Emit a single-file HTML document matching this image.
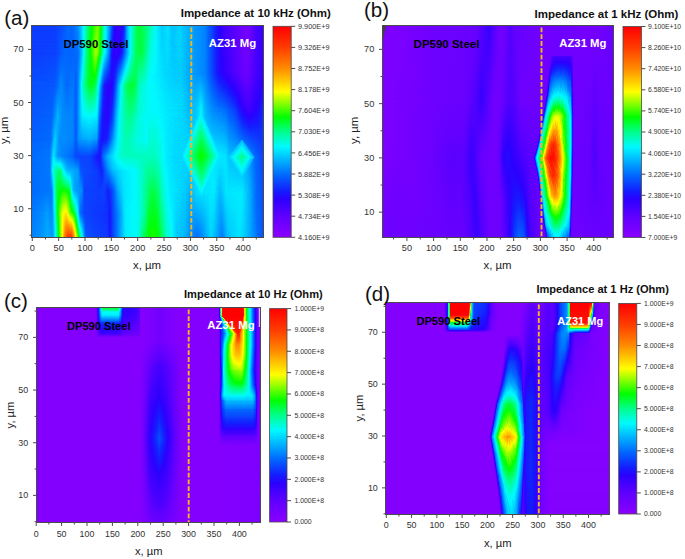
<!DOCTYPE html><html><head><meta charset="utf-8"><style>html,body{margin:0;padding:0;background:#fff;width:685px;height:559px;overflow:hidden}svg{display:block}</style></head><body><svg width="685" height="559" viewBox="0 0 685 559" font-family='"Liberation Sans", sans-serif'><defs><linearGradient id="fade" x1="0" y1="0" x2="0" y2="1"><stop offset="0" stop-color="#fff" stop-opacity="0"/><stop offset="1" stop-color="#fff"/></linearGradient><mask id="mf" maskContentUnits="objectBoundingBox"><rect width="1" height="1" fill="url(#fade)"/></mask><filter id="cm" x="0" y="0" width="1" height="1" color-interpolation-filters="sRGB"><feComponentTransfer><feFuncR type="table" tableValues=".549 .531 .514 .496 .478 .461 .443 .425 .408 .39 .373 .348 .324 .299 .275 .25 .225 .201 .176 .152 .127 .103 .078 .069 .059 .049 .039 .029 .02 .01 0 0 0 0 0 0 0 0 0 0 0 0 0 0 0 0 0 0 0 0 0 0 0 0 0 0 0 0 .083 .167 .25 .333 .417 .5 .583 .667 .75 .833 .917 1 1 1 1 1 1 1 1 1 1 1 1 1 1 1 1 1 1 1 1 1 1 1 1 1 1 1 1 1 1 1 1"/><feFuncG type="table" tableValues="0 0 0 0 0 0 0 0 0 0 0 0 0 0 0 0 0 0 0 .029 .059 .088 .118 .157 .196 .235 .275 .314 .353 .392 .431 .474 .516 .558 .6 .643 .685 .727 .769 .811 .854 .896 .938 .98 .983 .986 .989 .992 .994 .997 1 1 1 1 1 1 1 1 1 1 1 1 1 1 1 1 1 1 1 1 .959 .918 .877 .836 .795 .754 .713 .672 .631 .59 .549 .518 .486 .455 .424 .392 .361 .329 .298 .267 .235 .212 .188 .165 .141 .118 .094 .071 .047 .024 0"/><feFuncB type="table" tableValues="1 1 1 1 1 1 1 1 1 1 1 1 1 1 1 1 1 1 1 1 1 1 1 1 1 1 1 1 1 1 1 1 1 1 1 1 1 1 1 1 1 1 1 1 .936 .871 .807 .742 .678 .613 .549 .471 .392 .314 .235 .157 .078 0 0 0 0 0 0 0 0 0 0 0 0 0 0 0 0 0 0 0 0 0 0 0 0 0 0 0 0 0 0 0 0 0 0 0 0 0 0 0 0 0 0 0 0"/></feComponentTransfer></filter><linearGradient id="cbg" x1="0" y1="0" x2="0" y2="1"><stop offset="0" stop-color="#fff"/><stop offset="1" stop-color="#000"/></linearGradient><linearGradient id="a0r0" gradientUnits="userSpaceOnUse" x1="32" x2="149" y1="0" y2="0"><stop offset="0" stop-color="#404040"/><stop offset=".1966" stop-color="#404040"/><stop offset=".2735" stop-color="#474747"/><stop offset=".3077" stop-color="#4c4c4c"/><stop offset=".3419" stop-color="#4a4a4a"/><stop offset=".3932" stop-color="#545454"/><stop offset=".4359" stop-color="#6b6b6b"/><stop offset=".4701" stop-color="#808080"/><stop offset=".5043" stop-color="#8f8f8f"/><stop offset=".5385" stop-color="#999999"/><stop offset=".5641" stop-color="#a1a1a1"/><stop offset=".5897" stop-color="#919191"/><stop offset=".6154" stop-color="#787878"/><stop offset=".641" stop-color="#666666"/><stop offset=".6667" stop-color="#545454"/><stop offset=".7009" stop-color="#333333"/><stop offset=".7521" stop-color="#292929"/><stop offset=".7863" stop-color="#383838"/><stop offset=".812" stop-color="#5c5c5c"/><stop offset=".8462" stop-color="#737373"/><stop offset=".906" stop-color="#8c8c8c"/><stop offset=".9658" stop-color="#858585"/><stop offset="1" stop-color="#808080"/></linearGradient><linearGradient id="a0r1" gradientUnits="userSpaceOnUse" x1="32" x2="149" y1="0" y2="0"><stop offset="0" stop-color="#404040"/><stop offset=".2051" stop-color="#424242"/><stop offset=".2821" stop-color="#4c4c4c"/><stop offset=".3248" stop-color="#4a4a4a"/><stop offset=".3932" stop-color="#4c4c4c"/><stop offset=".4274" stop-color="#616161"/><stop offset=".4615" stop-color="#808080"/><stop offset=".4957" stop-color="#8f8f8f"/><stop offset=".547" stop-color="#a8a8a8"/><stop offset=".5812" stop-color="#949494"/><stop offset=".6068" stop-color="#787878"/><stop offset=".6325" stop-color="#666666"/><stop offset=".6581" stop-color="#525252"/><stop offset=".6838" stop-color="#333333"/><stop offset=".7179" stop-color="#292929"/><stop offset=".7607" stop-color="#333333"/><stop offset=".8034" stop-color="#545454"/><stop offset=".8462" stop-color="#737373"/><stop offset=".8889" stop-color="#878787"/><stop offset=".9402" stop-color="#8a8a8a"/><stop offset="1" stop-color="#787878"/></linearGradient><linearGradient id="a0r2" gradientUnits="userSpaceOnUse" x1="32" x2="149" y1="0" y2="0"><stop offset="0" stop-color="#454545"/><stop offset=".1966" stop-color="#474747"/><stop offset=".2479" stop-color="#545454"/><stop offset=".2906" stop-color="#4c4c4c"/><stop offset=".359" stop-color="#4f4f4f"/><stop offset=".3761" stop-color="#474747"/><stop offset=".4017" stop-color="#595959"/><stop offset=".4274" stop-color="#737373"/><stop offset=".4615" stop-color="#858585"/><stop offset=".4957" stop-color="#8f8f8f"/><stop offset=".5385" stop-color="#8a8a8a"/><stop offset=".5641" stop-color="#737373"/><stop offset=".5897" stop-color="#545454"/><stop offset=".6154" stop-color="#383838"/><stop offset=".6496" stop-color="#2e2e2e"/><stop offset=".6838" stop-color="#2e2e2e"/><stop offset=".7094" stop-color="#404040"/><stop offset=".735" stop-color="#595959"/><stop offset=".7692" stop-color="#737373"/><stop offset=".8034" stop-color="#858585"/><stop offset=".8462" stop-color="#8c8c8c"/><stop offset=".8889" stop-color="#878787"/><stop offset=".9145" stop-color="#787878"/><stop offset="1" stop-color="#6e6e6e"/></linearGradient><linearGradient id="a0r3" gradientUnits="userSpaceOnUse" x1="32" x2="149" y1="0" y2="0"><stop offset="0" stop-color="#474747"/><stop offset=".1709" stop-color="#4a4a4a"/><stop offset=".2179" stop-color="#5e5e5e"/><stop offset=".2564" stop-color="#545454"/><stop offset=".3504" stop-color="#525252"/><stop offset=".3761" stop-color="#474747"/><stop offset=".4017" stop-color="#595959"/><stop offset=".4274" stop-color="#6b6b6b"/><stop offset=".4957" stop-color="#6e6e6e"/><stop offset=".5556" stop-color="#6b6b6b"/><stop offset=".5769" stop-color="#4c4c4c"/><stop offset=".6068" stop-color="#333333"/><stop offset=".6496" stop-color="#303030"/><stop offset=".6838" stop-color="#3d3d3d"/><stop offset=".7179" stop-color="#5c5c5c"/><stop offset=".7521" stop-color="#707070"/><stop offset=".7863" stop-color="#7a7a7a"/><stop offset=".8376" stop-color="#808080"/><stop offset=".8803" stop-color="#7a7a7a"/><stop offset=".9145" stop-color="#737373"/><stop offset="1" stop-color="#6e6e6e"/></linearGradient><linearGradient id="a0r4" gradientUnits="userSpaceOnUse" x1="32" x2="149" y1="0" y2="0"><stop offset="0" stop-color="#4a4a4a"/><stop offset=".1624" stop-color="#4c4c4c"/><stop offset=".1966" stop-color="#666666"/><stop offset=".2308" stop-color="#545454"/><stop offset=".2821" stop-color="#545454"/><stop offset=".3504" stop-color="#525252"/><stop offset=".3761" stop-color="#474747"/><stop offset=".4017" stop-color="#575757"/><stop offset=".4957" stop-color="#5c5c5c"/><stop offset=".5556" stop-color="#575757"/><stop offset=".5726" stop-color="#404040"/><stop offset=".5983" stop-color="#333333"/><stop offset=".641" stop-color="#383838"/><stop offset=".6752" stop-color="#4c4c4c"/><stop offset=".7094" stop-color="#616161"/><stop offset=".7436" stop-color="#707070"/><stop offset=".7949" stop-color="#7a7a7a"/><stop offset=".8462" stop-color="#787878"/><stop offset=".8803" stop-color="#737373"/><stop offset="1" stop-color="#6e6e6e"/></linearGradient><linearGradient id="a0r5" gradientUnits="userSpaceOnUse" x1="32" x2="149" y1="0" y2="0"><stop offset="0" stop-color="#4c4c4c"/><stop offset=".1538" stop-color="#4f4f4f"/><stop offset=".1838" stop-color="#6b6b6b"/><stop offset=".2137" stop-color="#575757"/><stop offset=".2564" stop-color="#525252"/><stop offset=".3504" stop-color="#4a4a4a"/><stop offset=".3761" stop-color="#424242"/><stop offset=".4957" stop-color="#424242"/><stop offset=".547" stop-color="#383838"/><stop offset=".5812" stop-color="#333333"/><stop offset=".6068" stop-color="#4c4c4c"/><stop offset=".6496" stop-color="#5e5e5e"/><stop offset=".6923" stop-color="#696969"/><stop offset=".735" stop-color="#737373"/><stop offset=".7949" stop-color="#787878"/><stop offset=".8803" stop-color="#787878"/><stop offset=".9487" stop-color="#787878"/><stop offset="1" stop-color="#787878"/></linearGradient><linearGradient id="a0r6" gradientUnits="userSpaceOnUse" x1="32" x2="149" y1="0" y2="0"><stop offset="0" stop-color="#4c4c4c"/><stop offset=".1538" stop-color="#4f4f4f"/><stop offset=".1752" stop-color="#6e6e6e"/><stop offset=".2051" stop-color="#808080"/><stop offset=".2393" stop-color="#858585"/><stop offset=".2692" stop-color="#6e6e6e"/><stop offset=".2991" stop-color="#5e5e5e"/><stop offset=".3932" stop-color="#595959"/><stop offset=".4188" stop-color="#454545"/><stop offset=".5556" stop-color="#404040"/><stop offset=".5983" stop-color="#383838"/><stop offset=".6325" stop-color="#4c4c4c"/><stop offset=".6838" stop-color="#5e5e5e"/><stop offset=".735" stop-color="#666666"/><stop offset=".7949" stop-color="#6b6b6b"/><stop offset=".8803" stop-color="#6e6e6e"/><stop offset=".9316" stop-color="#757575"/><stop offset="1" stop-color="#808080"/></linearGradient><linearGradient id="a0r7" gradientUnits="userSpaceOnUse" x1="32" x2="149" y1="0" y2="0"><stop offset="0" stop-color="#4c4c4c"/><stop offset=".1709" stop-color="#4f4f4f"/><stop offset=".188" stop-color="#6e6e6e"/><stop offset=".2137" stop-color="#8c8c8c"/><stop offset=".2735" stop-color="#949494"/><stop offset=".3248" stop-color="#8c8c8c"/><stop offset=".3368" stop-color="#6e6e6e"/><stop offset=".359" stop-color="#595959"/><stop offset=".4274" stop-color="#545454"/><stop offset=".4444" stop-color="#424242"/><stop offset=".5812" stop-color="#404040"/><stop offset=".6154" stop-color="#424242"/><stop offset=".6496" stop-color="#383838"/><stop offset=".6838" stop-color="#424242"/><stop offset=".735" stop-color="#5c5c5c"/><stop offset=".7863" stop-color="#696969"/><stop offset=".8803" stop-color="#6e6e6e"/><stop offset=".9316" stop-color="#757575"/><stop offset="1" stop-color="#858585"/></linearGradient><linearGradient id="a0r8" gradientUnits="userSpaceOnUse" x1="32" x2="149" y1="0" y2="0"><stop offset="0" stop-color="#4f4f4f"/><stop offset=".094" stop-color="#545454"/><stop offset=".1282" stop-color="#595959"/><stop offset=".1709" stop-color="#525252"/><stop offset=".1949" stop-color="#6e6e6e"/><stop offset=".2137" stop-color="#8c8c8c"/><stop offset=".2564" stop-color="#adadad"/><stop offset=".2906" stop-color="#b8b8b8"/><stop offset=".3248" stop-color="#9e9e9e"/><stop offset=".359" stop-color="#919191"/><stop offset=".3906" stop-color="#6e6e6e"/><stop offset=".4103" stop-color="#4c4c4c"/><stop offset=".4444" stop-color="#424242"/><stop offset=".641" stop-color="#3d3d3d"/><stop offset=".6667" stop-color="#363636"/><stop offset=".7009" stop-color="#474747"/><stop offset=".7521" stop-color="#575757"/><stop offset=".7949" stop-color="#6b6b6b"/><stop offset=".906" stop-color="#707070"/><stop offset=".9487" stop-color="#7a7a7a"/><stop offset="1" stop-color="#8a8a8a"/></linearGradient><linearGradient id="a0r9" gradientUnits="userSpaceOnUse" x1="32" x2="149" y1="0" y2="0"><stop offset="0" stop-color="#525252"/><stop offset=".094" stop-color="#575757"/><stop offset=".1282" stop-color="#5c5c5c"/><stop offset=".1795" stop-color="#575757"/><stop offset=".2017" stop-color="#6e6e6e"/><stop offset=".2291" stop-color="#919191"/><stop offset=".2564" stop-color="#adadad"/><stop offset=".2821" stop-color="#d6d6d6"/><stop offset=".3077" stop-color="#ebebeb"/><stop offset=".3368" stop-color="#ebebeb"/><stop offset=".3504" stop-color="#dbdbdb"/><stop offset=".3761" stop-color="#b2b2b2"/><stop offset=".4017" stop-color="#919191"/><stop offset=".4308" stop-color="#6e6e6e"/><stop offset=".4581" stop-color="#474747"/><stop offset=".5385" stop-color="#424242"/><stop offset=".641" stop-color="#404040"/><stop offset=".6667" stop-color="#363636"/><stop offset=".6923" stop-color="#424242"/><stop offset=".7521" stop-color="#595959"/><stop offset=".8034" stop-color="#6b6b6b"/><stop offset=".906" stop-color="#707070"/><stop offset=".9487" stop-color="#858585"/><stop offset="1" stop-color="#919191"/></linearGradient><linearGradient id="a1r0" gradientUnits="userSpaceOnUse" x1="148" x2="263" y1="0" y2="0"><stop offset="0" stop-color="#808080"/><stop offset=".0261" stop-color="#787878"/><stop offset=".0696" stop-color="#6e6e6e"/><stop offset=".1217" stop-color="#636363"/><stop offset=".1739" stop-color="#696969"/><stop offset=".2087" stop-color="#616161"/><stop offset=".2783" stop-color="#666666"/><stop offset=".313" stop-color="#616161"/><stop offset=".3652" stop-color="#5c5c5c"/><stop offset=".4087" stop-color="#575757"/><stop offset=".4957" stop-color="#525252"/><stop offset=".5478" stop-color="#454545"/><stop offset=".6087" stop-color="#333333"/><stop offset=".6783" stop-color="#242424"/><stop offset=".7565" stop-color="#1c1c1c"/><stop offset=".8174" stop-color="#121212"/><stop offset=".8609" stop-color="#0d0d0d"/><stop offset=".8957" stop-color="#141414"/><stop offset=".9391" stop-color="#242424"/><stop offset="1" stop-color="#292929"/></linearGradient><linearGradient id="a1r1" gradientUnits="userSpaceOnUse" x1="148" x2="263" y1="0" y2="0"><stop offset="0" stop-color="#707070"/><stop offset=".0435" stop-color="#6e6e6e"/><stop offset=".087" stop-color="#6b6b6b"/><stop offset=".1478" stop-color="#666666"/><stop offset=".2348" stop-color="#636363"/><stop offset=".2957" stop-color="#636363"/><stop offset=".3478" stop-color="#5c5c5c"/><stop offset=".4087" stop-color="#575757"/><stop offset=".4957" stop-color="#525252"/><stop offset=".5478" stop-color="#454545"/><stop offset=".6174" stop-color="#333333"/><stop offset=".713" stop-color="#262626"/><stop offset=".8" stop-color="#1a1a1a"/><stop offset=".8522" stop-color="#121212"/><stop offset=".8957" stop-color="#1a1a1a"/><stop offset=".9478" stop-color="#262626"/><stop offset="1" stop-color="#2b2b2b"/></linearGradient><linearGradient id="a1r2" gradientUnits="userSpaceOnUse" x1="148" x2="263" y1="0" y2="0"><stop offset="0" stop-color="#6e6e6e"/><stop offset=".0696" stop-color="#6e6e6e"/><stop offset=".1913" stop-color="#696969"/><stop offset=".2957" stop-color="#666666"/><stop offset=".3652" stop-color="#5e5e5e"/><stop offset=".4261" stop-color="#636363"/><stop offset=".4609" stop-color="#6e6e6e"/><stop offset=".4957" stop-color="#5e5e5e"/><stop offset=".5565" stop-color="#545454"/><stop offset=".6696" stop-color="#4c4c4c"/><stop offset=".7565" stop-color="#404040"/><stop offset=".8261" stop-color="#2e2e2e"/><stop offset=".8783" stop-color="#262626"/><stop offset=".9304" stop-color="#2e2e2e"/><stop offset=".9739" stop-color="#333333"/><stop offset="1" stop-color="#3d3d3d"/></linearGradient><linearGradient id="a1r3" gradientUnits="userSpaceOnUse" x1="148" x2="263" y1="0" y2="0"><stop offset="0" stop-color="#787878"/><stop offset=".0609" stop-color="#787878"/><stop offset=".1043" stop-color="#737373"/><stop offset=".1565" stop-color="#6b6b6b"/><stop offset=".2348" stop-color="#666666"/><stop offset=".2957" stop-color="#666666"/><stop offset=".6087" stop-color="#6b6b6b"/><stop offset=".6783" stop-color="#696969"/><stop offset=".7043" stop-color="#616161"/><stop offset=".8696" stop-color="#595959"/><stop offset=".9304" stop-color="#4c4c4c"/><stop offset="1" stop-color="#424242"/></linearGradient><linearGradient id="a1r4" gradientUnits="userSpaceOnUse" x1="148" x2="263" y1="0" y2="0"><stop offset="0" stop-color="#858585"/><stop offset=".0435" stop-color="#8a8a8a"/><stop offset=".087" stop-color="#858585"/><stop offset=".1304" stop-color="#757575"/><stop offset=".1913" stop-color="#6b6b6b"/><stop offset=".3217" stop-color="#636363"/><stop offset=".3652" stop-color="#5c5c5c"/><stop offset=".4174" stop-color="#666666"/><stop offset=".5739" stop-color="#6b6b6b"/><stop offset=".6261" stop-color="#5e5e5e"/><stop offset=".6783" stop-color="#696969"/><stop offset=".8174" stop-color="#6b6b6b"/><stop offset=".887" stop-color="#5c5c5c"/><stop offset=".9391" stop-color="#4c4c4c"/><stop offset="1" stop-color="#454545"/></linearGradient><linearGradient id="a1r5" gradientUnits="userSpaceOnUse" x1="148" x2="263" y1="0" y2="0"><stop offset="0" stop-color="#919191"/><stop offset=".0261" stop-color="#949494"/><stop offset=".0696" stop-color="#949494"/><stop offset=".113" stop-color="#8a8a8a"/><stop offset=".1565" stop-color="#787878"/><stop offset=".2087" stop-color="#6e6e6e"/><stop offset=".2435" stop-color="#636363"/><stop offset=".3217" stop-color="#5e5e5e"/><stop offset=".3652" stop-color="#545454"/><stop offset=".4261" stop-color="#4c4c4c"/><stop offset=".4783" stop-color="#545454"/><stop offset=".5478" stop-color="#666666"/><stop offset=".5913" stop-color="#5c5c5c"/><stop offset=".6435" stop-color="#4f4f4f"/><stop offset=".6957" stop-color="#616161"/><stop offset=".8" stop-color="#696969"/><stop offset=".8522" stop-color="#616161"/><stop offset=".9043" stop-color="#575757"/><stop offset=".9565" stop-color="#4c4c4c"/><stop offset="1" stop-color="#474747"/></linearGradient><linearGradient id="at0" gradientUnits="userSpaceOnUse" x1="200.5" y1="110" x2="209.04" y2="113.53"><stop offset="0" stop-color="#666666"/><stop offset="1" stop-color="#828282"/></linearGradient><linearGradient id="at1" gradientUnits="userSpaceOnUse" x1="200.5" y1="110" x2="192.51" y2="113.47"><stop offset="0" stop-color="#666666"/><stop offset="1" stop-color="#828282"/></linearGradient><linearGradient id="at2" gradientUnits="userSpaceOnUse" x1="201.5" y1="198" x2="209.65" y2="194.12"><stop offset="0" stop-color="#666666"/><stop offset="1" stop-color="#828282"/></linearGradient><linearGradient id="at3" gradientUnits="userSpaceOnUse" x1="201.5" y1="198" x2="193.61" y2="194.43"><stop offset="0" stop-color="#666666"/><stop offset="1" stop-color="#828282"/></linearGradient><linearGradient id="at4" gradientUnits="userSpaceOnUse" x1="220.5" y1="156" x2="212.51" y2="159.47"><stop offset="0" stop-color="#666666"/><stop offset="1" stop-color="#828282"/></linearGradient><linearGradient id="at5" gradientUnits="userSpaceOnUse" x1="211" y1="156" x2="203.01" y2="159.47"><stop offset="0" stop-color="#828282"/><stop offset="1" stop-color="#949494"/></linearGradient><linearGradient id="at6" gradientUnits="userSpaceOnUse" x1="220.5" y1="156" x2="212.61" y2="152.43"><stop offset="0" stop-color="#666666"/><stop offset="1" stop-color="#828282"/></linearGradient><linearGradient id="at7" gradientUnits="userSpaceOnUse" x1="211" y1="156" x2="203.11" y2="152.43"><stop offset="0" stop-color="#828282"/><stop offset="1" stop-color="#949494"/></linearGradient><linearGradient id="at8" gradientUnits="userSpaceOnUse" x1="181.5" y1="156" x2="190.22" y2="152.06"><stop offset="0" stop-color="#666666"/><stop offset="1" stop-color="#828282"/></linearGradient><linearGradient id="at9" gradientUnits="userSpaceOnUse" x1="192" y1="156" x2="199.89" y2="152.43"><stop offset="0" stop-color="#828282"/><stop offset="1" stop-color="#949494"/></linearGradient><linearGradient id="at10" gradientUnits="userSpaceOnUse" x1="181.5" y1="156" x2="190.61" y2="159.56"><stop offset="0" stop-color="#666666"/><stop offset="1" stop-color="#828282"/></linearGradient><linearGradient id="at11" gradientUnits="userSpaceOnUse" x1="192" y1="156" x2="200.24" y2="159.22"><stop offset="0" stop-color="#828282"/><stop offset="1" stop-color="#949494"/></linearGradient><linearGradient id="at12" gradientUnits="userSpaceOnUse" x1="242" y1="180" x2="247.77" y2="176.49"><stop offset="0" stop-color="#616161"/><stop offset="1" stop-color="#737373"/></linearGradient><linearGradient id="at13" gradientUnits="userSpaceOnUse" x1="254" y1="157" x2="248.18" y2="154.19"><stop offset="0" stop-color="#5e5e5e"/><stop offset="1" stop-color="#737373"/></linearGradient><linearGradient id="at14" gradientUnits="userSpaceOnUse" x1="228" y1="157" x2="233.88" y2="153.47"><stop offset="0" stop-color="#616161"/><stop offset="1" stop-color="#737373"/></linearGradient><linearGradient id="at15" gradientUnits="userSpaceOnUse" x1="236" y1="157" x2="240.41" y2="154.35"><stop offset="0" stop-color="#737373"/><stop offset="1" stop-color="#808080"/></linearGradient><linearGradient id="at16" gradientUnits="userSpaceOnUse" x1="254" y1="157" x2="249.59" y2="154.35"><stop offset="0" stop-color="#5e5e5e"/><stop offset="1" stop-color="#737373"/></linearGradient><linearGradient id="at17" gradientUnits="userSpaceOnUse" x1="248" y1="157" x2="243.59" y2="154.35"><stop offset="0" stop-color="#737373"/><stop offset="1" stop-color="#808080"/></linearGradient><linearGradient id="at18" gradientUnits="userSpaceOnUse" x1="242" y1="150" x2="238.54" y2="152.96"><stop offset="0" stop-color="#737373"/><stop offset="1" stop-color="#808080"/></linearGradient><linearGradient id="at19" gradientUnits="userSpaceOnUse" x1="236" y1="157" x2="239.46" y2="159.96"><stop offset="0" stop-color="#737373"/><stop offset="1" stop-color="#808080"/></linearGradient><linearGradient id="at20" gradientUnits="userSpaceOnUse" x1="242" y1="140" x2="237.29" y2="143.33"><stop offset="0" stop-color="#5e5e5e"/><stop offset="1" stop-color="#737373"/></linearGradient><linearGradient id="at21" gradientUnits="userSpaceOnUse" x1="254" y1="157" x2="250.54" y2="159.96"><stop offset="0" stop-color="#5e5e5e"/><stop offset="1" stop-color="#737373"/></linearGradient><linearGradient id="at22" gradientUnits="userSpaceOnUse" x1="242" y1="140" x2="246.97" y2="144.41"><stop offset="0" stop-color="#5e5e5e"/><stop offset="1" stop-color="#737373"/></linearGradient><linearGradient id="at23" gradientUnits="userSpaceOnUse" x1="228" y1="157" x2="232.61" y2="160.95"><stop offset="0" stop-color="#616161"/><stop offset="1" stop-color="#737373"/></linearGradient><clipPath id="cpa"><rect x="32" y="26" width="231" height="211"/></clipPath><linearGradient id="b0r0" gradientUnits="userSpaceOnUse" x1="383" x2="613" y1="0" y2="0"><stop offset="0" stop-color="#080808"/><stop offset=".087" stop-color="#0a0a0a"/><stop offset=".2348" stop-color="#121212"/><stop offset=".4" stop-color="#141414"/><stop offset=".4348" stop-color="#1f1f1f"/><stop offset=".4609" stop-color="#2b2b2b"/><stop offset=".4826" stop-color="#1f1f1f"/><stop offset=".5087" stop-color="#0f0f0f"/><stop offset=".5348" stop-color="#141414"/><stop offset=".5522" stop-color="#1f1f1f"/><stop offset=".5739" stop-color="#171717"/><stop offset=".6391" stop-color="#121212"/><stop offset=".7043" stop-color="#0f0f0f"/><stop offset=".7696" stop-color="#121212"/><stop offset=".8348" stop-color="#0f0f0f"/><stop offset=".9217" stop-color="#0d0d0d"/><stop offset=".9696" stop-color="#121212"/><stop offset="1" stop-color="#171717"/></linearGradient><linearGradient id="b0r1" gradientUnits="userSpaceOnUse" x1="383" x2="613" y1="0" y2="0"><stop offset="0" stop-color="#080808"/><stop offset=".087" stop-color="#0d0d0d"/><stop offset=".2348" stop-color="#121212"/><stop offset=".3565" stop-color="#141414"/><stop offset=".4" stop-color="#1f1f1f"/><stop offset=".4261" stop-color="#2b2b2b"/><stop offset=".4522" stop-color="#1f1f1f"/><stop offset=".487" stop-color="#0f0f0f"/><stop offset=".5174" stop-color="#121212"/><stop offset=".5391" stop-color="#1f1f1f"/><stop offset=".5696" stop-color="#1f1f1f"/><stop offset=".5957" stop-color="#121212"/><stop offset=".6391" stop-color="#121212"/><stop offset=".8348" stop-color="#121212"/><stop offset=".9" stop-color="#141414"/><stop offset=".9217" stop-color="#1a1a1a"/><stop offset=".9435" stop-color="#141414"/><stop offset="1" stop-color="#141414"/></linearGradient><linearGradient id="b0r2" gradientUnits="userSpaceOnUse" x1="383" x2="613" y1="0" y2="0"><stop offset="0" stop-color="#0a0a0a"/><stop offset=".0739" stop-color="#0d0d0d"/><stop offset=".2043" stop-color="#121212"/><stop offset=".2696" stop-color="#1a1a1a"/><stop offset=".313" stop-color="#1c1c1c"/><stop offset=".3478" stop-color="#1a1a1a"/><stop offset=".3652" stop-color="#212121"/><stop offset=".3826" stop-color="#2b2b2b"/><stop offset=".4043" stop-color="#212121"/><stop offset=".4304" stop-color="#141414"/><stop offset=".487" stop-color="#0f0f0f"/><stop offset=".5087" stop-color="#1a1a1a"/><stop offset=".5217" stop-color="#2e2e2e"/><stop offset=".5435" stop-color="#333333"/><stop offset=".5739" stop-color="#2b2b2b"/><stop offset=".6174" stop-color="#1f1f1f"/><stop offset=".6522" stop-color="#1a1a1a"/><stop offset=".8348" stop-color="#121212"/><stop offset=".9" stop-color="#171717"/><stop offset=".9217" stop-color="#212121"/><stop offset=".9435" stop-color="#171717"/><stop offset="1" stop-color="#141414"/></linearGradient><linearGradient id="b0r3" gradientUnits="userSpaceOnUse" x1="383" x2="613" y1="0" y2="0"><stop offset="0" stop-color="#0d0d0d"/><stop offset=".0522" stop-color="#121212"/><stop offset=".1174" stop-color="#0f0f0f"/><stop offset=".2478" stop-color="#141414"/><stop offset=".2913" stop-color="#1a1a1a"/><stop offset=".3348" stop-color="#171717"/><stop offset=".3783" stop-color="#212121"/><stop offset=".4" stop-color="#2b2b2b"/><stop offset=".4217" stop-color="#1f1f1f"/><stop offset=".4565" stop-color="#121212"/><stop offset=".5087" stop-color="#121212"/><stop offset=".5348" stop-color="#242424"/><stop offset=".5609" stop-color="#333333"/><stop offset=".587" stop-color="#383838"/><stop offset=".613" stop-color="#333333"/><stop offset=".6391" stop-color="#1f1f1f"/><stop offset=".6826" stop-color="#141414"/><stop offset=".8348" stop-color="#121212"/><stop offset=".9217" stop-color="#1a1a1a"/><stop offset="1" stop-color="#141414"/></linearGradient><linearGradient id="b0r4" gradientUnits="userSpaceOnUse" x1="383" x2="613" y1="0" y2="0"><stop offset="0" stop-color="#0d0d0d"/><stop offset=".0391" stop-color="#141414"/><stop offset=".0739" stop-color="#121212"/><stop offset=".2478" stop-color="#141414"/><stop offset=".3565" stop-color="#171717"/><stop offset=".387" stop-color="#212121"/><stop offset=".4087" stop-color="#2b2b2b"/><stop offset=".4304" stop-color="#1f1f1f"/><stop offset=".4652" stop-color="#121212"/><stop offset=".5087" stop-color="#121212"/><stop offset=".5435" stop-color="#262626"/><stop offset=".5696" stop-color="#404040"/><stop offset=".5913" stop-color="#4c4c4c"/><stop offset=".613" stop-color="#474747"/><stop offset=".6391" stop-color="#262626"/><stop offset=".6826" stop-color="#141414"/><stop offset=".8348" stop-color="#121212"/><stop offset=".9217" stop-color="#141414"/><stop offset="1" stop-color="#141414"/></linearGradient><linearGradient id="bt0" gradientUnits="userSpaceOnUse" x1="551" y1="55.5" x2="551" y2="57"><stop offset="0" stop-color="#141414"/><stop offset="1" stop-color="#242424"/></linearGradient><linearGradient id="bt1" gradientUnits="userSpaceOnUse" x1="551" y1="55.5" x2="553.25" y2="56.25"><stop offset="0" stop-color="#141414"/><stop offset="1" stop-color="#242424"/></linearGradient><linearGradient id="bt2" gradientUnits="userSpaceOnUse" x1="553" y1="55.5" x2="553" y2="57"><stop offset="0" stop-color="#141414"/><stop offset="1" stop-color="#262626"/></linearGradient><linearGradient id="bt3" gradientUnits="userSpaceOnUse" x1="553" y1="55.5" x2="553.14" y2="57.24"><stop offset="0" stop-color="#141414"/><stop offset="1" stop-color="#262626"/></linearGradient><linearGradient id="bt4" gradientUnits="userSpaceOnUse" x1="556" y1="55.5" x2="556" y2="57"><stop offset="0" stop-color="#141414"/><stop offset="1" stop-color="#262626"/></linearGradient><linearGradient id="bt5" gradientUnits="userSpaceOnUse" x1="556" y1="55.5" x2="556" y2="57"><stop offset="0" stop-color="#141414"/><stop offset="1" stop-color="#262626"/></linearGradient><linearGradient id="bt6" gradientUnits="userSpaceOnUse" x1="559" y1="55.5" x2="559" y2="57"><stop offset="0" stop-color="#141414"/><stop offset="1" stop-color="#262626"/></linearGradient><linearGradient id="bt7" gradientUnits="userSpaceOnUse" x1="559" y1="55.5" x2="559" y2="57"><stop offset="0" stop-color="#141414"/><stop offset="1" stop-color="#262626"/></linearGradient><linearGradient id="bt8" gradientUnits="userSpaceOnUse" x1="562" y1="55.5" x2="562" y2="57"><stop offset="0" stop-color="#141414"/><stop offset="1" stop-color="#262626"/></linearGradient><linearGradient id="bt9" gradientUnits="userSpaceOnUse" x1="562" y1="55.5" x2="562" y2="57"><stop offset="0" stop-color="#141414"/><stop offset="1" stop-color="#262626"/></linearGradient><linearGradient id="bt10" gradientUnits="userSpaceOnUse" x1="565" y1="55.5" x2="565" y2="57"><stop offset="0" stop-color="#141414"/><stop offset="1" stop-color="#262626"/></linearGradient><linearGradient id="bt11" gradientUnits="userSpaceOnUse" x1="565" y1="55.5" x2="565" y2="57"><stop offset="0" stop-color="#141414"/><stop offset="1" stop-color="#262626"/></linearGradient><linearGradient id="bt12" gradientUnits="userSpaceOnUse" x1="568" y1="55.5" x2="568" y2="57"><stop offset="0" stop-color="#141414"/><stop offset="1" stop-color="#242424"/></linearGradient><linearGradient id="bt13" gradientUnits="userSpaceOnUse" x1="568" y1="55.5" x2="567.89" y2="56.99"><stop offset="0" stop-color="#141414"/><stop offset="1" stop-color="#262626"/></linearGradient><linearGradient id="bt15" gradientUnits="userSpaceOnUse" x1="571" y1="55.5" x2="570.34" y2="56.6"><stop offset="0" stop-color="#141414"/><stop offset="1" stop-color="#242424"/></linearGradient><linearGradient id="bt16" gradientUnits="userSpaceOnUse" x1="550.5" y1="57" x2="554.33" y2="58.13"><stop offset="0" stop-color="#141414"/><stop offset="1" stop-color="#2e2e2e"/></linearGradient><linearGradient id="bt17" gradientUnits="userSpaceOnUse" x1="550.5" y1="57" x2="552.97" y2="57.27"><stop offset="0" stop-color="#141414"/><stop offset="1" stop-color="#2e2e2e"/></linearGradient><linearGradient id="bt18" gradientUnits="userSpaceOnUse" x1="553" y1="57" x2="557.33" y2="64.69"><stop offset="0" stop-color="#242424"/><stop offset="1" stop-color="#333333"/></linearGradient><linearGradient id="bt19" gradientUnits="userSpaceOnUse" x1="553" y1="57" x2="558.61" y2="61.36"><stop offset="0" stop-color="#242424"/><stop offset="1" stop-color="#333333"/></linearGradient><linearGradient id="bt20" gradientUnits="userSpaceOnUse" x1="556" y1="57" x2="556" y2="66"><stop offset="0" stop-color="#262626"/><stop offset="1" stop-color="#363636"/></linearGradient><linearGradient id="bt21" gradientUnits="userSpaceOnUse" x1="556" y1="57" x2="560.33" y2="64.69"><stop offset="0" stop-color="#262626"/><stop offset="1" stop-color="#363636"/></linearGradient><linearGradient id="bt22" gradientUnits="userSpaceOnUse" x1="559" y1="57" x2="559" y2="66"><stop offset="0" stop-color="#262626"/><stop offset="1" stop-color="#363636"/></linearGradient><linearGradient id="bt23" gradientUnits="userSpaceOnUse" x1="559" y1="57" x2="559" y2="66"><stop offset="0" stop-color="#262626"/><stop offset="1" stop-color="#363636"/></linearGradient><linearGradient id="bt24" gradientUnits="userSpaceOnUse" x1="562" y1="57" x2="562" y2="66"><stop offset="0" stop-color="#262626"/><stop offset="1" stop-color="#363636"/></linearGradient><linearGradient id="bt25" gradientUnits="userSpaceOnUse" x1="562" y1="57" x2="562" y2="66"><stop offset="0" stop-color="#262626"/><stop offset="1" stop-color="#363636"/></linearGradient><linearGradient id="bt26" gradientUnits="userSpaceOnUse" x1="565" y1="57" x2="565" y2="66"><stop offset="0" stop-color="#262626"/><stop offset="1" stop-color="#333333"/></linearGradient><linearGradient id="bt27" gradientUnits="userSpaceOnUse" x1="565" y1="57" x2="561.06" y2="64.44"><stop offset="0" stop-color="#262626"/><stop offset="1" stop-color="#363636"/></linearGradient><linearGradient id="bt28" gradientUnits="userSpaceOnUse" x1="571" y1="57" x2="566.68" y2="62.76"><stop offset="0" stop-color="#242424"/><stop offset="1" stop-color="#2e2e2e"/></linearGradient><linearGradient id="bt29" gradientUnits="userSpaceOnUse" x1="568" y1="57" x2="563" y2="62"><stop offset="0" stop-color="#262626"/><stop offset="1" stop-color="#333333"/></linearGradient><linearGradient id="bt30" gradientUnits="userSpaceOnUse" x1="573.5" y1="57" x2="571" y2="57"><stop offset="0" stop-color="#141414"/><stop offset="1" stop-color="#242424"/></linearGradient><linearGradient id="bt31" gradientUnits="userSpaceOnUse" x1="573.5" y1="66" x2="571.03" y2="66.27"><stop offset="0" stop-color="#141414"/><stop offset="1" stop-color="#2e2e2e"/></linearGradient><linearGradient id="bt32" gradientUnits="userSpaceOnUse" x1="549.5" y1="66" x2="553.97" y2="67.12"><stop offset="0" stop-color="#141414"/><stop offset="1" stop-color="#454545"/></linearGradient><linearGradient id="bt33" gradientUnits="userSpaceOnUse" x1="549.5" y1="66" x2="551.98" y2="66.25"><stop offset="0" stop-color="#141414"/><stop offset="1" stop-color="#454545"/></linearGradient><linearGradient id="bt34" gradientUnits="userSpaceOnUse" x1="552" y1="66" x2="559.99" y2="75.59"><stop offset="0" stop-color="#2e2e2e"/><stop offset="1" stop-color="#4f4f4f"/></linearGradient><linearGradient id="bt35" gradientUnits="userSpaceOnUse" x1="552" y1="66" x2="559.49" y2="70.12"><stop offset="0" stop-color="#2e2e2e"/><stop offset="1" stop-color="#4f4f4f"/></linearGradient><linearGradient id="bt36" gradientUnits="userSpaceOnUse" x1="555" y1="66" x2="560.51" y2="79.58"><stop offset="0" stop-color="#333333"/><stop offset="1" stop-color="#545454"/></linearGradient><linearGradient id="bt37" gradientUnits="userSpaceOnUse" x1="555" y1="66" x2="562.81" y2="76.8"><stop offset="0" stop-color="#333333"/><stop offset="1" stop-color="#545454"/></linearGradient><linearGradient id="bt38" gradientUnits="userSpaceOnUse" x1="558" y1="66" x2="558" y2="81"><stop offset="0" stop-color="#363636"/><stop offset="1" stop-color="#545454"/></linearGradient><linearGradient id="bt39" gradientUnits="userSpaceOnUse" x1="558" y1="66" x2="558" y2="81"><stop offset="0" stop-color="#363636"/><stop offset="1" stop-color="#545454"/></linearGradient><linearGradient id="bt40" gradientUnits="userSpaceOnUse" x1="561" y1="66" x2="561" y2="81"><stop offset="0" stop-color="#363636"/><stop offset="1" stop-color="#525252"/></linearGradient><linearGradient id="bt41" gradientUnits="userSpaceOnUse" x1="561" y1="66" x2="556.15" y2="79.43"><stop offset="0" stop-color="#363636"/><stop offset="1" stop-color="#545454"/></linearGradient><linearGradient id="bt42" gradientUnits="userSpaceOnUse" x1="567" y1="66" x2="561" y2="78"><stop offset="0" stop-color="#333333"/><stop offset="1" stop-color="#4c4c4c"/></linearGradient><linearGradient id="bt43" gradientUnits="userSpaceOnUse" x1="564" y1="66" x2="556.53" y2="74.21"><stop offset="0" stop-color="#363636"/><stop offset="1" stop-color="#525252"/></linearGradient><linearGradient id="bt44" gradientUnits="userSpaceOnUse" x1="571" y1="66" x2="563.52" y2="73.98"><stop offset="0" stop-color="#2e2e2e"/><stop offset="1" stop-color="#424242"/></linearGradient><linearGradient id="bt45" gradientUnits="userSpaceOnUse" x1="567" y1="66" x2="560.08" y2="70.62"><stop offset="0" stop-color="#333333"/><stop offset="1" stop-color="#4c4c4c"/></linearGradient><linearGradient id="bt46" gradientUnits="userSpaceOnUse" x1="573.5" y1="66" x2="571" y2="66"><stop offset="0" stop-color="#141414"/><stop offset="1" stop-color="#2e2e2e"/></linearGradient><linearGradient id="bt47" gradientUnits="userSpaceOnUse" x1="573.5" y1="81" x2="571.01" y2="81.18"><stop offset="0" stop-color="#141414"/><stop offset="1" stop-color="#424242"/></linearGradient><linearGradient id="bt48" gradientUnits="userSpaceOnUse" x1="548" y1="81" x2="551.46" y2="81.55"><stop offset="0" stop-color="#141414"/><stop offset="1" stop-color="#595959"/></linearGradient><linearGradient id="bt49" gradientUnits="userSpaceOnUse" x1="548" y1="81" x2="550.95" y2="81.37"><stop offset="0" stop-color="#141414"/><stop offset="1" stop-color="#595959"/></linearGradient><linearGradient id="bt50" gradientUnits="userSpaceOnUse" x1="550.5" y1="81" x2="558.93" y2="85.87"><stop offset="0" stop-color="#454545"/><stop offset="1" stop-color="#6b6b6b"/></linearGradient><linearGradient id="bt51" gradientUnits="userSpaceOnUse" x1="550.5" y1="81" x2="557.21" y2="83.31"><stop offset="0" stop-color="#454545"/><stop offset="1" stop-color="#6b6b6b"/></linearGradient><linearGradient id="bt52" gradientUnits="userSpaceOnUse" x1="553.5" y1="81" x2="561.98" y2="92.65"><stop offset="0" stop-color="#4f4f4f"/><stop offset="1" stop-color="#737373"/></linearGradient><linearGradient id="bt53" gradientUnits="userSpaceOnUse" x1="553.5" y1="81" x2="562.85" y2="89.08"><stop offset="0" stop-color="#4f4f4f"/><stop offset="1" stop-color="#737373"/></linearGradient><linearGradient id="bt54" gradientUnits="userSpaceOnUse" x1="557" y1="81" x2="557" y2="97"><stop offset="0" stop-color="#545454"/><stop offset="1" stop-color="#737373"/></linearGradient><linearGradient id="bt55" gradientUnits="userSpaceOnUse" x1="557" y1="81" x2="557" y2="97"><stop offset="0" stop-color="#545454"/><stop offset="1" stop-color="#737373"/></linearGradient><linearGradient id="bt56" gradientUnits="userSpaceOnUse" x1="564" y1="81" x2="558.33" y2="94.64"><stop offset="0" stop-color="#525252"/><stop offset="1" stop-color="#6e6e6e"/></linearGradient><linearGradient id="bt57" gradientUnits="userSpaceOnUse" x1="560.5" y1="81" x2="552.9" y2="92.16"><stop offset="0" stop-color="#545454"/><stop offset="1" stop-color="#737373"/></linearGradient><linearGradient id="bt58" gradientUnits="userSpaceOnUse" x1="567" y1="81" x2="559.26" y2="88.5"><stop offset="0" stop-color="#4c4c4c"/><stop offset="1" stop-color="#666666"/></linearGradient><linearGradient id="bt59" gradientUnits="userSpaceOnUse" x1="564" y1="81" x2="556.19" y2="87.26"><stop offset="0" stop-color="#525252"/><stop offset="1" stop-color="#6e6e6e"/></linearGradient><linearGradient id="bt60" gradientUnits="userSpaceOnUse" x1="571" y1="81" x2="565.12" y2="83.57"><stop offset="0" stop-color="#424242"/><stop offset="1" stop-color="#545454"/></linearGradient><linearGradient id="bt61" gradientUnits="userSpaceOnUse" x1="567" y1="81" x2="562.53" y2="82.54"><stop offset="0" stop-color="#4c4c4c"/><stop offset="1" stop-color="#666666"/></linearGradient><linearGradient id="bt62" gradientUnits="userSpaceOnUse" x1="573.5" y1="81" x2="571" y2="81"><stop offset="0" stop-color="#141414"/><stop offset="1" stop-color="#424242"/></linearGradient><linearGradient id="bt63" gradientUnits="userSpaceOnUse" x1="573.5" y1="97" x2="571" y2="97.11"><stop offset="0" stop-color="#141414"/><stop offset="1" stop-color="#545454"/></linearGradient><linearGradient id="bt64" gradientUnits="userSpaceOnUse" x1="546" y1="97" x2="549.4" y2="97.73"><stop offset="0" stop-color="#141414"/><stop offset="1" stop-color="#666666"/></linearGradient><linearGradient id="bt65" gradientUnits="userSpaceOnUse" x1="546" y1="97" x2="548.9" y2="97.53"><stop offset="0" stop-color="#141414"/><stop offset="1" stop-color="#666666"/></linearGradient><linearGradient id="bt66" gradientUnits="userSpaceOnUse" x1="549" y1="97" x2="557" y2="101"><stop offset="0" stop-color="#595959"/><stop offset="1" stop-color="#8c8c8c"/></linearGradient><linearGradient id="bt67" gradientUnits="userSpaceOnUse" x1="549" y1="97" x2="554.01" y2="98.27"><stop offset="0" stop-color="#595959"/><stop offset="1" stop-color="#8c8c8c"/></linearGradient><linearGradient id="bt68" gradientUnits="userSpaceOnUse" x1="552.5" y1="97" x2="561.77" y2="110.18"><stop offset="0" stop-color="#6b6b6b"/><stop offset="1" stop-color="#a8a8a8"/></linearGradient><linearGradient id="bt69" gradientUnits="userSpaceOnUse" x1="552.5" y1="97" x2="559.99" y2="100.05"><stop offset="0" stop-color="#6b6b6b"/><stop offset="1" stop-color="#a8a8a8"/></linearGradient><linearGradient id="bt70" gradientUnits="userSpaceOnUse" x1="556" y1="97" x2="556" y2="116"><stop offset="0" stop-color="#737373"/><stop offset="1" stop-color="#adadad"/></linearGradient><linearGradient id="bt71" gradientUnits="userSpaceOnUse" x1="556" y1="97" x2="563.09" y2="113.61"><stop offset="0" stop-color="#737373"/><stop offset="1" stop-color="#adadad"/></linearGradient><linearGradient id="bt72" gradientUnits="userSpaceOnUse" x1="564" y1="97" x2="556.11" y2="113.41"><stop offset="0" stop-color="#6e6e6e"/><stop offset="1" stop-color="#a3a3a3"/></linearGradient><linearGradient id="bt73" gradientUnits="userSpaceOnUse" x1="560" y1="97" x2="549.37" y2="108.47"><stop offset="0" stop-color="#737373"/><stop offset="1" stop-color="#adadad"/></linearGradient><linearGradient id="bt74" gradientUnits="userSpaceOnUse" x1="567.5" y1="97" x2="556.99" y2="105.57"><stop offset="0" stop-color="#666666"/><stop offset="1" stop-color="#8c8c8c"/></linearGradient><linearGradient id="bt75" gradientUnits="userSpaceOnUse" x1="564" y1="97" x2="555.74" y2="99.97"><stop offset="0" stop-color="#6e6e6e"/><stop offset="1" stop-color="#a3a3a3"/></linearGradient><linearGradient id="bt76" gradientUnits="userSpaceOnUse" x1="571" y1="97" x2="566.74" y2="98.01"><stop offset="0" stop-color="#545454"/><stop offset="1" stop-color="#6b6b6b"/></linearGradient><linearGradient id="bt77" gradientUnits="userSpaceOnUse" x1="567.5" y1="97" x2="561.47" y2="98.38"><stop offset="0" stop-color="#666666"/><stop offset="1" stop-color="#8c8c8c"/></linearGradient><linearGradient id="bt78" gradientUnits="userSpaceOnUse" x1="573.5" y1="97" x2="571" y2="97"><stop offset="0" stop-color="#141414"/><stop offset="1" stop-color="#545454"/></linearGradient><linearGradient id="bt79" gradientUnits="userSpaceOnUse" x1="573.5" y1="116" x2="571" y2="116.09"><stop offset="0" stop-color="#141414"/><stop offset="1" stop-color="#6b6b6b"/></linearGradient><linearGradient id="bt80" gradientUnits="userSpaceOnUse" x1="542.5" y1="116" x2="545.57" y2="116.59"><stop offset="0" stop-color="#141414"/><stop offset="1" stop-color="#6b6b6b"/></linearGradient><linearGradient id="bt81" gradientUnits="userSpaceOnUse" x1="542.5" y1="116" x2="545.41" y2="116.52"><stop offset="0" stop-color="#141414"/><stop offset="1" stop-color="#6b6b6b"/></linearGradient><linearGradient id="bt82" gradientUnits="userSpaceOnUse" x1="545.5" y1="116" x2="550.08" y2="117.01"><stop offset="0" stop-color="#666666"/><stop offset="1" stop-color="#949494"/></linearGradient><linearGradient id="bt83" gradientUnits="userSpaceOnUse" x1="545.5" y1="116" x2="550.02" y2="116.97"><stop offset="0" stop-color="#666666"/><stop offset="1" stop-color="#949494"/></linearGradient><linearGradient id="bt84" gradientUnits="userSpaceOnUse" x1="549.5" y1="116" x2="555.61" y2="118.2"><stop offset="0" stop-color="#8c8c8c"/><stop offset="1" stop-color="#bdbdbd"/></linearGradient><linearGradient id="bt85" gradientUnits="userSpaceOnUse" x1="549.5" y1="116" x2="554.04" y2="116.98"><stop offset="0" stop-color="#8c8c8c"/><stop offset="1" stop-color="#bdbdbd"/></linearGradient><linearGradient id="bt86" gradientUnits="userSpaceOnUse" x1="553.5" y1="116" x2="560.29" y2="128"><stop offset="0" stop-color="#a8a8a8"/><stop offset="1" stop-color="#cccccc"/></linearGradient><linearGradient id="bt87" gradientUnits="userSpaceOnUse" x1="553.5" y1="116" x2="560.83" y2="119.83"><stop offset="0" stop-color="#a8a8a8"/><stop offset="1" stop-color="#cccccc"/></linearGradient><linearGradient id="bt88" gradientUnits="userSpaceOnUse" x1="561.5" y1="116" x2="553.5" y2="120"><stop offset="0" stop-color="#a3a3a3"/><stop offset="1" stop-color="#bdbdbd"/></linearGradient><linearGradient id="bt89" gradientUnits="userSpaceOnUse" x1="557.5" y1="116" x2="550.45" y2="118.59"><stop offset="0" stop-color="#adadad"/><stop offset="1" stop-color="#cccccc"/></linearGradient><linearGradient id="bt90" gradientUnits="userSpaceOnUse" x1="565.5" y1="116" x2="561.51" y2="116.19"><stop offset="0" stop-color="#8c8c8c"/><stop offset="1" stop-color="#a3a3a3"/></linearGradient><linearGradient id="bt91" gradientUnits="userSpaceOnUse" x1="564" y1="131" x2="559.03" y2="131.36"><stop offset="0" stop-color="#999999"/><stop offset="1" stop-color="#bdbdbd"/></linearGradient><linearGradient id="bt92" gradientUnits="userSpaceOnUse" x1="571" y1="116" x2="565.5" y2="116.16"><stop offset="0" stop-color="#6b6b6b"/><stop offset="1" stop-color="#8c8c8c"/></linearGradient><linearGradient id="bt93" gradientUnits="userSpaceOnUse" x1="571" y1="131" x2="564.01" y2="131.26"><stop offset="0" stop-color="#6e6e6e"/><stop offset="1" stop-color="#999999"/></linearGradient><linearGradient id="bt94" gradientUnits="userSpaceOnUse" x1="573.5" y1="116" x2="571" y2="116"><stop offset="0" stop-color="#141414"/><stop offset="1" stop-color="#6b6b6b"/></linearGradient><linearGradient id="bt95" gradientUnits="userSpaceOnUse" x1="573.5" y1="131" x2="571" y2="131.01"><stop offset="0" stop-color="#141414"/><stop offset="1" stop-color="#6e6e6e"/></linearGradient><linearGradient id="bt96" gradientUnits="userSpaceOnUse" x1="539.8" y1="131" x2="542.68" y2="131.58"><stop offset="0" stop-color="#141414"/><stop offset="1" stop-color="#6b6b6b"/></linearGradient><linearGradient id="bt97" gradientUnits="userSpaceOnUse" x1="539.8" y1="131" x2="542.68" y2="131.58"><stop offset="0" stop-color="#141414"/><stop offset="1" stop-color="#6b6b6b"/></linearGradient><linearGradient id="bt98" gradientUnits="userSpaceOnUse" x1="542.8" y1="131" x2="547.81" y2="132.09"><stop offset="0" stop-color="#6b6b6b"/><stop offset="1" stop-color="#9e9e9e"/></linearGradient><linearGradient id="bt99" gradientUnits="userSpaceOnUse" x1="542.8" y1="131" x2="547.61" y2="131.96"><stop offset="0" stop-color="#6b6b6b"/><stop offset="1" stop-color="#9e9e9e"/></linearGradient><linearGradient id="bt100" gradientUnits="userSpaceOnUse" x1="547" y1="131" x2="553.65" y2="133.38"><stop offset="0" stop-color="#949494"/><stop offset="1" stop-color="#e0e0e0"/></linearGradient><linearGradient id="bt101" gradientUnits="userSpaceOnUse" x1="547" y1="131" x2="552.01" y2="131.96"><stop offset="0" stop-color="#949494"/><stop offset="1" stop-color="#e0e0e0"/></linearGradient><linearGradient id="bt102" gradientUnits="userSpaceOnUse" x1="551" y1="131" x2="559.36" y2="137.87"><stop offset="0" stop-color="#bdbdbd"/><stop offset="1" stop-color="#f2f2f2"/></linearGradient><linearGradient id="bt103" gradientUnits="userSpaceOnUse" x1="551" y1="131" x2="559.22" y2="136.58"><stop offset="0" stop-color="#bdbdbd"/><stop offset="1" stop-color="#f2f2f2"/></linearGradient><linearGradient id="bt104" gradientUnits="userSpaceOnUse" x1="559" y1="131" x2="552.6" y2="134.2"><stop offset="0" stop-color="#bdbdbd"/><stop offset="1" stop-color="#dbdbdb"/></linearGradient><linearGradient id="bt105" gradientUnits="userSpaceOnUse" x1="555" y1="131" x2="548.66" y2="133.72"><stop offset="0" stop-color="#cccccc"/><stop offset="1" stop-color="#f2f2f2"/></linearGradient><linearGradient id="bt106" gradientUnits="userSpaceOnUse" x1="564" y1="131" x2="559.02" y2="131.28"><stop offset="0" stop-color="#999999"/><stop offset="1" stop-color="#bdbdbd"/></linearGradient><linearGradient id="bt107" gradientUnits="userSpaceOnUse" x1="563" y1="145" x2="558.09" y2="145.65"><stop offset="0" stop-color="#a6a6a6"/><stop offset="1" stop-color="#dbdbdb"/></linearGradient><linearGradient id="bt108" gradientUnits="userSpaceOnUse" x1="571" y1="131" x2="564" y2="131"><stop offset="0" stop-color="#6e6e6e"/><stop offset="1" stop-color="#999999"/></linearGradient><linearGradient id="bt109" gradientUnits="userSpaceOnUse" x1="571" y1="145" x2="563.03" y2="145.47"><stop offset="0" stop-color="#6e6e6e"/><stop offset="1" stop-color="#a6a6a6"/></linearGradient><linearGradient id="bt110" gradientUnits="userSpaceOnUse" x1="573.5" y1="131" x2="571" y2="131"><stop offset="0" stop-color="#141414"/><stop offset="1" stop-color="#6e6e6e"/></linearGradient><linearGradient id="bt111" gradientUnits="userSpaceOnUse" x1="573.5" y1="145" x2="571" y2="145"><stop offset="0" stop-color="#141414"/><stop offset="1" stop-color="#6e6e6e"/></linearGradient><linearGradient id="bt112" gradientUnits="userSpaceOnUse" x1="537" y1="145" x2="539.79" y2="145.76"><stop offset="0" stop-color="#141414"/><stop offset="1" stop-color="#6b6b6b"/></linearGradient><linearGradient id="bt113" gradientUnits="userSpaceOnUse" x1="537" y1="145" x2="539.78" y2="145.79"><stop offset="0" stop-color="#141414"/><stop offset="1" stop-color="#666666"/></linearGradient><linearGradient id="bt114" gradientUnits="userSpaceOnUse" x1="540" y1="145" x2="544.75" y2="146.1"><stop offset="0" stop-color="#6b6b6b"/><stop offset="1" stop-color="#9e9e9e"/></linearGradient><linearGradient id="bt115" gradientUnits="userSpaceOnUse" x1="536.3" y1="158" x2="541.68" y2="159.32"><stop offset="0" stop-color="#666666"/><stop offset="1" stop-color="#9e9e9e"/></linearGradient><linearGradient id="bt116" gradientUnits="userSpaceOnUse" x1="545" y1="145" x2="549.2" y2="146.13"><stop offset="0" stop-color="#9e9e9e"/><stop offset="1" stop-color="#e0e0e0"/></linearGradient><linearGradient id="bt117" gradientUnits="userSpaceOnUse" x1="545" y1="145" x2="548.8" y2="145.88"><stop offset="0" stop-color="#9e9e9e"/><stop offset="1" stop-color="#e0e0e0"/></linearGradient><linearGradient id="bt118" gradientUnits="userSpaceOnUse" x1="549.5" y1="145" x2="555.36" y2="147.42"><stop offset="0" stop-color="#e0e0e0"/><stop offset="1" stop-color="#ffffff"/></linearGradient><linearGradient id="bt119" gradientUnits="userSpaceOnUse" x1="549.5" y1="145" x2="554.16" y2="146.26"><stop offset="0" stop-color="#e0e0e0"/><stop offset="1" stop-color="#ffffff"/></linearGradient><linearGradient id="bt120" gradientUnits="userSpaceOnUse" x1="558" y1="145" x2="553.66" y2="145.83"><stop offset="0" stop-color="#dbdbdb"/><stop offset="1" stop-color="#f2f2f2"/></linearGradient><linearGradient id="bt121" gradientUnits="userSpaceOnUse" x1="553.5" y1="145" x2="548.68" y2="145.93"><stop offset="0" stop-color="#f2f2f2"/><stop offset="1" stop-color="#ffffff"/></linearGradient><linearGradient id="bt122" gradientUnits="userSpaceOnUse" x1="563" y1="145" x2="558.04" y2="145.45"><stop offset="0" stop-color="#a6a6a6"/><stop offset="1" stop-color="#dbdbdb"/></linearGradient><linearGradient id="bt123" gradientUnits="userSpaceOnUse" x1="563" y1="158" x2="556.01" y2="158.28"><stop offset="0" stop-color="#b2b2b2"/><stop offset="1" stop-color="#f2f2f2"/></linearGradient><linearGradient id="bt124" gradientUnits="userSpaceOnUse" x1="571" y1="145" x2="563" y2="144.88"><stop offset="0" stop-color="#6e6e6e"/><stop offset="1" stop-color="#a6a6a6"/></linearGradient><linearGradient id="bt125" gradientUnits="userSpaceOnUse" x1="570.8" y1="158" x2="563.1" y2="158.86"><stop offset="0" stop-color="#6e6e6e"/><stop offset="1" stop-color="#b2b2b2"/></linearGradient><linearGradient id="bt126" gradientUnits="userSpaceOnUse" x1="573.5" y1="145" x2="571" y2="144.96"><stop offset="0" stop-color="#141414"/><stop offset="1" stop-color="#6e6e6e"/></linearGradient><linearGradient id="bt127" gradientUnits="userSpaceOnUse" x1="573.3" y1="158" x2="570.8" y2="157.96"><stop offset="0" stop-color="#141414"/><stop offset="1" stop-color="#6e6e6e"/></linearGradient><linearGradient id="bt128" gradientUnits="userSpaceOnUse" x1="533.3" y1="158" x2="536.36" y2="157.37"><stop offset="0" stop-color="#141414"/><stop offset="1" stop-color="#6b6b6b"/></linearGradient><linearGradient id="bt129" gradientUnits="userSpaceOnUse" x1="533.3" y1="158" x2="536.16" y2="157.38"><stop offset="0" stop-color="#141414"/><stop offset="1" stop-color="#6b6b6b"/></linearGradient><linearGradient id="bt130" gradientUnits="userSpaceOnUse" x1="536.3" y1="158" x2="541.83" y2="157.02"><stop offset="0" stop-color="#666666"/><stop offset="1" stop-color="#9e9e9e"/></linearGradient><linearGradient id="bt131" gradientUnits="userSpaceOnUse" x1="536.3" y1="158" x2="541.61" y2="157"><stop offset="0" stop-color="#666666"/><stop offset="1" stop-color="#9e9e9e"/></linearGradient><linearGradient id="bt132" gradientUnits="userSpaceOnUse" x1="542" y1="158" x2="545.84" y2="157.21"><stop offset="0" stop-color="#9e9e9e"/><stop offset="1" stop-color="#e0e0e0"/></linearGradient><linearGradient id="bt133" gradientUnits="userSpaceOnUse" x1="542" y1="158" x2="546.36" y2="157.23"><stop offset="0" stop-color="#9e9e9e"/><stop offset="1" stop-color="#e0e0e0"/></linearGradient><linearGradient id="bt134" gradientUnits="userSpaceOnUse" x1="546" y1="158" x2="550.66" y2="156.74"><stop offset="0" stop-color="#e0e0e0"/><stop offset="1" stop-color="#ffffff"/></linearGradient><linearGradient id="bt135" gradientUnits="userSpaceOnUse" x1="546" y1="158" x2="549.84" y2="157.21"><stop offset="0" stop-color="#e0e0e0"/><stop offset="1" stop-color="#f2f2f2"/></linearGradient><linearGradient id="bt136" gradientUnits="userSpaceOnUse" x1="558" y1="175" x2="546.03" y2="170.07"><stop offset="0" stop-color="#dbdbdb"/><stop offset="1" stop-color="#ffffff"/></linearGradient><linearGradient id="bt137" gradientUnits="userSpaceOnUse" x1="558" y1="175" x2="551" y2="175"><stop offset="0" stop-color="#dbdbdb"/><stop offset="1" stop-color="#ffffff"/></linearGradient><linearGradient id="bt138" gradientUnits="userSpaceOnUse" x1="563" y1="175" x2="554.66" y2="174.31"><stop offset="0" stop-color="#a6a6a6"/><stop offset="1" stop-color="#f2f2f2"/></linearGradient><linearGradient id="bt139" gradientUnits="userSpaceOnUse" x1="563" y1="175" x2="555.86" y2="174.94"><stop offset="0" stop-color="#a6a6a6"/><stop offset="1" stop-color="#f2f2f2"/></linearGradient><linearGradient id="bt140" gradientUnits="userSpaceOnUse" x1="570.8" y1="158" x2="563" y2="157.86"><stop offset="0" stop-color="#6e6e6e"/><stop offset="1" stop-color="#b2b2b2"/></linearGradient><linearGradient id="bt141" gradientUnits="userSpaceOnUse" x1="570.5" y1="175" x2="561.39" y2="174.09"><stop offset="0" stop-color="#6e6e6e"/><stop offset="1" stop-color="#b2b2b2"/></linearGradient><linearGradient id="bt142" gradientUnits="userSpaceOnUse" x1="573.3" y1="158" x2="570.8" y2="157.96"><stop offset="0" stop-color="#141414"/><stop offset="1" stop-color="#6e6e6e"/></linearGradient><linearGradient id="bt143" gradientUnits="userSpaceOnUse" x1="573" y1="175" x2="570.5" y2="174.96"><stop offset="0" stop-color="#141414"/><stop offset="1" stop-color="#6e6e6e"/></linearGradient><linearGradient id="bt144" gradientUnits="userSpaceOnUse" x1="537" y1="175" x2="539.95" y2="174.61"><stop offset="0" stop-color="#141414"/><stop offset="1" stop-color="#6b6b6b"/></linearGradient><linearGradient id="bt145" gradientUnits="userSpaceOnUse" x1="537" y1="175" x2="539.95" y2="174.61"><stop offset="0" stop-color="#141414"/><stop offset="1" stop-color="#6b6b6b"/></linearGradient><linearGradient id="bt146" gradientUnits="userSpaceOnUse" x1="540" y1="175" x2="544.9" y2="174.3"><stop offset="0" stop-color="#6b6b6b"/><stop offset="1" stop-color="#9e9e9e"/></linearGradient><linearGradient id="bt147" gradientUnits="userSpaceOnUse" x1="540" y1="175" x2="544.13" y2="174.45"><stop offset="0" stop-color="#6b6b6b"/><stop offset="1" stop-color="#949494"/></linearGradient><linearGradient id="bt148" gradientUnits="userSpaceOnUse" x1="545" y1="175" x2="549.35" y2="174.19"><stop offset="0" stop-color="#9e9e9e"/><stop offset="1" stop-color="#e0e0e0"/></linearGradient><linearGradient id="bt149" gradientUnits="userSpaceOnUse" x1="547" y1="196" x2="550.92" y2="195.44"><stop offset="0" stop-color="#949494"/><stop offset="1" stop-color="#bdbdbd"/></linearGradient><linearGradient id="bt150" gradientUnits="userSpaceOnUse" x1="555" y1="196" x2="561.97" y2="192.66"><stop offset="0" stop-color="#cccccc"/><stop offset="1" stop-color="#f2f2f2"/></linearGradient><linearGradient id="bt151" gradientUnits="userSpaceOnUse" x1="551" y1="196" x2="558.37" y2="192.2"><stop offset="0" stop-color="#bdbdbd"/><stop offset="1" stop-color="#e0e0e0"/></linearGradient><linearGradient id="bt152" gradientUnits="userSpaceOnUse" x1="559" y1="196" x2="549.06" y2="193.63"><stop offset="0" stop-color="#bdbdbd"/><stop offset="1" stop-color="#f2f2f2"/></linearGradient><linearGradient id="bt153" gradientUnits="userSpaceOnUse" x1="559" y1="196" x2="546.97" y2="191.13"><stop offset="0" stop-color="#bdbdbd"/><stop offset="1" stop-color="#f2f2f2"/></linearGradient><linearGradient id="bt154" gradientUnits="userSpaceOnUse" x1="564" y1="196" x2="557.81" y2="195.94"><stop offset="0" stop-color="#999999"/><stop offset="1" stop-color="#dbdbdb"/></linearGradient><linearGradient id="bt155" gradientUnits="userSpaceOnUse" x1="564" y1="196" x2="554.94" y2="194.58"><stop offset="0" stop-color="#999999"/><stop offset="1" stop-color="#dbdbdb"/></linearGradient><linearGradient id="bt156" gradientUnits="userSpaceOnUse" x1="570.5" y1="175" x2="563" y2="174.82"><stop offset="0" stop-color="#6e6e6e"/><stop offset="1" stop-color="#a6a6a6"/></linearGradient><linearGradient id="bt157" gradientUnits="userSpaceOnUse" x1="570" y1="196" x2="562.25" y2="195.72"><stop offset="0" stop-color="#6e6e6e"/><stop offset="1" stop-color="#a6a6a6"/></linearGradient><linearGradient id="bt158" gradientUnits="userSpaceOnUse" x1="573" y1="175" x2="570.5" y2="174.94"><stop offset="0" stop-color="#141414"/><stop offset="1" stop-color="#6e6e6e"/></linearGradient><linearGradient id="bt159" gradientUnits="userSpaceOnUse" x1="572.5" y1="196" x2="570" y2="195.94"><stop offset="0" stop-color="#141414"/><stop offset="1" stop-color="#6e6e6e"/></linearGradient><linearGradient id="bt160" gradientUnits="userSpaceOnUse" x1="539.8" y1="196" x2="542.76" y2="195.66"><stop offset="0" stop-color="#141414"/><stop offset="1" stop-color="#6b6b6b"/></linearGradient><linearGradient id="bt161" gradientUnits="userSpaceOnUse" x1="539.8" y1="196" x2="542.76" y2="195.66"><stop offset="0" stop-color="#141414"/><stop offset="1" stop-color="#6b6b6b"/></linearGradient><linearGradient id="bt162" gradientUnits="userSpaceOnUse" x1="542.8" y1="196" x2="546.83" y2="195.17"><stop offset="0" stop-color="#6b6b6b"/><stop offset="1" stop-color="#949494"/></linearGradient><linearGradient id="bt163" gradientUnits="userSpaceOnUse" x1="542.8" y1="196" x2="546.75" y2="195.55"><stop offset="0" stop-color="#6b6b6b"/><stop offset="1" stop-color="#858585"/></linearGradient><linearGradient id="bt164" gradientUnits="userSpaceOnUse" x1="547" y1="196" x2="550.67" y2="194.9"><stop offset="0" stop-color="#949494"/><stop offset="1" stop-color="#bdbdbd"/></linearGradient><linearGradient id="bt165" gradientUnits="userSpaceOnUse" x1="548.5" y1="211" x2="551.75" y2="210.11"><stop offset="0" stop-color="#858585"/><stop offset="1" stop-color="#999999"/></linearGradient><linearGradient id="bt166" gradientUnits="userSpaceOnUse" x1="556" y1="211" x2="562.76" y2="205.44"><stop offset="0" stop-color="#a1a1a1"/><stop offset="1" stop-color="#cccccc"/></linearGradient><linearGradient id="bt167" gradientUnits="userSpaceOnUse" x1="552" y1="211" x2="558.87" y2="202"><stop offset="0" stop-color="#999999"/><stop offset="1" stop-color="#bdbdbd"/></linearGradient><linearGradient id="bt168" gradientUnits="userSpaceOnUse" x1="560" y1="211" x2="549.81" y2="205.34"><stop offset="0" stop-color="#999999"/><stop offset="1" stop-color="#cccccc"/></linearGradient><linearGradient id="bt169" gradientUnits="userSpaceOnUse" x1="560" y1="211" x2="551.36" y2="198.52"><stop offset="0" stop-color="#999999"/><stop offset="1" stop-color="#cccccc"/></linearGradient><linearGradient id="bt170" gradientUnits="userSpaceOnUse" x1="564" y1="211" x2="556.42" y2="209.56"><stop offset="0" stop-color="#858585"/><stop offset="1" stop-color="#bdbdbd"/></linearGradient><linearGradient id="bt171" gradientUnits="userSpaceOnUse" x1="564" y1="211" x2="554.52" y2="207.21"><stop offset="0" stop-color="#858585"/><stop offset="1" stop-color="#bdbdbd"/></linearGradient><linearGradient id="bt172" gradientUnits="userSpaceOnUse" x1="569.6" y1="211" x2="563.26" y2="210.68"><stop offset="0" stop-color="#6b6b6b"/><stop offset="1" stop-color="#999999"/></linearGradient><linearGradient id="bt173" gradientUnits="userSpaceOnUse" x1="569.6" y1="211" x2="560.35" y2="208.24"><stop offset="0" stop-color="#6b6b6b"/><stop offset="1" stop-color="#999999"/></linearGradient><linearGradient id="bt174" gradientUnits="userSpaceOnUse" x1="572.5" y1="196" x2="570" y2="195.92"><stop offset="0" stop-color="#141414"/><stop offset="1" stop-color="#6e6e6e"/></linearGradient><linearGradient id="bt175" gradientUnits="userSpaceOnUse" x1="572" y1="211" x2="569.53" y2="210.92"><stop offset="0" stop-color="#141414"/><stop offset="1" stop-color="#6e6e6e"/></linearGradient><linearGradient id="bt176" gradientUnits="userSpaceOnUse" x1="541.5" y1="211" x2="544.45" y2="210.61"><stop offset="0" stop-color="#141414"/><stop offset="1" stop-color="#6b6b6b"/></linearGradient><linearGradient id="bt177" gradientUnits="userSpaceOnUse" x1="541.5" y1="211" x2="543.95" y2="210.65"><stop offset="0" stop-color="#141414"/><stop offset="1" stop-color="#616161"/></linearGradient><linearGradient id="bt178" gradientUnits="userSpaceOnUse" x1="544.5" y1="211" x2="548.16" y2="209.88"><stop offset="0" stop-color="#6b6b6b"/><stop offset="1" stop-color="#858585"/></linearGradient><linearGradient id="bt179" gradientUnits="userSpaceOnUse" x1="546" y1="225" x2="549.73" y2="223.99"><stop offset="0" stop-color="#616161"/><stop offset="1" stop-color="#737373"/></linearGradient><linearGradient id="bt180" gradientUnits="userSpaceOnUse" x1="553" y1="225" x2="556.81" y2="223.54"><stop offset="0" stop-color="#808080"/><stop offset="1" stop-color="#999999"/></linearGradient><linearGradient id="bt181" gradientUnits="userSpaceOnUse" x1="550" y1="225" x2="553.6" y2="223.53"><stop offset="0" stop-color="#737373"/><stop offset="1" stop-color="#858585"/></linearGradient><linearGradient id="bt182" gradientUnits="userSpaceOnUse" x1="556" y1="225" x2="562.99" y2="217.67"><stop offset="0" stop-color="#858585"/><stop offset="1" stop-color="#a1a1a1"/></linearGradient><linearGradient id="bt183" gradientUnits="userSpaceOnUse" x1="553" y1="225" x2="559.5" y2="217.57"><stop offset="0" stop-color="#808080"/><stop offset="1" stop-color="#999999"/></linearGradient><linearGradient id="bt184" gradientUnits="userSpaceOnUse" x1="560" y1="225" x2="550.91" y2="216.34"><stop offset="0" stop-color="#808080"/><stop offset="1" stop-color="#a1a1a1"/></linearGradient><linearGradient id="bt185" gradientUnits="userSpaceOnUse" x1="560" y1="225" x2="552.51" y2="213.22"><stop offset="0" stop-color="#808080"/><stop offset="1" stop-color="#a1a1a1"/></linearGradient><linearGradient id="bt186" gradientUnits="userSpaceOnUse" x1="564" y1="225" x2="556.94" y2="223.24"><stop offset="0" stop-color="#737373"/><stop offset="1" stop-color="#999999"/></linearGradient><linearGradient id="bt187" gradientUnits="userSpaceOnUse" x1="564" y1="225" x2="554.95" y2="219.83"><stop offset="0" stop-color="#737373"/><stop offset="1" stop-color="#999999"/></linearGradient><linearGradient id="bt188" gradientUnits="userSpaceOnUse" x1="569.2" y1="225" x2="561.63" y2="223.57"><stop offset="0" stop-color="#616161"/><stop offset="1" stop-color="#858585"/></linearGradient><linearGradient id="bt189" gradientUnits="userSpaceOnUse" x1="569.2" y1="225" x2="560.06" y2="221.61"><stop offset="0" stop-color="#616161"/><stop offset="1" stop-color="#858585"/></linearGradient><linearGradient id="bt190" gradientUnits="userSpaceOnUse" x1="572" y1="211" x2="569.6" y2="210.91"><stop offset="0" stop-color="#141414"/><stop offset="1" stop-color="#6b6b6b"/></linearGradient><linearGradient id="bt191" gradientUnits="userSpaceOnUse" x1="571.5" y1="225" x2="568.9" y2="224.87"><stop offset="0" stop-color="#141414"/><stop offset="1" stop-color="#6b6b6b"/></linearGradient><linearGradient id="bt192" gradientUnits="userSpaceOnUse" x1="543.5" y1="225" x2="545.89" y2="224.48"><stop offset="0" stop-color="#141414"/><stop offset="1" stop-color="#616161"/></linearGradient><linearGradient id="bt193" gradientUnits="userSpaceOnUse" x1="543.5" y1="225" x2="545.94" y2="224.62"><stop offset="0" stop-color="#141414"/><stop offset="1" stop-color="#474747"/></linearGradient><linearGradient id="bt194" gradientUnits="userSpaceOnUse" x1="551" y1="238" x2="555.51" y2="235.67"><stop offset="0" stop-color="#595959"/><stop offset="1" stop-color="#737373"/></linearGradient><linearGradient id="bt195" gradientUnits="userSpaceOnUse" x1="548" y1="238" x2="551.47" y2="236.32"><stop offset="0" stop-color="#474747"/><stop offset="1" stop-color="#616161"/></linearGradient><linearGradient id="bt196" gradientUnits="userSpaceOnUse" x1="554" y1="238" x2="558.65" y2="235.5"><stop offset="0" stop-color="#666666"/><stop offset="1" stop-color="#808080"/></linearGradient><linearGradient id="bt197" gradientUnits="userSpaceOnUse" x1="551" y1="238" x2="555.65" y2="235.5"><stop offset="0" stop-color="#595959"/><stop offset="1" stop-color="#737373"/></linearGradient><linearGradient id="bt198" gradientUnits="userSpaceOnUse" x1="557" y1="238" x2="562.96" y2="230.66"><stop offset="0" stop-color="#6b6b6b"/><stop offset="1" stop-color="#858585"/></linearGradient><linearGradient id="bt199" gradientUnits="userSpaceOnUse" x1="554" y1="238" x2="559.96" y2="230.66"><stop offset="0" stop-color="#666666"/><stop offset="1" stop-color="#808080"/></linearGradient><linearGradient id="bt200" gradientUnits="userSpaceOnUse" x1="560" y1="238" x2="552.87" y2="227.03"><stop offset="0" stop-color="#666666"/><stop offset="1" stop-color="#858585"/></linearGradient><linearGradient id="bt201" gradientUnits="userSpaceOnUse" x1="560" y1="238" x2="551.67" y2="229.02"><stop offset="0" stop-color="#666666"/><stop offset="1" stop-color="#858585"/></linearGradient><linearGradient id="bt202" gradientUnits="userSpaceOnUse" x1="563" y1="238" x2="554.89" y2="232.38"><stop offset="0" stop-color="#595959"/><stop offset="1" stop-color="#808080"/></linearGradient><linearGradient id="bt203" gradientUnits="userSpaceOnUse" x1="563" y1="238" x2="555.58" y2="234.58"><stop offset="0" stop-color="#595959"/><stop offset="1" stop-color="#808080"/></linearGradient><linearGradient id="bt204" gradientUnits="userSpaceOnUse" x1="568.8" y1="238" x2="559.53" y2="232.42"><stop offset="0" stop-color="#474747"/><stop offset="1" stop-color="#737373"/></linearGradient><linearGradient id="bt205" gradientUnits="userSpaceOnUse" x1="568.8" y1="238" x2="559.47" y2="231.34"><stop offset="0" stop-color="#474747"/><stop offset="1" stop-color="#737373"/></linearGradient><linearGradient id="bt206" gradientUnits="userSpaceOnUse" x1="571.5" y1="225" x2="569.2" y2="224.91"><stop offset="0" stop-color="#141414"/><stop offset="1" stop-color="#616161"/></linearGradient><linearGradient id="bt207" gradientUnits="userSpaceOnUse" x1="571" y1="238" x2="567.74" y2="237.62"><stop offset="0" stop-color="#141414"/><stop offset="1" stop-color="#616161"/></linearGradient><clipPath id="cpb"><rect x="383" y="26" width="230" height="211"/></clipPath><linearGradient id="c0r0" gradientUnits="userSpaceOnUse" x1="96" x2="147" y1="0" y2="0"><stop offset="0" stop-color="#050505"/><stop offset=".0549" stop-color="#404040"/><stop offset=".0882" stop-color="#616161"/><stop offset=".1176" stop-color="#8c8c8c"/><stop offset=".4412" stop-color="#8c8c8c"/><stop offset=".4804" stop-color="#666666"/><stop offset=".5294" stop-color="#2e2e2e"/><stop offset=".7647" stop-color="#292929"/><stop offset=".8627" stop-color="#1f1f1f"/><stop offset=".9216" stop-color="#0d0d0d"/><stop offset="1" stop-color="#050505"/></linearGradient><linearGradient id="c0r1" gradientUnits="userSpaceOnUse" x1="96" x2="147" y1="0" y2="0"><stop offset="0" stop-color="#050505"/><stop offset=".0549" stop-color="#404040"/><stop offset=".0882" stop-color="#5c5c5c"/><stop offset=".1176" stop-color="#737373"/><stop offset=".4412" stop-color="#737373"/><stop offset=".4804" stop-color="#5c5c5c"/><stop offset=".5294" stop-color="#2e2e2e"/><stop offset=".7647" stop-color="#292929"/><stop offset=".8627" stop-color="#1f1f1f"/><stop offset=".9216" stop-color="#0d0d0d"/><stop offset="1" stop-color="#050505"/></linearGradient><linearGradient id="c0r2" gradientUnits="userSpaceOnUse" x1="96" x2="147" y1="0" y2="0"><stop offset="0" stop-color="#050505"/><stop offset=".0549" stop-color="#383838"/><stop offset=".0882" stop-color="#545454"/><stop offset=".1176" stop-color="#666666"/><stop offset=".4412" stop-color="#666666"/><stop offset=".4804" stop-color="#525252"/><stop offset=".5294" stop-color="#2b2b2b"/><stop offset=".7647" stop-color="#262626"/><stop offset=".8824" stop-color="#1a1a1a"/><stop offset=".9412" stop-color="#0d0d0d"/><stop offset="1" stop-color="#050505"/></linearGradient><linearGradient id="c0r3" gradientUnits="userSpaceOnUse" x1="96" x2="147" y1="0" y2="0"><stop offset="0" stop-color="#050505"/><stop offset=".0549" stop-color="#333333"/><stop offset=".098" stop-color="#404040"/><stop offset=".4412" stop-color="#404040"/><stop offset=".4902" stop-color="#333333"/><stop offset=".549" stop-color="#262626"/><stop offset=".7647" stop-color="#212121"/><stop offset=".902" stop-color="#141414"/><stop offset="1" stop-color="#050505"/></linearGradient><linearGradient id="c0r4" gradientUnits="userSpaceOnUse" x1="96" x2="147" y1="0" y2="0"><stop offset="0" stop-color="#050505"/><stop offset=".0549" stop-color="#1f1f1f"/><stop offset=".098" stop-color="#242424"/><stop offset=".4412" stop-color="#242424"/><stop offset=".4902" stop-color="#1f1f1f"/><stop offset=".549" stop-color="#171717"/><stop offset=".7647" stop-color="#141414"/><stop offset=".902" stop-color="#0d0d0d"/><stop offset="1" stop-color="#050505"/></linearGradient><linearGradient id="c0r5" gradientUnits="userSpaceOnUse" x1="96" x2="147" y1="0" y2="0"><stop offset="0" stop-color="#050505"/><stop offset="1" stop-color="#050505"/></linearGradient><linearGradient id="c1r0" gradientUnits="userSpaceOnUse" x1="140" x2="182" y1="0" y2="0"><stop offset="0" stop-color="#050505"/><stop offset=".2381" stop-color="#080808"/><stop offset=".4762" stop-color="#0f0f0f"/><stop offset=".7143" stop-color="#080808"/><stop offset="1" stop-color="#050505"/></linearGradient><linearGradient id="c1r1" gradientUnits="userSpaceOnUse" x1="140" x2="182" y1="0" y2="0"><stop offset="0" stop-color="#050505"/><stop offset=".1429" stop-color="#0f0f0f"/><stop offset=".2857" stop-color="#1c1c1c"/><stop offset=".4762" stop-color="#242424"/><stop offset=".6667" stop-color="#1c1c1c"/><stop offset=".8571" stop-color="#0f0f0f"/><stop offset="1" stop-color="#050505"/></linearGradient><linearGradient id="c1r2" gradientUnits="userSpaceOnUse" x1="140" x2="182" y1="0" y2="0"><stop offset="0" stop-color="#050505"/><stop offset=".119" stop-color="#121212"/><stop offset=".2381" stop-color="#262626"/><stop offset=".4524" stop-color="#303030"/><stop offset=".6429" stop-color="#262626"/><stop offset=".8333" stop-color="#141414"/><stop offset="1" stop-color="#050505"/></linearGradient><linearGradient id="c1r3" gradientUnits="userSpaceOnUse" x1="140" x2="182" y1="0" y2="0"><stop offset="0" stop-color="#050505"/><stop offset=".0952" stop-color="#141414"/><stop offset=".2143" stop-color="#2b2b2b"/><stop offset=".3571" stop-color="#3b3b3b"/><stop offset=".4643" stop-color="#454545"/><stop offset=".5714" stop-color="#3b3b3b"/><stop offset=".7143" stop-color="#292929"/><stop offset=".881" stop-color="#141414"/><stop offset="1" stop-color="#050505"/></linearGradient><linearGradient id="c1r4" gradientUnits="userSpaceOnUse" x1="140" x2="182" y1="0" y2="0"><stop offset="0" stop-color="#050505"/><stop offset=".119" stop-color="#121212"/><stop offset=".2381" stop-color="#262626"/><stop offset=".4524" stop-color="#2e2e2e"/><stop offset=".6429" stop-color="#262626"/><stop offset=".8333" stop-color="#141414"/><stop offset="1" stop-color="#050505"/></linearGradient><linearGradient id="c1r5" gradientUnits="userSpaceOnUse" x1="140" x2="182" y1="0" y2="0"><stop offset="0" stop-color="#050505"/><stop offset=".1429" stop-color="#0f0f0f"/><stop offset=".2857" stop-color="#1c1c1c"/><stop offset=".4762" stop-color="#212121"/><stop offset=".6667" stop-color="#1a1a1a"/><stop offset=".8571" stop-color="#0d0d0d"/><stop offset="1" stop-color="#050505"/></linearGradient><linearGradient id="c1r6" gradientUnits="userSpaceOnUse" x1="140" x2="182" y1="0" y2="0"><stop offset="0" stop-color="#050505"/><stop offset=".1905" stop-color="#0d0d0d"/><stop offset=".381" stop-color="#141414"/><stop offset=".5714" stop-color="#141414"/><stop offset=".7619" stop-color="#0d0d0d"/><stop offset="1" stop-color="#050505"/></linearGradient><linearGradient id="c2r0" gradientUnits="userSpaceOnUse" x1="219" x2="260" y1="0" y2="0"><stop offset="0" stop-color="#050505"/><stop offset=".0366" stop-color="#333333"/><stop offset=".078" stop-color="#4c4c4c"/><stop offset=".122" stop-color="#6e6e6e"/><stop offset=".2073" stop-color="#919191"/><stop offset=".2927" stop-color="#ababab"/><stop offset=".3537" stop-color="#b8b8b8"/><stop offset=".4146" stop-color="#bfbfbf"/><stop offset=".5" stop-color="#bfbfbf"/><stop offset=".5488" stop-color="#b8b8b8"/><stop offset=".5976" stop-color="#ababab"/><stop offset=".6707" stop-color="#919191"/><stop offset=".7561" stop-color="#6e6e6e"/><stop offset=".8537" stop-color="#404040"/><stop offset=".939" stop-color="#141414"/><stop offset="1" stop-color="#0d0d0d"/></linearGradient><linearGradient id="c2r1" gradientUnits="userSpaceOnUse" x1="219" x2="260" y1="0" y2="0"><stop offset="0" stop-color="#050505"/><stop offset=".0366" stop-color="#262626"/><stop offset=".0732" stop-color="#404040"/><stop offset=".1098" stop-color="#6e6e6e"/><stop offset=".2073" stop-color="#8c8c8c"/><stop offset=".3171" stop-color="#9e9e9e"/><stop offset=".5488" stop-color="#a6a6a6"/><stop offset=".5854" stop-color="#9e9e9e"/><stop offset=".6341" stop-color="#919191"/><stop offset=".6829" stop-color="#858585"/><stop offset=".7317" stop-color="#6e6e6e"/><stop offset=".8049" stop-color="#4c4c4c"/><stop offset=".878" stop-color="#2e2e2e"/><stop offset=".9512" stop-color="#0f0f0f"/><stop offset="1" stop-color="#0d0d0d"/></linearGradient><linearGradient id="c2r2" gradientUnits="userSpaceOnUse" x1="219" x2="260" y1="0" y2="0"><stop offset="0" stop-color="#050505"/><stop offset=".0366" stop-color="#262626"/><stop offset=".0732" stop-color="#474747"/><stop offset=".122" stop-color="#6e6e6e"/><stop offset=".2195" stop-color="#808080"/><stop offset=".3902" stop-color="#8c8c8c"/><stop offset=".561" stop-color="#8c8c8c"/><stop offset=".6585" stop-color="#808080"/><stop offset=".7317" stop-color="#6e6e6e"/><stop offset=".8049" stop-color="#545454"/><stop offset=".878" stop-color="#383838"/><stop offset=".9512" stop-color="#0f0f0f"/><stop offset="1" stop-color="#0d0d0d"/></linearGradient><linearGradient id="c2r3" gradientUnits="userSpaceOnUse" x1="219" x2="260" y1="0" y2="0"><stop offset="0" stop-color="#050505"/><stop offset=".0366" stop-color="#333333"/><stop offset=".0732" stop-color="#595959"/><stop offset=".122" stop-color="#6e6e6e"/><stop offset=".5122" stop-color="#707070"/><stop offset=".8049" stop-color="#6b6b6b"/><stop offset=".878" stop-color="#595959"/><stop offset=".9146" stop-color="#333333"/><stop offset=".9512" stop-color="#0d0d0d"/><stop offset="1" stop-color="#0a0a0a"/></linearGradient><linearGradient id="c2r4" gradientUnits="userSpaceOnUse" x1="219" x2="260" y1="0" y2="0"><stop offset="0" stop-color="#050505"/><stop offset=".0366" stop-color="#262626"/><stop offset=".0732" stop-color="#474747"/><stop offset=".1707" stop-color="#616161"/><stop offset=".8293" stop-color="#616161"/><stop offset=".9024" stop-color="#474747"/><stop offset=".9512" stop-color="#0d0d0d"/><stop offset="1" stop-color="#0a0a0a"/></linearGradient><linearGradient id="c2r5" gradientUnits="userSpaceOnUse" x1="219" x2="260" y1="0" y2="0"><stop offset="0" stop-color="#050505"/><stop offset=".0366" stop-color="#242424"/><stop offset=".0732" stop-color="#3d3d3d"/><stop offset=".1707" stop-color="#4c4c4c"/><stop offset=".8293" stop-color="#4c4c4c"/><stop offset=".9024" stop-color="#3d3d3d"/><stop offset=".9512" stop-color="#0d0d0d"/><stop offset="1" stop-color="#0a0a0a"/></linearGradient><linearGradient id="c2r6" gradientUnits="userSpaceOnUse" x1="219" x2="260" y1="0" y2="0"><stop offset="0" stop-color="#050505"/><stop offset=".0366" stop-color="#212121"/><stop offset=".0732" stop-color="#363636"/><stop offset=".1707" stop-color="#404040"/><stop offset=".8293" stop-color="#404040"/><stop offset=".9024" stop-color="#363636"/><stop offset=".9512" stop-color="#0d0d0d"/><stop offset="1" stop-color="#0a0a0a"/></linearGradient><linearGradient id="c2r7" gradientUnits="userSpaceOnUse" x1="219" x2="260" y1="0" y2="0"><stop offset="0" stop-color="#050505"/><stop offset=".0366" stop-color="#1f1f1f"/><stop offset=".0732" stop-color="#2b2b2b"/><stop offset=".1707" stop-color="#303030"/><stop offset=".8293" stop-color="#303030"/><stop offset=".9024" stop-color="#2b2b2b"/><stop offset=".9512" stop-color="#0d0d0d"/><stop offset="1" stop-color="#0a0a0a"/></linearGradient><linearGradient id="c2r8" gradientUnits="userSpaceOnUse" x1="219" x2="260" y1="0" y2="0"><stop offset="0" stop-color="#050505"/><stop offset=".0366" stop-color="#121212"/><stop offset=".0732" stop-color="#171717"/><stop offset=".1707" stop-color="#1a1a1a"/><stop offset=".8293" stop-color="#1a1a1a"/><stop offset=".9024" stop-color="#171717"/><stop offset=".9512" stop-color="#0a0a0a"/><stop offset="1" stop-color="#080808"/></linearGradient><linearGradient id="c2r9" gradientUnits="userSpaceOnUse" x1="219" x2="260" y1="0" y2="0"><stop offset="0" stop-color="#050505"/><stop offset="1" stop-color="#080808"/></linearGradient><linearGradient id="ct0" gradientUnits="userSpaceOnUse" x1="219" y1="307.5" x2="220" y2="307.5"><stop offset="0" stop-color="#050505"/><stop offset="1" stop-color="#333333"/></linearGradient><linearGradient id="ct1" gradientUnits="userSpaceOnUse" x1="219" y1="307.5" x2="220" y2="307.5"><stop offset="0" stop-color="#050505"/><stop offset="1" stop-color="#333333"/></linearGradient><linearGradient id="ct2" gradientUnits="userSpaceOnUse" x1="220" y1="307.5" x2="220.5" y2="307.5"><stop offset="0" stop-color="#333333"/><stop offset="1" stop-color="#4c4c4c"/></linearGradient><linearGradient id="ct3" gradientUnits="userSpaceOnUse" x1="220" y1="307.5" x2="220.5" y2="307.5"><stop offset="0" stop-color="#333333"/><stop offset="1" stop-color="#4c4c4c"/></linearGradient><linearGradient id="ct4" gradientUnits="userSpaceOnUse" x1="220.5" y1="307.5" x2="220.8" y2="307.5"><stop offset="0" stop-color="#4c4c4c"/><stop offset="1" stop-color="#6e6e6e"/></linearGradient><linearGradient id="ct5" gradientUnits="userSpaceOnUse" x1="220.5" y1="307.5" x2="220.8" y2="307.5"><stop offset="0" stop-color="#4c4c4c"/><stop offset="1" stop-color="#6e6e6e"/></linearGradient><linearGradient id="ct6" gradientUnits="userSpaceOnUse" x1="220.8" y1="307.5" x2="221.5" y2="307.5"><stop offset="0" stop-color="#6e6e6e"/><stop offset="1" stop-color="#919191"/></linearGradient><linearGradient id="ct7" gradientUnits="userSpaceOnUse" x1="220.8" y1="307.5" x2="221.5" y2="307.5"><stop offset="0" stop-color="#6e6e6e"/><stop offset="1" stop-color="#919191"/></linearGradient><linearGradient id="ct8" gradientUnits="userSpaceOnUse" x1="221.5" y1="307.5" x2="222" y2="307.5"><stop offset="0" stop-color="#919191"/><stop offset="1" stop-color="#b0b0b0"/></linearGradient><linearGradient id="ct9" gradientUnits="userSpaceOnUse" x1="221.5" y1="307.5" x2="222" y2="307.5"><stop offset="0" stop-color="#919191"/><stop offset="1" stop-color="#b0b0b0"/></linearGradient><linearGradient id="ct10" gradientUnits="userSpaceOnUse" x1="222" y1="307.5" x2="222.4" y2="307.5"><stop offset="0" stop-color="#b0b0b0"/><stop offset="1" stop-color="#cccccc"/></linearGradient><linearGradient id="ct11" gradientUnits="userSpaceOnUse" x1="222" y1="307.5" x2="222.4" y2="307.5"><stop offset="0" stop-color="#b0b0b0"/><stop offset="1" stop-color="#cccccc"/></linearGradient><linearGradient id="ct12" gradientUnits="userSpaceOnUse" x1="222.4" y1="307.5" x2="222.7" y2="307.5"><stop offset="0" stop-color="#cccccc"/><stop offset="1" stop-color="#ffffff"/></linearGradient><linearGradient id="ct13" gradientUnits="userSpaceOnUse" x1="222.4" y1="307.5" x2="222.7" y2="307.5"><stop offset="0" stop-color="#cccccc"/><stop offset="1" stop-color="#ffffff"/></linearGradient><linearGradient id="ct16" gradientUnits="userSpaceOnUse" x1="244.3" y1="307.5" x2="243.5" y2="307.5"><stop offset="0" stop-color="#cccccc"/><stop offset="1" stop-color="#ffffff"/></linearGradient><linearGradient id="ct17" gradientUnits="userSpaceOnUse" x1="244.3" y1="316" x2="243.5" y2="316"><stop offset="0" stop-color="#cccccc"/><stop offset="1" stop-color="#ffffff"/></linearGradient><linearGradient id="ct18" gradientUnits="userSpaceOnUse" x1="245" y1="307.5" x2="244.3" y2="307.5"><stop offset="0" stop-color="#b0b0b0"/><stop offset="1" stop-color="#cccccc"/></linearGradient><linearGradient id="ct19" gradientUnits="userSpaceOnUse" x1="245" y1="316" x2="244.3" y2="316"><stop offset="0" stop-color="#b0b0b0"/><stop offset="1" stop-color="#cccccc"/></linearGradient><linearGradient id="ct20" gradientUnits="userSpaceOnUse" x1="246.5" y1="307.5" x2="245" y2="307.5"><stop offset="0" stop-color="#919191"/><stop offset="1" stop-color="#b0b0b0"/></linearGradient><linearGradient id="ct21" gradientUnits="userSpaceOnUse" x1="246.5" y1="316" x2="245" y2="316"><stop offset="0" stop-color="#919191"/><stop offset="1" stop-color="#b0b0b0"/></linearGradient><linearGradient id="ct22" gradientUnits="userSpaceOnUse" x1="250" y1="307.5" x2="246.5" y2="307.5"><stop offset="0" stop-color="#6e6e6e"/><stop offset="1" stop-color="#919191"/></linearGradient><linearGradient id="ct23" gradientUnits="userSpaceOnUse" x1="250" y1="316" x2="246.5" y2="316"><stop offset="0" stop-color="#6e6e6e"/><stop offset="1" stop-color="#919191"/></linearGradient><linearGradient id="ct24" gradientUnits="userSpaceOnUse" x1="254" y1="307.5" x2="250" y2="307.5"><stop offset="0" stop-color="#404040"/><stop offset="1" stop-color="#6e6e6e"/></linearGradient><linearGradient id="ct25" gradientUnits="userSpaceOnUse" x1="254" y1="316" x2="250" y2="316"><stop offset="0" stop-color="#404040"/><stop offset="1" stop-color="#6e6e6e"/></linearGradient><linearGradient id="ct26" gradientUnits="userSpaceOnUse" x1="257.5" y1="307.5" x2="254" y2="307.5"><stop offset="0" stop-color="#141414"/><stop offset="1" stop-color="#404040"/></linearGradient><linearGradient id="ct27" gradientUnits="userSpaceOnUse" x1="257.5" y1="316" x2="254" y2="316"><stop offset="0" stop-color="#141414"/><stop offset="1" stop-color="#404040"/></linearGradient><linearGradient id="ct28" gradientUnits="userSpaceOnUse" x1="260" y1="307.5" x2="257.5" y2="307.5"><stop offset="0" stop-color="#0d0d0d"/><stop offset="1" stop-color="#141414"/></linearGradient><linearGradient id="ct29" gradientUnits="userSpaceOnUse" x1="260" y1="316" x2="257.5" y2="316"><stop offset="0" stop-color="#0d0d0d"/><stop offset="1" stop-color="#141414"/></linearGradient><linearGradient id="ct30" gradientUnits="userSpaceOnUse" x1="219" y1="316" x2="220" y2="315.97"><stop offset="0" stop-color="#050505"/><stop offset="1" stop-color="#333333"/></linearGradient><linearGradient id="ct31" gradientUnits="userSpaceOnUse" x1="219" y1="316" x2="220.5" y2="316"><stop offset="0" stop-color="#050505"/><stop offset="1" stop-color="#333333"/></linearGradient><linearGradient id="ct32" gradientUnits="userSpaceOnUse" x1="220" y1="316" x2="220.48" y2="315.91"><stop offset="0" stop-color="#333333"/><stop offset="1" stop-color="#4c4c4c"/></linearGradient><linearGradient id="ct33" gradientUnits="userSpaceOnUse" x1="220" y1="316" x2="223.5" y2="315.9"><stop offset="0" stop-color="#333333"/><stop offset="1" stop-color="#4c4c4c"/></linearGradient><linearGradient id="ct34" gradientUnits="userSpaceOnUse" x1="220.5" y1="316" x2="220.76" y2="315.9"><stop offset="0" stop-color="#4c4c4c"/><stop offset="1" stop-color="#6e6e6e"/></linearGradient><linearGradient id="ct35" gradientUnits="userSpaceOnUse" x1="220.5" y1="316" x2="223.87" y2="315.34"><stop offset="0" stop-color="#4c4c4c"/><stop offset="1" stop-color="#6e6e6e"/></linearGradient><linearGradient id="ct36" gradientUnits="userSpaceOnUse" x1="220.8" y1="316" x2="221.35" y2="315.71"><stop offset="0" stop-color="#6e6e6e"/><stop offset="1" stop-color="#919191"/></linearGradient><linearGradient id="ct37" gradientUnits="userSpaceOnUse" x1="220.8" y1="316" x2="223.87" y2="314.86"><stop offset="0" stop-color="#6e6e6e"/><stop offset="1" stop-color="#919191"/></linearGradient><linearGradient id="ct38" gradientUnits="userSpaceOnUse" x1="221.5" y1="316" x2="221.84" y2="315.77"><stop offset="0" stop-color="#919191"/><stop offset="1" stop-color="#b0b0b0"/></linearGradient><linearGradient id="ct39" gradientUnits="userSpaceOnUse" x1="221.5" y1="316" x2="224.08" y2="314.64"><stop offset="0" stop-color="#919191"/><stop offset="1" stop-color="#b0b0b0"/></linearGradient><linearGradient id="ct40" gradientUnits="userSpaceOnUse" x1="222" y1="316" x2="222.25" y2="315.81"><stop offset="0" stop-color="#b0b0b0"/><stop offset="1" stop-color="#cccccc"/></linearGradient><linearGradient id="ct41" gradientUnits="userSpaceOnUse" x1="222" y1="316" x2="223.16" y2="315.21"><stop offset="0" stop-color="#b0b0b0"/><stop offset="1" stop-color="#cccccc"/></linearGradient><linearGradient id="ct42" gradientUnits="userSpaceOnUse" x1="222.4" y1="316" x2="222.58" y2="315.85"><stop offset="0" stop-color="#cccccc"/><stop offset="1" stop-color="#ffffff"/></linearGradient><linearGradient id="ct43" gradientUnits="userSpaceOnUse" x1="222.4" y1="316" x2="223.35" y2="315.28"><stop offset="0" stop-color="#cccccc"/><stop offset="1" stop-color="#f2f2f2"/></linearGradient><linearGradient id="ct44" gradientUnits="userSpaceOnUse" x1="239" y1="334" x2="239" y2="316"><stop offset="0" stop-color="#f2f2f2"/><stop offset="1" stop-color="#ffffff"/></linearGradient><linearGradient id="ct45" gradientUnits="userSpaceOnUse" x1="239" y1="334" x2="239" y2="316"><stop offset="0" stop-color="#f2f2f2"/><stop offset="1" stop-color="#ffffff"/></linearGradient><linearGradient id="ct46" gradientUnits="userSpaceOnUse" x1="244.3" y1="316" x2="243.53" y2="315.86"><stop offset="0" stop-color="#cccccc"/><stop offset="1" stop-color="#ffffff"/></linearGradient><linearGradient id="ct47" gradientUnits="userSpaceOnUse" x1="241" y1="334" x2="238.54" y2="333.29"><stop offset="0" stop-color="#cccccc"/><stop offset="1" stop-color="#ffffff"/></linearGradient><linearGradient id="ct48" gradientUnits="userSpaceOnUse" x1="245" y1="316" x2="244.3" y2="315.94"><stop offset="0" stop-color="#b0b0b0"/><stop offset="1" stop-color="#cccccc"/></linearGradient><linearGradient id="ct49" gradientUnits="userSpaceOnUse" x1="243.5" y1="334" x2="241.08" y2="333.56"><stop offset="0" stop-color="#b0b0b0"/><stop offset="1" stop-color="#cccccc"/></linearGradient><linearGradient id="ct50" gradientUnits="userSpaceOnUse" x1="246.5" y1="316" x2="245" y2="316"><stop offset="0" stop-color="#919191"/><stop offset="1" stop-color="#b0b0b0"/></linearGradient><linearGradient id="ct51" gradientUnits="userSpaceOnUse" x1="246.5" y1="334" x2="243.52" y2="333.75"><stop offset="0" stop-color="#919191"/><stop offset="1" stop-color="#b0b0b0"/></linearGradient><linearGradient id="ct52" gradientUnits="userSpaceOnUse" x1="250" y1="316" x2="246.5" y2="316.1"><stop offset="0" stop-color="#6e6e6e"/><stop offset="1" stop-color="#919191"/></linearGradient><linearGradient id="ct53" gradientUnits="userSpaceOnUse" x1="250.5" y1="334" x2="246.5" y2="334"><stop offset="0" stop-color="#6e6e6e"/><stop offset="1" stop-color="#919191"/></linearGradient><linearGradient id="ct54" gradientUnits="userSpaceOnUse" x1="254" y1="316" x2="250" y2="316.11"><stop offset="0" stop-color="#404040"/><stop offset="1" stop-color="#6e6e6e"/></linearGradient><linearGradient id="ct55" gradientUnits="userSpaceOnUse" x1="254.5" y1="334" x2="250.5" y2="334.11"><stop offset="0" stop-color="#404040"/><stop offset="1" stop-color="#6e6e6e"/></linearGradient><linearGradient id="ct56" gradientUnits="userSpaceOnUse" x1="257.5" y1="316" x2="254" y2="316"><stop offset="0" stop-color="#141414"/><stop offset="1" stop-color="#404040"/></linearGradient><linearGradient id="ct57" gradientUnits="userSpaceOnUse" x1="257.5" y1="334" x2="254.5" y2="334.08"><stop offset="0" stop-color="#141414"/><stop offset="1" stop-color="#404040"/></linearGradient><linearGradient id="ct58" gradientUnits="userSpaceOnUse" x1="260" y1="316" x2="257.5" y2="316"><stop offset="0" stop-color="#0d0d0d"/><stop offset="1" stop-color="#141414"/></linearGradient><linearGradient id="ct59" gradientUnits="userSpaceOnUse" x1="260" y1="334" x2="257.5" y2="334"><stop offset="0" stop-color="#0d0d0d"/><stop offset="1" stop-color="#141414"/></linearGradient><linearGradient id="ct60" gradientUnits="userSpaceOnUse" x1="219" y1="334" x2="220.5" y2="334"><stop offset="0" stop-color="#050505"/><stop offset="1" stop-color="#333333"/></linearGradient><linearGradient id="ct61" gradientUnits="userSpaceOnUse" x1="219" y1="334" x2="220.5" y2="334"><stop offset="0" stop-color="#050505"/><stop offset="1" stop-color="#333333"/></linearGradient><linearGradient id="ct62" gradientUnits="userSpaceOnUse" x1="220.5" y1="334" x2="223.94" y2="334.47"><stop offset="0" stop-color="#333333"/><stop offset="1" stop-color="#4c4c4c"/></linearGradient><linearGradient id="ct63" gradientUnits="userSpaceOnUse" x1="220.5" y1="334" x2="222.5" y2="334"><stop offset="0" stop-color="#333333"/><stop offset="1" stop-color="#4c4c4c"/></linearGradient><linearGradient id="ct64" gradientUnits="userSpaceOnUse" x1="224" y1="334" x2="227.26" y2="334.89"><stop offset="0" stop-color="#4c4c4c"/><stop offset="1" stop-color="#6e6e6e"/></linearGradient><linearGradient id="ct65" gradientUnits="userSpaceOnUse" x1="224" y1="334" x2="225.96" y2="334.27"><stop offset="0" stop-color="#4c4c4c"/><stop offset="1" stop-color="#6e6e6e"/></linearGradient><linearGradient id="ct66" gradientUnits="userSpaceOnUse" x1="227.5" y1="334" x2="230.76" y2="334.89"><stop offset="0" stop-color="#6e6e6e"/><stop offset="1" stop-color="#919191"/></linearGradient><linearGradient id="ct67" gradientUnits="userSpaceOnUse" x1="227.5" y1="334" x2="230.76" y2="334.89"><stop offset="0" stop-color="#6e6e6e"/><stop offset="1" stop-color="#919191"/></linearGradient><linearGradient id="ct68" gradientUnits="userSpaceOnUse" x1="231" y1="334" x2="234.1" y2="334.79"><stop offset="0" stop-color="#919191"/><stop offset="1" stop-color="#b0b0b0"/></linearGradient><linearGradient id="ct69" gradientUnits="userSpaceOnUse" x1="231" y1="334" x2="234.26" y2="334.89"><stop offset="0" stop-color="#919191"/><stop offset="1" stop-color="#b0b0b0"/></linearGradient><linearGradient id="ct70" gradientUnits="userSpaceOnUse" x1="234.3" y1="334" x2="235.98" y2="334.19"><stop offset="0" stop-color="#b0b0b0"/><stop offset="1" stop-color="#cccccc"/></linearGradient><linearGradient id="ct71" gradientUnits="userSpaceOnUse" x1="234.3" y1="334" x2="236.65" y2="334.6"><stop offset="0" stop-color="#b0b0b0"/><stop offset="1" stop-color="#bfbfbf"/></linearGradient><linearGradient id="ct72" gradientUnits="userSpaceOnUse" x1="236" y1="334" x2="237.5" y2="334"><stop offset="0" stop-color="#cccccc"/><stop offset="1" stop-color="#f2f2f2"/></linearGradient><linearGradient id="ct73" gradientUnits="userSpaceOnUse" x1="234" y1="345" x2="236" y2="345"><stop offset="0" stop-color="#bfbfbf"/><stop offset="1" stop-color="#cccccc"/></linearGradient><linearGradient id="ct74" gradientUnits="userSpaceOnUse" x1="239" y1="345" x2="239" y2="334"><stop offset="0" stop-color="#cccccc"/><stop offset="1" stop-color="#f2f2f2"/></linearGradient><linearGradient id="ct75" gradientUnits="userSpaceOnUse" x1="239" y1="345" x2="239" y2="334"><stop offset="0" stop-color="#cccccc"/><stop offset="1" stop-color="#f2f2f2"/></linearGradient><linearGradient id="ct76" gradientUnits="userSpaceOnUse" x1="241" y1="345" x2="238.34" y2="344.84"><stop offset="0" stop-color="#bfbfbf"/><stop offset="1" stop-color="#f2f2f2"/></linearGradient><linearGradient id="ct77" gradientUnits="userSpaceOnUse" x1="241" y1="345" x2="234.83" y2="341.64"><stop offset="0" stop-color="#bfbfbf"/><stop offset="1" stop-color="#f2f2f2"/></linearGradient><linearGradient id="ct78" gradientUnits="userSpaceOnUse" x1="243.5" y1="334" x2="241" y2="334"><stop offset="0" stop-color="#b0b0b0"/><stop offset="1" stop-color="#cccccc"/></linearGradient><linearGradient id="ct79" gradientUnits="userSpaceOnUse" x1="243.5" y1="345" x2="239.08" y2="344.16"><stop offset="0" stop-color="#b0b0b0"/><stop offset="1" stop-color="#cccccc"/></linearGradient><linearGradient id="ct80" gradientUnits="userSpaceOnUse" x1="246.5" y1="334" x2="243.5" y2="334"><stop offset="0" stop-color="#919191"/><stop offset="1" stop-color="#b0b0b0"/></linearGradient><linearGradient id="ct81" gradientUnits="userSpaceOnUse" x1="246.5" y1="345" x2="243.5" y2="345"><stop offset="0" stop-color="#919191"/><stop offset="1" stop-color="#b0b0b0"/></linearGradient><linearGradient id="ct82" gradientUnits="userSpaceOnUse" x1="250.5" y1="334" x2="246.5" y2="334"><stop offset="0" stop-color="#6e6e6e"/><stop offset="1" stop-color="#919191"/></linearGradient><linearGradient id="ct83" gradientUnits="userSpaceOnUse" x1="250.5" y1="345" x2="246.5" y2="345"><stop offset="0" stop-color="#6e6e6e"/><stop offset="1" stop-color="#919191"/></linearGradient><linearGradient id="ct84" gradientUnits="userSpaceOnUse" x1="254.5" y1="334" x2="250.5" y2="334"><stop offset="0" stop-color="#404040"/><stop offset="1" stop-color="#6e6e6e"/></linearGradient><linearGradient id="ct85" gradientUnits="userSpaceOnUse" x1="254.5" y1="345" x2="250.5" y2="345"><stop offset="0" stop-color="#404040"/><stop offset="1" stop-color="#6e6e6e"/></linearGradient><linearGradient id="ct86" gradientUnits="userSpaceOnUse" x1="257.5" y1="334" x2="254.5" y2="334"><stop offset="0" stop-color="#141414"/><stop offset="1" stop-color="#404040"/></linearGradient><linearGradient id="ct87" gradientUnits="userSpaceOnUse" x1="257.5" y1="345" x2="254.5" y2="345"><stop offset="0" stop-color="#141414"/><stop offset="1" stop-color="#404040"/></linearGradient><linearGradient id="ct88" gradientUnits="userSpaceOnUse" x1="260" y1="334" x2="257.5" y2="334"><stop offset="0" stop-color="#0d0d0d"/><stop offset="1" stop-color="#141414"/></linearGradient><linearGradient id="ct89" gradientUnits="userSpaceOnUse" x1="260" y1="345" x2="257.5" y2="345"><stop offset="0" stop-color="#0d0d0d"/><stop offset="1" stop-color="#141414"/></linearGradient><linearGradient id="ct90" gradientUnits="userSpaceOnUse" x1="219" y1="345" x2="220.5" y2="345"><stop offset="0" stop-color="#050505"/><stop offset="1" stop-color="#333333"/></linearGradient><linearGradient id="ct91" gradientUnits="userSpaceOnUse" x1="219" y1="345" x2="220.5" y2="345"><stop offset="0" stop-color="#050505"/><stop offset="1" stop-color="#333333"/></linearGradient><linearGradient id="ct92" gradientUnits="userSpaceOnUse" x1="220.5" y1="345" x2="222.5" y2="345.06"><stop offset="0" stop-color="#333333"/><stop offset="1" stop-color="#4c4c4c"/></linearGradient><linearGradient id="ct93" gradientUnits="userSpaceOnUse" x1="220.5" y1="345" x2="222.2" y2="345"><stop offset="0" stop-color="#333333"/><stop offset="1" stop-color="#4c4c4c"/></linearGradient><linearGradient id="ct94" gradientUnits="userSpaceOnUse" x1="222.5" y1="345" x2="224.5" y2="345.1"><stop offset="0" stop-color="#4c4c4c"/><stop offset="1" stop-color="#6e6e6e"/></linearGradient><linearGradient id="ct95" gradientUnits="userSpaceOnUse" x1="222.5" y1="345" x2="224.3" y2="345.05"><stop offset="0" stop-color="#4c4c4c"/><stop offset="1" stop-color="#6e6e6e"/></linearGradient><linearGradient id="ct96" gradientUnits="userSpaceOnUse" x1="224.5" y1="345" x2="227.99" y2="345.17"><stop offset="0" stop-color="#6e6e6e"/><stop offset="1" stop-color="#919191"/></linearGradient><linearGradient id="ct97" gradientUnits="userSpaceOnUse" x1="224.5" y1="345" x2="227.99" y2="345.17"><stop offset="0" stop-color="#6e6e6e"/><stop offset="1" stop-color="#919191"/></linearGradient><linearGradient id="ct98" gradientUnits="userSpaceOnUse" x1="228" y1="345" x2="231.5" y2="344.97"><stop offset="0" stop-color="#919191"/><stop offset="1" stop-color="#b0b0b0"/></linearGradient><linearGradient id="ct99" gradientUnits="userSpaceOnUse" x1="228" y1="345" x2="231.49" y2="345.17"><stop offset="0" stop-color="#919191"/><stop offset="1" stop-color="#ababab"/></linearGradient><linearGradient id="ct100" gradientUnits="userSpaceOnUse" x1="231.5" y1="345" x2="233.99" y2="344.81"><stop offset="0" stop-color="#b0b0b0"/><stop offset="1" stop-color="#bfbfbf"/></linearGradient><linearGradient id="ct101" gradientUnits="userSpaceOnUse" x1="231" y1="355" x2="233.49" y2="354.88"><stop offset="0" stop-color="#ababab"/><stop offset="1" stop-color="#b8b8b8"/></linearGradient><linearGradient id="ct102" gradientUnits="userSpaceOnUse" x1="234" y1="345" x2="235.92" y2="344.62"><stop offset="0" stop-color="#bfbfbf"/><stop offset="1" stop-color="#cccccc"/></linearGradient><linearGradient id="ct103" gradientUnits="userSpaceOnUse" x1="233.5" y1="355" x2="235.9" y2="354.52"><stop offset="0" stop-color="#b8b8b8"/><stop offset="1" stop-color="#bfbfbf"/></linearGradient><linearGradient id="ct104" gradientUnits="userSpaceOnUse" x1="239.5" y1="355" x2="239.5" y2="345"><stop offset="0" stop-color="#bfbfbf"/><stop offset="1" stop-color="#cccccc"/></linearGradient><linearGradient id="ct105" gradientUnits="userSpaceOnUse" x1="239.5" y1="355" x2="239.5" y2="345"><stop offset="0" stop-color="#bfbfbf"/><stop offset="1" stop-color="#cccccc"/></linearGradient><linearGradient id="ct106" gradientUnits="userSpaceOnUse" x1="241.5" y1="355" x2="238.32" y2="354.78"><stop offset="0" stop-color="#b8b8b8"/><stop offset="1" stop-color="#cccccc"/></linearGradient><linearGradient id="ct107" gradientUnits="userSpaceOnUse" x1="241.5" y1="355" x2="236.56" y2="353.6"><stop offset="0" stop-color="#b8b8b8"/><stop offset="1" stop-color="#cccccc"/></linearGradient><linearGradient id="ct108" gradientUnits="userSpaceOnUse" x1="243.5" y1="355" x2="240.19" y2="354.72"><stop offset="0" stop-color="#ababab"/><stop offset="1" stop-color="#bfbfbf"/></linearGradient><linearGradient id="ct109" gradientUnits="userSpaceOnUse" x1="243.5" y1="355" x2="240.32" y2="354.78"><stop offset="0" stop-color="#ababab"/><stop offset="1" stop-color="#bfbfbf"/></linearGradient><linearGradient id="ct110" gradientUnits="userSpaceOnUse" x1="246.5" y1="345" x2="243.5" y2="345"><stop offset="0" stop-color="#919191"/><stop offset="1" stop-color="#b0b0b0"/></linearGradient><linearGradient id="ct111" gradientUnits="userSpaceOnUse" x1="246.5" y1="355" x2="242.91" y2="354.78"><stop offset="0" stop-color="#919191"/><stop offset="1" stop-color="#b0b0b0"/></linearGradient><linearGradient id="ct112" gradientUnits="userSpaceOnUse" x1="250.5" y1="345" x2="246.51" y2="344.8"><stop offset="0" stop-color="#6e6e6e"/><stop offset="1" stop-color="#919191"/></linearGradient><linearGradient id="ct113" gradientUnits="userSpaceOnUse" x1="250" y1="355" x2="246.5" y2="355"><stop offset="0" stop-color="#6e6e6e"/><stop offset="1" stop-color="#919191"/></linearGradient><linearGradient id="ct114" gradientUnits="userSpaceOnUse" x1="254.5" y1="345" x2="250.51" y2="344.8"><stop offset="0" stop-color="#404040"/><stop offset="1" stop-color="#6e6e6e"/></linearGradient><linearGradient id="ct115" gradientUnits="userSpaceOnUse" x1="254" y1="355" x2="250.01" y2="354.8"><stop offset="0" stop-color="#404040"/><stop offset="1" stop-color="#6e6e6e"/></linearGradient><linearGradient id="ct116" gradientUnits="userSpaceOnUse" x1="257.5" y1="345" x2="254.5" y2="345"><stop offset="0" stop-color="#141414"/><stop offset="1" stop-color="#404040"/></linearGradient><linearGradient id="ct117" gradientUnits="userSpaceOnUse" x1="257.5" y1="355" x2="254.01" y2="354.83"><stop offset="0" stop-color="#141414"/><stop offset="1" stop-color="#404040"/></linearGradient><linearGradient id="ct118" gradientUnits="userSpaceOnUse" x1="260" y1="345" x2="257.5" y2="345"><stop offset="0" stop-color="#0d0d0d"/><stop offset="1" stop-color="#141414"/></linearGradient><linearGradient id="ct119" gradientUnits="userSpaceOnUse" x1="260" y1="355" x2="257.5" y2="355"><stop offset="0" stop-color="#0d0d0d"/><stop offset="1" stop-color="#141414"/></linearGradient><clipPath id="cpc"><rect x="37" y="308" width="223" height="214"/></clipPath><linearGradient id="d0r0" gradientUnits="userSpaceOnUse" x1="444" x2="499" y1="0" y2="0"><stop offset="0" stop-color="#050505"/><stop offset=".0618" stop-color="#333333"/><stop offset=".0818" stop-color="#6e6e6e"/><stop offset=".1" stop-color="#999999"/><stop offset=".1182" stop-color="#ffffff"/><stop offset=".4727" stop-color="#ffffff"/><stop offset=".4909" stop-color="#999999"/><stop offset=".5091" stop-color="#666666"/><stop offset=".5455" stop-color="#424242"/><stop offset=".7455" stop-color="#3d3d3d"/><stop offset=".8182" stop-color="#333333"/><stop offset=".8545" stop-color="#1a1a1a"/><stop offset=".9273" stop-color="#0d0d0d"/><stop offset="1" stop-color="#050505"/></linearGradient><linearGradient id="d0r1" gradientUnits="userSpaceOnUse" x1="444" x2="499" y1="0" y2="0"><stop offset="0" stop-color="#050505"/><stop offset=".0618" stop-color="#333333"/><stop offset=".0818" stop-color="#6e6e6e"/><stop offset=".1" stop-color="#999999"/><stop offset=".1182" stop-color="#ffffff"/><stop offset=".4509" stop-color="#ffffff"/><stop offset=".4727" stop-color="#999999"/><stop offset=".5" stop-color="#666666"/><stop offset=".5455" stop-color="#404040"/><stop offset=".7455" stop-color="#383838"/><stop offset=".8091" stop-color="#2e2e2e"/><stop offset=".8545" stop-color="#1a1a1a"/><stop offset=".9273" stop-color="#0d0d0d"/><stop offset="1" stop-color="#050505"/></linearGradient><linearGradient id="d0r2" gradientUnits="userSpaceOnUse" x1="444" x2="499" y1="0" y2="0"><stop offset="0" stop-color="#050505"/><stop offset=".0618" stop-color="#333333"/><stop offset=".0818" stop-color="#6e6e6e"/><stop offset=".1" stop-color="#999999"/><stop offset=".1182" stop-color="#c7c7c7"/><stop offset=".4364" stop-color="#c7c7c7"/><stop offset=".4636" stop-color="#999999"/><stop offset=".4909" stop-color="#666666"/><stop offset=".5455" stop-color="#3d3d3d"/><stop offset=".7455" stop-color="#333333"/><stop offset=".8" stop-color="#2b2b2b"/><stop offset=".8545" stop-color="#141414"/><stop offset=".9273" stop-color="#0a0a0a"/><stop offset="1" stop-color="#050505"/></linearGradient><linearGradient id="d0r3" gradientUnits="userSpaceOnUse" x1="444" x2="499" y1="0" y2="0"><stop offset="0" stop-color="#050505"/><stop offset=".0618" stop-color="#333333"/><stop offset=".0909" stop-color="#737373"/><stop offset=".1182" stop-color="#919191"/><stop offset=".4273" stop-color="#919191"/><stop offset=".4545" stop-color="#737373"/><stop offset=".4909" stop-color="#4c4c4c"/><stop offset=".5455" stop-color="#383838"/><stop offset=".7455" stop-color="#333333"/><stop offset=".8" stop-color="#292929"/><stop offset=".8545" stop-color="#121212"/><stop offset=".9273" stop-color="#0a0a0a"/><stop offset="1" stop-color="#050505"/></linearGradient><linearGradient id="d0r4" gradientUnits="userSpaceOnUse" x1="444" x2="499" y1="0" y2="0"><stop offset="0" stop-color="#050505"/><stop offset=".0618" stop-color="#333333"/><stop offset=".0909" stop-color="#616161"/><stop offset=".1182" stop-color="#6b6b6b"/><stop offset=".4182" stop-color="#6b6b6b"/><stop offset=".4545" stop-color="#595959"/><stop offset=".4909" stop-color="#3d3d3d"/><stop offset=".5455" stop-color="#363636"/><stop offset=".7455" stop-color="#303030"/><stop offset=".8" stop-color="#262626"/><stop offset=".8545" stop-color="#121212"/><stop offset=".9273" stop-color="#080808"/><stop offset="1" stop-color="#050505"/></linearGradient><linearGradient id="d0r5" gradientUnits="userSpaceOnUse" x1="444" x2="499" y1="0" y2="0"><stop offset="0" stop-color="#050505"/><stop offset=".0618" stop-color="#242424"/><stop offset=".0909" stop-color="#333333"/><stop offset=".4182" stop-color="#333333"/><stop offset=".4727" stop-color="#303030"/><stop offset=".5455" stop-color="#2e2e2e"/><stop offset=".7455" stop-color="#292929"/><stop offset=".7818" stop-color="#212121"/><stop offset=".8545" stop-color="#0f0f0f"/><stop offset=".9273" stop-color="#080808"/><stop offset="1" stop-color="#050505"/></linearGradient><linearGradient id="d0r6" gradientUnits="userSpaceOnUse" x1="444" x2="499" y1="0" y2="0"><stop offset="0" stop-color="#050505"/><stop offset="1" stop-color="#050505"/></linearGradient><linearGradient id="d1r0" gradientUnits="userSpaceOnUse" x1="518" x2="541" y1="0" y2="0"><stop offset="0" stop-color="#050505"/><stop offset=".1739" stop-color="#050505"/><stop offset=".3913" stop-color="#0f0f0f"/><stop offset=".6087" stop-color="#1a1a1a"/><stop offset=".8261" stop-color="#141414"/><stop offset="1" stop-color="#0f0f0f"/></linearGradient><linearGradient id="d1r1" gradientUnits="userSpaceOnUse" x1="518" x2="541" y1="0" y2="0"><stop offset="0" stop-color="#050505"/><stop offset=".1739" stop-color="#0d0d0d"/><stop offset=".3913" stop-color="#1f1f1f"/><stop offset=".6087" stop-color="#262626"/><stop offset=".8261" stop-color="#1f1f1f"/><stop offset="1" stop-color="#1a1a1a"/></linearGradient><linearGradient id="d1r2" gradientUnits="userSpaceOnUse" x1="518" x2="541" y1="0" y2="0"><stop offset="0" stop-color="#050505"/><stop offset=".1739" stop-color="#141414"/><stop offset=".3478" stop-color="#363636"/><stop offset=".5652" stop-color="#3b3b3b"/><stop offset=".7826" stop-color="#333333"/><stop offset="1" stop-color="#1a1a1a"/></linearGradient><linearGradient id="d1r3" gradientUnits="userSpaceOnUse" x1="518" x2="541" y1="0" y2="0"><stop offset="0" stop-color="#050505"/><stop offset=".1739" stop-color="#141414"/><stop offset=".3478" stop-color="#363636"/><stop offset=".5652" stop-color="#3b3b3b"/><stop offset=".7826" stop-color="#333333"/><stop offset="1" stop-color="#171717"/></linearGradient><linearGradient id="d1r4" gradientUnits="userSpaceOnUse" x1="518" x2="541" y1="0" y2="0"><stop offset="0" stop-color="#050505"/><stop offset=".1739" stop-color="#141414"/><stop offset=".3478" stop-color="#333333"/><stop offset=".5652" stop-color="#383838"/><stop offset=".7826" stop-color="#2e2e2e"/><stop offset="1" stop-color="#141414"/></linearGradient><linearGradient id="d2r0" gradientUnits="userSpaceOnUse" x1="540" x2="610" y1="0" y2="0"><stop offset="0" stop-color="#0f0f0f"/><stop offset=".0429" stop-color="#141414"/><stop offset=".1143" stop-color="#1f1f1f"/><stop offset=".1714" stop-color="#1a1a1a"/><stop offset=".2286" stop-color="#262626"/><stop offset=".2857" stop-color="#404040"/><stop offset=".3429" stop-color="#4c4c4c"/><stop offset=".3857" stop-color="#545454"/><stop offset=".4071" stop-color="#737373"/><stop offset=".4214" stop-color="#999999"/><stop offset=".4357" stop-color="#ffffff"/><stop offset=".7429" stop-color="#ffffff"/><stop offset=".7571" stop-color="#808080"/><stop offset=".7786" stop-color="#1a1a1a"/><stop offset=".8571" stop-color="#080808"/><stop offset="1" stop-color="#050505"/></linearGradient><linearGradient id="d2r1" gradientUnits="userSpaceOnUse" x1="540" x2="610" y1="0" y2="0"><stop offset="0" stop-color="#121212"/><stop offset=".0429" stop-color="#171717"/><stop offset=".1143" stop-color="#1f1f1f"/><stop offset=".1714" stop-color="#1a1a1a"/><stop offset=".2286" stop-color="#262626"/><stop offset=".2857" stop-color="#404040"/><stop offset=".3429" stop-color="#4c4c4c"/><stop offset=".3857" stop-color="#545454"/><stop offset=".4071" stop-color="#737373"/><stop offset=".4214" stop-color="#999999"/><stop offset=".4357" stop-color="#f7f7f7"/><stop offset=".6929" stop-color="#f7f7f7"/><stop offset=".7143" stop-color="#808080"/><stop offset=".7429" stop-color="#1a1a1a"/><stop offset=".8286" stop-color="#0a0a0a"/><stop offset="1" stop-color="#050505"/></linearGradient><linearGradient id="d2r2" gradientUnits="userSpaceOnUse" x1="540" x2="610" y1="0" y2="0"><stop offset="0" stop-color="#141414"/><stop offset=".0429" stop-color="#1a1a1a"/><stop offset=".1143" stop-color="#1f1f1f"/><stop offset=".1714" stop-color="#1a1a1a"/><stop offset=".2286" stop-color="#2b2b2b"/><stop offset=".2857" stop-color="#454545"/><stop offset=".3429" stop-color="#525252"/><stop offset=".3786" stop-color="#595959"/><stop offset=".4071" stop-color="#737373"/><stop offset=".4286" stop-color="#919191"/><stop offset=".6857" stop-color="#919191"/><stop offset=".7071" stop-color="#666666"/><stop offset=".7286" stop-color="#1a1a1a"/><stop offset=".8286" stop-color="#0a0a0a"/><stop offset="1" stop-color="#050505"/></linearGradient><linearGradient id="d2r3" gradientUnits="userSpaceOnUse" x1="540" x2="610" y1="0" y2="0"><stop offset="0" stop-color="#141414"/><stop offset=".0429" stop-color="#1a1a1a"/><stop offset=".1143" stop-color="#1f1f1f"/><stop offset=".1714" stop-color="#1f1f1f"/><stop offset=".2429" stop-color="#404040"/><stop offset=".3143" stop-color="#545454"/><stop offset=".4071" stop-color="#545454"/><stop offset=".4286" stop-color="#333333"/><stop offset=".5" stop-color="#1a1a1a"/><stop offset=".6857" stop-color="#141414"/><stop offset=".7429" stop-color="#0a0a0a"/><stop offset="1" stop-color="#050505"/></linearGradient><linearGradient id="d2r4" gradientUnits="userSpaceOnUse" x1="540" x2="610" y1="0" y2="0"><stop offset="0" stop-color="#1a1a1a"/><stop offset=".0571" stop-color="#1f1f1f"/><stop offset=".1143" stop-color="#242424"/><stop offset=".1714" stop-color="#262626"/><stop offset=".2143" stop-color="#383838"/><stop offset=".2857" stop-color="#4c4c4c"/><stop offset=".3571" stop-color="#4c4c4c"/><stop offset=".4143" stop-color="#333333"/><stop offset=".5" stop-color="#141414"/><stop offset=".7143" stop-color="#0d0d0d"/><stop offset="1" stop-color="#050505"/></linearGradient><linearGradient id="d2r5" gradientUnits="userSpaceOnUse" x1="540" x2="610" y1="0" y2="0"><stop offset="0" stop-color="#1a1a1a"/><stop offset=".0714" stop-color="#1f1f1f"/><stop offset=".1286" stop-color="#242424"/><stop offset=".1571" stop-color="#2e2e2e"/><stop offset=".2286" stop-color="#404040"/><stop offset=".2857" stop-color="#404040"/><stop offset=".3286" stop-color="#333333"/><stop offset=".3857" stop-color="#1a1a1a"/><stop offset=".5429" stop-color="#0d0d0d"/><stop offset="1" stop-color="#050505"/></linearGradient><linearGradient id="d2r6" gradientUnits="userSpaceOnUse" x1="540" x2="610" y1="0" y2="0"><stop offset="0" stop-color="#1a1a1a"/><stop offset=".0857" stop-color="#1a1a1a"/><stop offset=".1286" stop-color="#1f1f1f"/><stop offset=".1714" stop-color="#2b2b2b"/><stop offset=".2286" stop-color="#2e2e2e"/><stop offset=".2571" stop-color="#242424"/><stop offset=".3143" stop-color="#0f0f0f"/><stop offset=".5429" stop-color="#080808"/><stop offset="1" stop-color="#050505"/></linearGradient><linearGradient id="d2r7" gradientUnits="userSpaceOnUse" x1="540" x2="610" y1="0" y2="0"><stop offset="0" stop-color="#1a1a1a"/><stop offset=".0571" stop-color="#121212"/><stop offset=".1143" stop-color="#0d0d0d"/><stop offset=".1857" stop-color="#0f0f0f"/><stop offset=".2571" stop-color="#0a0a0a"/><stop offset="1" stop-color="#050505"/></linearGradient><linearGradient id="d2r8" gradientUnits="userSpaceOnUse" x1="540" x2="610" y1="0" y2="0"><stop offset="0" stop-color="#141414"/><stop offset=".0714" stop-color="#0a0a0a"/><stop offset=".1429" stop-color="#050505"/><stop offset="1" stop-color="#050505"/></linearGradient><linearGradient id="d2r9" gradientUnits="userSpaceOnUse" x1="540" x2="610" y1="0" y2="0"><stop offset="0" stop-color="#121212"/><stop offset=".0714" stop-color="#0a0a0a"/><stop offset=".1429" stop-color="#050505"/><stop offset="1" stop-color="#050505"/></linearGradient><linearGradient id="dt0" gradientUnits="userSpaceOnUse" x1="505" y1="336" x2="511" y2="348"><stop offset="0" stop-color="#050505"/><stop offset="1" stop-color="#1f1f1f"/></linearGradient><linearGradient id="dt1" gradientUnits="userSpaceOnUse" x1="505" y1="336" x2="507.98" y2="336.21"><stop offset="0" stop-color="#050505"/><stop offset="1" stop-color="#1f1f1f"/></linearGradient><linearGradient id="dt2" gradientUnits="userSpaceOnUse" x1="508" y1="336" x2="515.4" y2="343.22"><stop offset="0" stop-color="#080808"/><stop offset="1" stop-color="#2f2f2f"/></linearGradient><linearGradient id="dt3" gradientUnits="userSpaceOnUse" x1="508" y1="336" x2="512.06" y2="337.02"><stop offset="0" stop-color="#080808"/><stop offset="1" stop-color="#2f2f2f"/></linearGradient><linearGradient id="dt4" gradientUnits="userSpaceOnUse" x1="509.5" y1="336" x2="512.82" y2="349.45"><stop offset="0" stop-color="#0c0c0c"/><stop offset="1" stop-color="#333333"/></linearGradient><linearGradient id="dt5" gradientUnits="userSpaceOnUse" x1="509.5" y1="336" x2="516.89" y2="344.54"><stop offset="0" stop-color="#0c0c0c"/><stop offset="1" stop-color="#333333"/></linearGradient><linearGradient id="dt6" gradientUnits="userSpaceOnUse" x1="515.5" y1="336" x2="514.25" y2="349.86"><stop offset="0" stop-color="#0c0c0c"/><stop offset="1" stop-color="#2f2f2f"/></linearGradient><linearGradient id="dt7" gradientUnits="userSpaceOnUse" x1="511" y1="336" x2="507.23" y2="349.03"><stop offset="0" stop-color="#0d0d0d"/><stop offset="1" stop-color="#333333"/></linearGradient><linearGradient id="dt8" gradientUnits="userSpaceOnUse" x1="520" y1="336" x2="514.42" y2="346.5"><stop offset="0" stop-color="#080808"/><stop offset="1" stop-color="#1f1f1f"/></linearGradient><linearGradient id="dt9" gradientUnits="userSpaceOnUse" x1="515.5" y1="336" x2="508.8" y2="341.51"><stop offset="0" stop-color="#0c0c0c"/><stop offset="1" stop-color="#2f2f2f"/></linearGradient><linearGradient id="dt10" gradientUnits="userSpaceOnUse" x1="520" y1="336" x2="522.49" y2="335.82"><stop offset="0" stop-color="#080808"/><stop offset="1" stop-color="#0a0a0a"/></linearGradient><linearGradient id="dt11" gradientUnits="userSpaceOnUse" x1="520" y1="336" x2="517.38" y2="336.71"><stop offset="0" stop-color="#080808"/><stop offset="1" stop-color="#1f1f1f"/></linearGradient><linearGradient id="dt12" gradientUnits="userSpaceOnUse" x1="504" y1="350" x2="508.59" y2="350.99"><stop offset="0" stop-color="#050505"/><stop offset="1" stop-color="#2e2e2e"/></linearGradient><linearGradient id="dt13" gradientUnits="userSpaceOnUse" x1="504" y1="350" x2="506.98" y2="350.23"><stop offset="0" stop-color="#050505"/><stop offset="1" stop-color="#2e2e2e"/></linearGradient><linearGradient id="dt14" gradientUnits="userSpaceOnUse" x1="507" y1="350" x2="510.36" y2="350.61"><stop offset="0" stop-color="#1f1f1f"/><stop offset="1" stop-color="#3e3e3e"/></linearGradient><linearGradient id="dt15" gradientUnits="userSpaceOnUse" x1="507" y1="350" x2="510.87" y2="350.88"><stop offset="0" stop-color="#1f1f1f"/><stop offset="1" stop-color="#3e3e3e"/></linearGradient><linearGradient id="dt16" gradientUnits="userSpaceOnUse" x1="508.79" y1="350" x2="515.35" y2="353.58"><stop offset="0" stop-color="#2f2f2f"/><stop offset="1" stop-color="#424242"/></linearGradient><linearGradient id="dt17" gradientUnits="userSpaceOnUse" x1="508.79" y1="350" x2="515.74" y2="354.58"><stop offset="0" stop-color="#2f2f2f"/><stop offset="1" stop-color="#424242"/></linearGradient><linearGradient id="dt18" gradientUnits="userSpaceOnUse" x1="515.79" y1="350" x2="509.82" y2="359"><stop offset="0" stop-color="#2f2f2f"/><stop offset="1" stop-color="#3e3e3e"/></linearGradient><linearGradient id="dt19" gradientUnits="userSpaceOnUse" x1="510.58" y1="350" x2="504.63" y2="359.52"><stop offset="0" stop-color="#333333"/><stop offset="1" stop-color="#424242"/></linearGradient><linearGradient id="dt20" gradientUnits="userSpaceOnUse" x1="521" y1="350" x2="516.55" y2="351.84"><stop offset="0" stop-color="#1f1f1f"/><stop offset="1" stop-color="#2f2f2f"/></linearGradient><linearGradient id="dt21" gradientUnits="userSpaceOnUse" x1="521.5" y1="363" x2="516.67" y2="364.99"><stop offset="0" stop-color="#2e2e2e"/><stop offset="1" stop-color="#3e3e3e"/></linearGradient><linearGradient id="dt22" gradientUnits="userSpaceOnUse" x1="523.5" y1="350" x2="521" y2="350.1"><stop offset="0" stop-color="#0a0a0a"/><stop offset="1" stop-color="#1f1f1f"/></linearGradient><linearGradient id="dt23" gradientUnits="userSpaceOnUse" x1="524" y1="363" x2="521.54" y2="363.3"><stop offset="0" stop-color="#0a0a0a"/><stop offset="1" stop-color="#2e2e2e"/></linearGradient><linearGradient id="dt24" gradientUnits="userSpaceOnUse" x1="503" y1="363" x2="506.62" y2="363.69"><stop offset="0" stop-color="#050505"/><stop offset="1" stop-color="#383838"/></linearGradient><linearGradient id="dt25" gradientUnits="userSpaceOnUse" x1="503" y1="363" x2="505.94" y2="363.43"><stop offset="0" stop-color="#050505"/><stop offset="1" stop-color="#383838"/></linearGradient><linearGradient id="dt26" gradientUnits="userSpaceOnUse" x1="506" y1="363" x2="510.24" y2="363.96"><stop offset="0" stop-color="#2e2e2e"/><stop offset="1" stop-color="#515151"/></linearGradient><linearGradient id="dt27" gradientUnits="userSpaceOnUse" x1="506" y1="363" x2="510.18" y2="363.93"><stop offset="0" stop-color="#2e2e2e"/><stop offset="1" stop-color="#515151"/></linearGradient><linearGradient id="dt28" gradientUnits="userSpaceOnUse" x1="508.1" y1="363" x2="516.98" y2="368.74"><stop offset="0" stop-color="#3e3e3e"/><stop offset="1" stop-color="#575757"/></linearGradient><linearGradient id="dt29" gradientUnits="userSpaceOnUse" x1="508.1" y1="363" x2="516.93" y2="368.6"><stop offset="0" stop-color="#3e3e3e"/><stop offset="1" stop-color="#575757"/></linearGradient><linearGradient id="dt30" gradientUnits="userSpaceOnUse" x1="515.85" y1="363" x2="507.89" y2="374.79"><stop offset="0" stop-color="#3e3e3e"/><stop offset="1" stop-color="#515151"/></linearGradient><linearGradient id="dt31" gradientUnits="userSpaceOnUse" x1="510.2" y1="363" x2="501.54" y2="372.77"><stop offset="0" stop-color="#424242"/><stop offset="1" stop-color="#575757"/></linearGradient><linearGradient id="dt32" gradientUnits="userSpaceOnUse" x1="521.5" y1="363" x2="516.08" y2="364.13"><stop offset="0" stop-color="#2e2e2e"/><stop offset="1" stop-color="#3e3e3e"/></linearGradient><linearGradient id="dt33" gradientUnits="userSpaceOnUse" x1="521.5" y1="380" x2="515.93" y2="381.37"><stop offset="0" stop-color="#383838"/><stop offset="1" stop-color="#515151"/></linearGradient><linearGradient id="dt34" gradientUnits="userSpaceOnUse" x1="524" y1="363" x2="521.5" y2="363"><stop offset="0" stop-color="#0a0a0a"/><stop offset="1" stop-color="#2e2e2e"/></linearGradient><linearGradient id="dt35" gradientUnits="userSpaceOnUse" x1="524" y1="380" x2="521.5" y2="380.08"><stop offset="0" stop-color="#0a0a0a"/><stop offset="1" stop-color="#383838"/></linearGradient><linearGradient id="dt36" gradientUnits="userSpaceOnUse" x1="500.5" y1="380" x2="503.87" y2="380.87"><stop offset="0" stop-color="#050505"/><stop offset="1" stop-color="#424242"/></linearGradient><linearGradient id="dt37" gradientUnits="userSpaceOnUse" x1="500.5" y1="380" x2="503.38" y2="380.6"><stop offset="0" stop-color="#050505"/><stop offset="1" stop-color="#424242"/></linearGradient><linearGradient id="dt38" gradientUnits="userSpaceOnUse" x1="503.5" y1="380" x2="508.61" y2="381.71"><stop offset="0" stop-color="#383838"/><stop offset="1" stop-color="#656565"/></linearGradient><linearGradient id="dt39" gradientUnits="userSpaceOnUse" x1="503.5" y1="380" x2="508.42" y2="381.53"><stop offset="0" stop-color="#383838"/><stop offset="1" stop-color="#656565"/></linearGradient><linearGradient id="dt40" gradientUnits="userSpaceOnUse" x1="506.6" y1="380" x2="513.97" y2="387.35"><stop offset="0" stop-color="#515151"/><stop offset="1" stop-color="#6e6e6e"/></linearGradient><linearGradient id="dt41" gradientUnits="userSpaceOnUse" x1="506.6" y1="380" x2="514.04" y2="386.97"><stop offset="0" stop-color="#515151"/><stop offset="1" stop-color="#6e6e6e"/></linearGradient><linearGradient id="dt42" gradientUnits="userSpaceOnUse" x1="515.6" y1="380" x2="510.29" y2="388.73"><stop offset="0" stop-color="#515151"/><stop offset="1" stop-color="#656565"/></linearGradient><linearGradient id="dt43" gradientUnits="userSpaceOnUse" x1="509.69" y1="380" x2="503.85" y2="387.99"><stop offset="0" stop-color="#575757"/><stop offset="1" stop-color="#6e6e6e"/></linearGradient><linearGradient id="dt44" gradientUnits="userSpaceOnUse" x1="521.5" y1="380" x2="515.94" y2="381.37"><stop offset="0" stop-color="#383838"/><stop offset="1" stop-color="#515151"/></linearGradient><linearGradient id="dt45" gradientUnits="userSpaceOnUse" x1="522" y1="392" x2="516.24" y2="393.82"><stop offset="0" stop-color="#424242"/><stop offset="1" stop-color="#656565"/></linearGradient><linearGradient id="dt46" gradientUnits="userSpaceOnUse" x1="524" y1="380" x2="521.5" y2="380.1"><stop offset="0" stop-color="#0a0a0a"/><stop offset="1" stop-color="#383838"/></linearGradient><linearGradient id="dt47" gradientUnits="userSpaceOnUse" x1="524.5" y1="392" x2="522.02" y2="392.2"><stop offset="0" stop-color="#0a0a0a"/><stop offset="1" stop-color="#424242"/></linearGradient><linearGradient id="dt48" gradientUnits="userSpaceOnUse" x1="498" y1="392" x2="501.23" y2="392.94"><stop offset="0" stop-color="#050505"/><stop offset="1" stop-color="#4c4c4c"/></linearGradient><linearGradient id="dt49" gradientUnits="userSpaceOnUse" x1="498" y1="392" x2="500.82" y2="392.71"><stop offset="0" stop-color="#050505"/><stop offset="1" stop-color="#4c4c4c"/></linearGradient><linearGradient id="dt50" gradientUnits="userSpaceOnUse" x1="501" y1="392" x2="507.32" y2="394.56"><stop offset="0" stop-color="#424242"/><stop offset="1" stop-color="#808080"/></linearGradient><linearGradient id="dt51" gradientUnits="userSpaceOnUse" x1="501" y1="392" x2="506.9" y2="394.01"><stop offset="0" stop-color="#424242"/><stop offset="1" stop-color="#808080"/></linearGradient><linearGradient id="dt52" gradientUnits="userSpaceOnUse" x1="505.17" y1="392" x2="512.5" y2="401.2"><stop offset="0" stop-color="#656565"/><stop offset="1" stop-color="#8c8c8c"/></linearGradient><linearGradient id="dt53" gradientUnits="userSpaceOnUse" x1="505.17" y1="392" x2="512.88" y2="400.42"><stop offset="0" stop-color="#656565"/><stop offset="1" stop-color="#8c8c8c"/></linearGradient><linearGradient id="dt54" gradientUnits="userSpaceOnUse" x1="515.67" y1="392" x2="510.32" y2="400.66"><stop offset="0" stop-color="#656565"/><stop offset="1" stop-color="#808080"/></linearGradient><linearGradient id="dt55" gradientUnits="userSpaceOnUse" x1="509.34" y1="392" x2="503.43" y2="399.81"><stop offset="0" stop-color="#6e6e6e"/><stop offset="1" stop-color="#8c8c8c"/></linearGradient><linearGradient id="dt56" gradientUnits="userSpaceOnUse" x1="522" y1="392" x2="515.9" y2="393.2"><stop offset="0" stop-color="#424242"/><stop offset="1" stop-color="#656565"/></linearGradient><linearGradient id="dt57" gradientUnits="userSpaceOnUse" x1="522.5" y1="404" x2="516.29" y2="405.85"><stop offset="0" stop-color="#4c4c4c"/><stop offset="1" stop-color="#808080"/></linearGradient><linearGradient id="dt58" gradientUnits="userSpaceOnUse" x1="524.5" y1="392" x2="522" y2="392.1"><stop offset="0" stop-color="#0a0a0a"/><stop offset="1" stop-color="#424242"/></linearGradient><linearGradient id="dt59" gradientUnits="userSpaceOnUse" x1="525" y1="404" x2="522.51" y2="404.18"><stop offset="0" stop-color="#0a0a0a"/><stop offset="1" stop-color="#4c4c4c"/></linearGradient><linearGradient id="dt60" gradientUnits="userSpaceOnUse" x1="495" y1="404" x2="498.12" y2="404.55"><stop offset="0" stop-color="#050505"/><stop offset="1" stop-color="#525252"/></linearGradient><linearGradient id="dt61" gradientUnits="userSpaceOnUse" x1="495" y1="404" x2="497.92" y2="404.49"><stop offset="0" stop-color="#050505"/><stop offset="1" stop-color="#525252"/></linearGradient><linearGradient id="dt62" gradientUnits="userSpaceOnUse" x1="498" y1="404" x2="505.83" y2="405.79"><stop offset="0" stop-color="#4c4c4c"/><stop offset="1" stop-color="#999999"/></linearGradient><linearGradient id="dt63" gradientUnits="userSpaceOnUse" x1="498" y1="404" x2="505.16" y2="405.36"><stop offset="0" stop-color="#4c4c4c"/><stop offset="1" stop-color="#999999"/></linearGradient><linearGradient id="dt64" gradientUnits="userSpaceOnUse" x1="503.49" y1="404" x2="516.53" y2="412.57"><stop offset="0" stop-color="#808080"/><stop offset="1" stop-color="#ababab"/></linearGradient><linearGradient id="dt65" gradientUnits="userSpaceOnUse" x1="503.49" y1="404" x2="516.2" y2="411.24"><stop offset="0" stop-color="#808080"/><stop offset="1" stop-color="#ababab"/></linearGradient><linearGradient id="dt66" gradientUnits="userSpaceOnUse" x1="515.74" y1="404" x2="506.26" y2="410.19"><stop offset="0" stop-color="#808080"/><stop offset="1" stop-color="#999999"/></linearGradient><linearGradient id="dt67" gradientUnits="userSpaceOnUse" x1="508.98" y1="404" x2="499.34" y2="409.67"><stop offset="0" stop-color="#8c8c8c"/><stop offset="1" stop-color="#ababab"/></linearGradient><linearGradient id="dt68" gradientUnits="userSpaceOnUse" x1="522.5" y1="404" x2="515.78" y2="404.54"><stop offset="0" stop-color="#4c4c4c"/><stop offset="1" stop-color="#808080"/></linearGradient><linearGradient id="dt69" gradientUnits="userSpaceOnUse" x1="523.5" y1="425" x2="516.07" y2="426.02"><stop offset="0" stop-color="#525252"/><stop offset="1" stop-color="#999999"/></linearGradient><linearGradient id="dt70" gradientUnits="userSpaceOnUse" x1="525" y1="404" x2="522.51" y2="404.12"><stop offset="0" stop-color="#0a0a0a"/><stop offset="1" stop-color="#4c4c4c"/></linearGradient><linearGradient id="dt71" gradientUnits="userSpaceOnUse" x1="526" y1="425" x2="523.51" y2="425.14"><stop offset="0" stop-color="#0a0a0a"/><stop offset="1" stop-color="#525252"/></linearGradient><linearGradient id="dt72" gradientUnits="userSpaceOnUse" x1="491.5" y1="425" x2="494.48" y2="425.6"><stop offset="0" stop-color="#050505"/><stop offset="1" stop-color="#545454"/></linearGradient><linearGradient id="dt73" gradientUnits="userSpaceOnUse" x1="491.5" y1="425" x2="494.39" y2="425.55"><stop offset="0" stop-color="#050505"/><stop offset="1" stop-color="#545454"/></linearGradient><linearGradient id="dt74" gradientUnits="userSpaceOnUse" x1="494.5" y1="425" x2="503.12" y2="427.84"><stop offset="0" stop-color="#525252"/><stop offset="1" stop-color="#b4b4b4"/></linearGradient><linearGradient id="dt75" gradientUnits="userSpaceOnUse" x1="494.5" y1="425" x2="502.27" y2="426.63"><stop offset="0" stop-color="#525252"/><stop offset="1" stop-color="#b4b4b4"/></linearGradient><linearGradient id="dt76" gradientUnits="userSpaceOnUse" x1="501.43" y1="425" x2="510.37" y2="434.85"><stop offset="0" stop-color="#999999"/><stop offset="1" stop-color="#cccccc"/></linearGradient><linearGradient id="dt77" gradientUnits="userSpaceOnUse" x1="501.43" y1="425" x2="511.16" y2="433.3"><stop offset="0" stop-color="#999999"/><stop offset="1" stop-color="#cccccc"/></linearGradient><linearGradient id="dt78" gradientUnits="userSpaceOnUse" x1="515.93" y1="425" x2="509.97" y2="430.73"><stop offset="0" stop-color="#999999"/><stop offset="1" stop-color="#b4b4b4"/></linearGradient><linearGradient id="dt79" gradientUnits="userSpaceOnUse" x1="508.36" y1="425" x2="502.2" y2="430.5"><stop offset="0" stop-color="#ababab"/><stop offset="1" stop-color="#cccccc"/></linearGradient><linearGradient id="dt80" gradientUnits="userSpaceOnUse" x1="523.5" y1="425" x2="515.96" y2="425.48"><stop offset="0" stop-color="#525252"/><stop offset="1" stop-color="#999999"/></linearGradient><linearGradient id="dt81" gradientUnits="userSpaceOnUse" x1="524" y1="437" x2="516.29" y2="438.5"><stop offset="0" stop-color="#545454"/><stop offset="1" stop-color="#b4b4b4"/></linearGradient><linearGradient id="dt82" gradientUnits="userSpaceOnUse" x1="526" y1="425" x2="523.5" y2="425.1"><stop offset="0" stop-color="#0a0a0a"/><stop offset="1" stop-color="#525252"/></linearGradient><linearGradient id="dt83" gradientUnits="userSpaceOnUse" x1="526.5" y1="437" x2="524.01" y2="437.12"><stop offset="0" stop-color="#0a0a0a"/><stop offset="1" stop-color="#545454"/></linearGradient><linearGradient id="dt84" gradientUnits="userSpaceOnUse" x1="489.2" y1="437" x2="492.1" y2="436.47"><stop offset="0" stop-color="#050505"/><stop offset="1" stop-color="#545454"/></linearGradient><linearGradient id="dt85" gradientUnits="userSpaceOnUse" x1="489.2" y1="437" x2="492.11" y2="436.49"><stop offset="0" stop-color="#050505"/><stop offset="1" stop-color="#525252"/></linearGradient><linearGradient id="dt86" gradientUnits="userSpaceOnUse" x1="492.2" y1="437" x2="499.58" y2="435.04"><stop offset="0" stop-color="#545454"/><stop offset="1" stop-color="#b4b4b4"/></linearGradient><linearGradient id="dt87" gradientUnits="userSpaceOnUse" x1="494.5" y1="450" x2="501.24" y2="448.68"><stop offset="0" stop-color="#525252"/><stop offset="1" stop-color="#9b9b9b"/></linearGradient><linearGradient id="dt88" gradientUnits="userSpaceOnUse" x1="508.49" y1="450" x2="514.56" y2="445.06"><stop offset="0" stop-color="#adadad"/><stop offset="1" stop-color="#cccccc"/></linearGradient><linearGradient id="dt89" gradientUnits="userSpaceOnUse" x1="501.5" y1="450" x2="507.08" y2="445.31"><stop offset="0" stop-color="#9b9b9b"/><stop offset="1" stop-color="#b4b4b4"/></linearGradient><linearGradient id="dt90" gradientUnits="userSpaceOnUse" x1="516" y1="450" x2="504.42" y2="442.57"><stop offset="0" stop-color="#9b9b9b"/><stop offset="1" stop-color="#cccccc"/></linearGradient><linearGradient id="dt91" gradientUnits="userSpaceOnUse" x1="516" y1="450" x2="505.2" y2="440.03"><stop offset="0" stop-color="#9b9b9b"/><stop offset="1" stop-color="#cccccc"/></linearGradient><linearGradient id="dt92" gradientUnits="userSpaceOnUse" x1="523.5" y1="450" x2="515.31" y2="449.55"><stop offset="0" stop-color="#525252"/><stop offset="1" stop-color="#b4b4b4"/></linearGradient><linearGradient id="dt93" gradientUnits="userSpaceOnUse" x1="523.5" y1="450" x2="513.82" y2="448.1"><stop offset="0" stop-color="#525252"/><stop offset="1" stop-color="#b4b4b4"/></linearGradient><linearGradient id="dt94" gradientUnits="userSpaceOnUse" x1="526.5" y1="437" x2="524" y2="436.9"><stop offset="0" stop-color="#0a0a0a"/><stop offset="1" stop-color="#545454"/></linearGradient><linearGradient id="dt95" gradientUnits="userSpaceOnUse" x1="526" y1="450" x2="523.42" y2="449.88"><stop offset="0" stop-color="#0a0a0a"/><stop offset="1" stop-color="#545454"/></linearGradient><linearGradient id="dt96" gradientUnits="userSpaceOnUse" x1="491.5" y1="450" x2="494.43" y2="449.53"><stop offset="0" stop-color="#050505"/><stop offset="1" stop-color="#525252"/></linearGradient><linearGradient id="dt97" gradientUnits="userSpaceOnUse" x1="491.5" y1="450" x2="494.43" y2="449.56"><stop offset="0" stop-color="#050505"/><stop offset="1" stop-color="#4c4c4c"/></linearGradient><linearGradient id="dt98" gradientUnits="userSpaceOnUse" x1="494.5" y1="450" x2="501.21" y2="448.62"><stop offset="0" stop-color="#525252"/><stop offset="1" stop-color="#9b9b9b"/></linearGradient><linearGradient id="dt99" gradientUnits="userSpaceOnUse" x1="497.5" y1="470" x2="503.2" y2="468.99"><stop offset="0" stop-color="#4c4c4c"/><stop offset="1" stop-color="#848484"/></linearGradient><linearGradient id="dt100" gradientUnits="userSpaceOnUse" x1="509.25" y1="470" x2="517.3" y2="465.39"><stop offset="0" stop-color="#919191"/><stop offset="1" stop-color="#adadad"/></linearGradient><linearGradient id="dt101" gradientUnits="userSpaceOnUse" x1="503.38" y1="470" x2="510.77" y2="465.6"><stop offset="0" stop-color="#848484"/><stop offset="1" stop-color="#9b9b9b"/></linearGradient><linearGradient id="dt102" gradientUnits="userSpaceOnUse" x1="515.88" y1="470" x2="502.04" y2="463.29"><stop offset="0" stop-color="#848484"/><stop offset="1" stop-color="#adadad"/></linearGradient><linearGradient id="dt103" gradientUnits="userSpaceOnUse" x1="515.88" y1="470" x2="501.56" y2="460.89"><stop offset="0" stop-color="#848484"/><stop offset="1" stop-color="#adadad"/></linearGradient><linearGradient id="dt104" gradientUnits="userSpaceOnUse" x1="522.5" y1="470" x2="514.52" y2="469.39"><stop offset="0" stop-color="#4c4c4c"/><stop offset="1" stop-color="#9b9b9b"/></linearGradient><linearGradient id="dt105" gradientUnits="userSpaceOnUse" x1="522.5" y1="470" x2="513.26" y2="468.64"><stop offset="0" stop-color="#4c4c4c"/><stop offset="1" stop-color="#9b9b9b"/></linearGradient><linearGradient id="dt106" gradientUnits="userSpaceOnUse" x1="526" y1="450" x2="523.51" y2="449.88"><stop offset="0" stop-color="#0a0a0a"/><stop offset="1" stop-color="#525252"/></linearGradient><linearGradient id="dt107" gradientUnits="userSpaceOnUse" x1="525" y1="470" x2="522.32" y2="469.84"><stop offset="0" stop-color="#0a0a0a"/><stop offset="1" stop-color="#525252"/></linearGradient><linearGradient id="dt108" gradientUnits="userSpaceOnUse" x1="494.5" y1="470" x2="497.42" y2="469.52"><stop offset="0" stop-color="#050505"/><stop offset="1" stop-color="#4c4c4c"/></linearGradient><linearGradient id="dt109" gradientUnits="userSpaceOnUse" x1="494.5" y1="470" x2="497.43" y2="469.56"><stop offset="0" stop-color="#050505"/><stop offset="1" stop-color="#454545"/></linearGradient><linearGradient id="dt110" gradientUnits="userSpaceOnUse" x1="497.5" y1="470" x2="503.13" y2="468.81"><stop offset="0" stop-color="#4c4c4c"/><stop offset="1" stop-color="#848484"/></linearGradient><linearGradient id="dt111" gradientUnits="userSpaceOnUse" x1="500.5" y1="490" x2="505.08" y2="489.11"><stop offset="0" stop-color="#454545"/><stop offset="1" stop-color="#6e6e6e"/></linearGradient><linearGradient id="dt112" gradientUnits="userSpaceOnUse" x1="510.01" y1="490" x2="518.14" y2="485.27"><stop offset="0" stop-color="#787878"/><stop offset="1" stop-color="#919191"/></linearGradient><linearGradient id="dt113" gradientUnits="userSpaceOnUse" x1="505.26" y1="490" x2="512.74" y2="485.47"><stop offset="0" stop-color="#6e6e6e"/><stop offset="1" stop-color="#848484"/></linearGradient><linearGradient id="dt114" gradientUnits="userSpaceOnUse" x1="515.76" y1="490" x2="502.39" y2="482.87"><stop offset="0" stop-color="#6e6e6e"/><stop offset="1" stop-color="#919191"/></linearGradient><linearGradient id="dt115" gradientUnits="userSpaceOnUse" x1="515.76" y1="490" x2="502.01" y2="480.65"><stop offset="0" stop-color="#6e6e6e"/><stop offset="1" stop-color="#919191"/></linearGradient><linearGradient id="dt116" gradientUnits="userSpaceOnUse" x1="521.5" y1="490" x2="514.03" y2="489.28"><stop offset="0" stop-color="#454545"/><stop offset="1" stop-color="#848484"/></linearGradient><linearGradient id="dt117" gradientUnits="userSpaceOnUse" x1="521.5" y1="490" x2="512.89" y2="488.62"><stop offset="0" stop-color="#454545"/><stop offset="1" stop-color="#848484"/></linearGradient><linearGradient id="dt118" gradientUnits="userSpaceOnUse" x1="525" y1="470" x2="522.51" y2="469.88"><stop offset="0" stop-color="#0a0a0a"/><stop offset="1" stop-color="#4c4c4c"/></linearGradient><linearGradient id="dt119" gradientUnits="userSpaceOnUse" x1="524" y1="490" x2="521.19" y2="489.81"><stop offset="0" stop-color="#0a0a0a"/><stop offset="1" stop-color="#4c4c4c"/></linearGradient><linearGradient id="dt120" gradientUnits="userSpaceOnUse" x1="497.5" y1="490" x2="500.46" y2="489.65"><stop offset="0" stop-color="#050505"/><stop offset="1" stop-color="#454545"/></linearGradient><linearGradient id="dt121" gradientUnits="userSpaceOnUse" x1="497.5" y1="490" x2="500.47" y2="489.71"><stop offset="0" stop-color="#050505"/><stop offset="1" stop-color="#383838"/></linearGradient><linearGradient id="dt122" gradientUnits="userSpaceOnUse" x1="500.5" y1="490" x2="505.16" y2="489.34"><stop offset="0" stop-color="#454545"/><stop offset="1" stop-color="#6e6e6e"/></linearGradient><linearGradient id="dt123" gradientUnits="userSpaceOnUse" x1="503" y1="516" x2="506.91" y2="515.41"><stop offset="0" stop-color="#383838"/><stop offset="1" stop-color="#5d5d5d"/></linearGradient><linearGradient id="dt124" gradientUnits="userSpaceOnUse" x1="511" y1="516" x2="518.38" y2="513.36"><stop offset="0" stop-color="#666666"/><stop offset="1" stop-color="#787878"/></linearGradient><linearGradient id="dt125" gradientUnits="userSpaceOnUse" x1="507" y1="516" x2="513.54" y2="513.72"><stop offset="0" stop-color="#5d5d5d"/><stop offset="1" stop-color="#6e6e6e"/></linearGradient><linearGradient id="dt126" gradientUnits="userSpaceOnUse" x1="515.75" y1="516" x2="502.32" y2="511.1"><stop offset="0" stop-color="#5d5d5d"/><stop offset="1" stop-color="#787878"/></linearGradient><linearGradient id="dt127" gradientUnits="userSpaceOnUse" x1="515.75" y1="516" x2="503.04" y2="511.97"><stop offset="0" stop-color="#5d5d5d"/><stop offset="1" stop-color="#787878"/></linearGradient><linearGradient id="dt128" gradientUnits="userSpaceOnUse" x1="520.5" y1="516" x2="513.05" y2="515.2"><stop offset="0" stop-color="#383838"/><stop offset="1" stop-color="#6e6e6e"/></linearGradient><linearGradient id="dt129" gradientUnits="userSpaceOnUse" x1="520.5" y1="516" x2="513.62" y2="515.42"><stop offset="0" stop-color="#383838"/><stop offset="1" stop-color="#6e6e6e"/></linearGradient><linearGradient id="dt130" gradientUnits="userSpaceOnUse" x1="524" y1="490" x2="521.5" y2="489.9"><stop offset="0" stop-color="#0a0a0a"/><stop offset="1" stop-color="#454545"/></linearGradient><linearGradient id="dt131" gradientUnits="userSpaceOnUse" x1="523" y1="516" x2="519.82" y2="515.79"><stop offset="0" stop-color="#0a0a0a"/><stop offset="1" stop-color="#454545"/></linearGradient><clipPath id="cpd"><rect x="386" y="303" width="223" height="211"/></clipPath></defs><rect width="685" height="559" fill="#fff"/><g filter="url(#cm)" clip-path="url(#cpa)"><rect x="32" y="26" width="231" height="211" fill="#050505"/><rect x="32" y="26" width="117" height="28" fill="url(#a0r0)"/><rect x="32" y="26" width="117" height="28" fill="url(#a0r1)" mask="url(#mf)"/><rect x="32" y="53" width="117" height="33" fill="url(#a0r1)"/><rect x="32" y="53" width="117" height="33" fill="url(#a0r2)" mask="url(#mf)"/><rect x="32" y="85" width="117" height="32" fill="url(#a0r2)"/><rect x="32" y="85" width="117" height="32" fill="url(#a0r3)" mask="url(#mf)"/><rect x="32" y="116" width="117" height="24" fill="url(#a0r3)"/><rect x="32" y="116" width="117" height="24" fill="url(#a0r4)" mask="url(#mf)"/><rect x="32" y="139" width="117" height="18" fill="url(#a0r4)"/><rect x="32" y="139" width="117" height="18" fill="url(#a0r5)" mask="url(#mf)"/><rect x="32" y="156" width="117" height="15" fill="url(#a0r5)"/><rect x="32" y="156" width="117" height="15" fill="url(#a0r6)" mask="url(#mf)"/><rect x="32" y="170" width="117" height="21" fill="url(#a0r6)"/><rect x="32" y="170" width="117" height="21" fill="url(#a0r7)" mask="url(#mf)"/><rect x="32" y="190" width="117" height="24" fill="url(#a0r7)"/><rect x="32" y="190" width="117" height="24" fill="url(#a0r8)" mask="url(#mf)"/><rect x="32" y="213" width="117" height="25" fill="url(#a0r8)"/><rect x="32" y="213" width="117" height="25" fill="url(#a0r9)" mask="url(#mf)"/><rect x="148" y="26" width="115" height="48" fill="url(#a1r0)"/><rect x="148" y="26" width="115" height="48" fill="url(#a1r1)" mask="url(#mf)"/><rect x="148" y="73" width="115" height="37" fill="url(#a1r1)"/><rect x="148" y="73" width="115" height="37" fill="url(#a1r2)" mask="url(#mf)"/><rect x="148" y="109" width="115" height="48" fill="url(#a1r2)"/><rect x="148" y="109" width="115" height="48" fill="url(#a1r3)" mask="url(#mf)"/><rect x="148" y="156" width="115" height="38" fill="url(#a1r3)"/><rect x="148" y="156" width="115" height="38" fill="url(#a1r4)" mask="url(#mf)"/><rect x="148" y="193" width="115" height="45" fill="url(#a1r4)"/><rect x="148" y="193" width="115" height="45" fill="url(#a1r5)" mask="url(#mf)"/><polygon points="200.5,110 201,133 181.5,156" fill="url(#at0)" stroke="url(#at0)" stroke-width=".7" style="mix-blend-mode:lighten"/><polygon points="201,133 200.5,110 220.5,156" fill="url(#at1)" stroke="url(#at1)" stroke-width=".7" style="mix-blend-mode:lighten"/><polygon points="201.5,177 201.5,198 181.5,156" fill="url(#at2)" stroke="url(#at2)" stroke-width=".7" style="mix-blend-mode:lighten"/><polygon points="201.5,198 201.5,177 220.5,156" fill="url(#at3)" stroke="url(#at3)" stroke-width=".7" style="mix-blend-mode:lighten"/><polygon points="211,156 201,133 220.5,156" fill="url(#at4)" stroke="url(#at4)" stroke-width=".7" style="mix-blend-mode:lighten"/><polygon points="211,156 201.5,156 201,133" fill="url(#at5)" stroke="url(#at5)" stroke-width=".7" style="mix-blend-mode:lighten"/><polygon points="201.5,177 211,156 220.5,156" fill="url(#at6)" stroke="url(#at6)" stroke-width=".7" style="mix-blend-mode:lighten"/><polygon points="201.5,156 211,156 201.5,177" fill="url(#at7)" stroke="url(#at7)" stroke-width=".7" style="mix-blend-mode:lighten"/><polygon points="192,156 201.5,177 181.5,156" fill="url(#at8)" stroke="url(#at8)" stroke-width=".7" style="mix-blend-mode:lighten"/><polygon points="192,156 201.5,156 201.5,177" fill="url(#at9)" stroke="url(#at9)" stroke-width=".7" style="mix-blend-mode:lighten"/><polygon points="201,133 192,156 181.5,156" fill="url(#at10)" stroke="url(#at10)" stroke-width=".7" style="mix-blend-mode:lighten"/><polygon points="201.5,156 192,156 201,133" fill="url(#at11)" stroke="url(#at11)" stroke-width=".7" style="mix-blend-mode:lighten"/><polygon points="242,167 242,180 228,157" fill="url(#at12)" stroke="url(#at12)" stroke-width=".7" style="mix-blend-mode:lighten"/><polygon points="242,180 242,167 254,157" fill="url(#at13)" stroke="url(#at13)" stroke-width=".7" style="mix-blend-mode:lighten"/><polygon points="236,157 242,167 228,157" fill="url(#at14)" stroke="url(#at14)" stroke-width=".7" style="mix-blend-mode:lighten"/><polygon points="236,157 242,157 242,167" fill="url(#at15)" stroke="url(#at15)" stroke-width=".7" style="mix-blend-mode:lighten"/><polygon points="242,167 248,157 254,157" fill="url(#at16)" stroke="url(#at16)" stroke-width=".7" style="mix-blend-mode:lighten"/><polygon points="242,157 248,157 242,167" fill="url(#at17)" stroke="url(#at17)" stroke-width=".7" style="mix-blend-mode:lighten"/><polygon points="242,150 248,157 242,157" fill="url(#at18)" stroke="url(#at18)" stroke-width=".7" style="mix-blend-mode:lighten"/><polygon points="236,157 242,150 242,157" fill="url(#at19)" stroke="url(#at19)" stroke-width=".7" style="mix-blend-mode:lighten"/><polygon points="242,150 242,140 254,157" fill="url(#at20)" stroke="url(#at20)" stroke-width=".7" style="mix-blend-mode:lighten"/><polygon points="248,157 242,150 254,157" fill="url(#at21)" stroke="url(#at21)" stroke-width=".7" style="mix-blend-mode:lighten"/><polygon points="242,140 242,150 228,157" fill="url(#at22)" stroke="url(#at22)" stroke-width=".7" style="mix-blend-mode:lighten"/><polygon points="242,150 236,157 228,157" fill="url(#at23)" stroke="url(#at23)" stroke-width=".7" style="mix-blend-mode:lighten"/></g>
<line x1="191.3" y1="27.5" x2="191.3" y2="237" stroke="#f4b41c" stroke-width="1.9" stroke-dasharray="4.8 2"/>
<rect x="31.5" y="25.5" width="232" height="212" fill="none" stroke="#4a4a4a"/>
<text x="32.3" y="250.9" font-size="9.2" fill="#333" text-anchor="middle">0</text>
<text x="58.65" y="250.9" font-size="9.2" fill="#333" text-anchor="middle">50</text>
<text x="85" y="250.9" font-size="9.2" fill="#333" text-anchor="middle">100</text>
<text x="111.35" y="250.9" font-size="9.2" fill="#333" text-anchor="middle">150</text>
<text x="137.7" y="250.9" font-size="9.2" fill="#333" text-anchor="middle">200</text>
<text x="164.05" y="250.9" font-size="9.2" fill="#333" text-anchor="middle">250</text>
<text x="190.4" y="250.9" font-size="9.2" fill="#333" text-anchor="middle">300</text>
<text x="216.75" y="250.9" font-size="9.2" fill="#333" text-anchor="middle">350</text>
<text x="243.1" y="250.9" font-size="9.2" fill="#333" text-anchor="middle">400</text>
<text x="23.6" y="211.74" font-size="9.2" fill="#333" text-anchor="end">10</text>
<text x="23.6" y="158.64" font-size="9.2" fill="#333" text-anchor="end">30</text>
<text x="23.6" y="105.54" font-size="9.2" fill="#333" text-anchor="end">50</text>
<text x="23.6" y="52.44" font-size="9.2" fill="#333" text-anchor="end">70</text>
<text x="298" y="28.93" font-size="7.3" fill="#333">9.900E+9</text>
<text x="298" y="50.03" font-size="7.3" fill="#333">9.326E+9</text>
<text x="298" y="71.13" font-size="7.3" fill="#333">8.752E+9</text>
<text x="298" y="92.23" font-size="7.3" fill="#333">8.178E+9</text>
<text x="298" y="113.33" font-size="7.3" fill="#333">7.604E+9</text>
<text x="298" y="134.43" font-size="7.3" fill="#333">7.030E+9</text>
<text x="298" y="155.53" font-size="7.3" fill="#333">6.456E+9</text>
<text x="298" y="176.63" font-size="7.3" fill="#333">5.882E+9</text>
<text x="298" y="197.73" font-size="7.3" fill="#333">5.308E+9</text>
<text x="298" y="218.83" font-size="7.3" fill="#333">4.734E+9</text>
<text x="298" y="239.93" font-size="7.3" fill="#333">4.160E+9</text>
<path d="M32.3 237.5v3.5M58.65 237.5v3.5M85 237.5v3.5M111.35 237.5v3.5M137.7 237.5v3.5M164.05 237.5v3.5M190.4 237.5v3.5M216.75 237.5v3.5M243.1 237.5v3.5M45.47 237.5v2M71.82 237.5v2M98.17 237.5v2M124.53 237.5v2M150.88 237.5v2M177.23 237.5v2M203.57 237.5v2M229.93 237.5v2M256.28 237.5v2M28 208.7h3.5M28 155.6h3.5M28 102.5h3.5M28 49.4h3.5M29.5 235.25h2M29.5 182.15h2M29.5 129.05h2M29.5 75.95h2M291.2 26.3h4M291.2 47.4h4M291.2 68.5h4M291.2 89.6h4M291.2 110.7h4M291.2 131.8h4M291.2 152.9h4M291.2 174h4M291.2 195.1h4M291.2 216.2h4M291.2 237.3h4" stroke="#4a4a4a" fill="none"/>
<text x="133" y="268.9" font-size="11.4" fill="#222">x, µm</text>
<text font-size="11.4" fill="#222" text-anchor="middle" transform="translate(8.2,130.3) rotate(-90)">y, µm</text>
<rect x="273" y="26.3" width="18.2" height="211" fill="url(#cbg)" filter="url(#cm)"/>
<rect x="273" y="26.3" width="18.2" height="211" fill="none" stroke="#4a4a4a" stroke-width=".8"/>
<text x="180.7" y="17.2" font-size="11.5" fill="#111" font-weight="bold">Impedance at 10 kHz (Ohm)</text>
<text x="4.2" y="24.6" font-size="20.5" fill="#111">(a)</text>
<text x="63.5" y="47.7" font-size="11.35" fill="#000" font-weight="bold">DP590 Steel</text>
<text x="208.8" y="47.3" font-size="11.4" fill="#fff" font-weight="bold">AZ31 Mg</text>
<g filter="url(#cm)" clip-path="url(#cpb)"><rect x="383" y="26" width="230" height="211" fill="#050505"/><rect x="383" y="26" width="230" height="75" fill="url(#b0r0)"/><rect x="383" y="26" width="230" height="75" fill="url(#b0r1)" mask="url(#mf)"/><rect x="383" y="100" width="230" height="57" fill="url(#b0r1)"/><rect x="383" y="100" width="230" height="57" fill="url(#b0r2)" mask="url(#mf)"/><rect x="383" y="156" width="230" height="45" fill="url(#b0r2)"/><rect x="383" y="156" width="230" height="45" fill="url(#b0r3)" mask="url(#mf)"/><rect x="383" y="200" width="230" height="38" fill="url(#b0r3)"/><rect x="383" y="200" width="230" height="38" fill="url(#b0r4)" mask="url(#mf)"/><polygon points="551,55.5 553,55.5 553,57" fill="url(#bt0)" stroke="url(#bt0)" stroke-width=".7" style="mix-blend-mode:lighten"/><polygon points="551,55.5 553,57 550.5,57" fill="url(#bt1)" stroke="url(#bt1)" stroke-width=".7" style="mix-blend-mode:lighten"/><polygon points="553,55.5 556,55.5 556,57" fill="url(#bt2)" stroke="url(#bt2)" stroke-width=".7" style="mix-blend-mode:lighten"/><polygon points="553,55.5 556,57 553,57" fill="url(#bt3)" stroke="url(#bt3)" stroke-width=".7" style="mix-blend-mode:lighten"/><polygon points="556,55.5 559,55.5 559,57" fill="url(#bt4)" stroke="url(#bt4)" stroke-width=".7" style="mix-blend-mode:lighten"/><polygon points="556,55.5 559,57 556,57" fill="url(#bt5)" stroke="url(#bt5)" stroke-width=".7" style="mix-blend-mode:lighten"/><polygon points="559,55.5 562,55.5 562,57" fill="url(#bt6)" stroke="url(#bt6)" stroke-width=".7" style="mix-blend-mode:lighten"/><polygon points="559,55.5 562,57 559,57" fill="url(#bt7)" stroke="url(#bt7)" stroke-width=".7" style="mix-blend-mode:lighten"/><polygon points="562,55.5 565,55.5 565,57" fill="url(#bt8)" stroke="url(#bt8)" stroke-width=".7" style="mix-blend-mode:lighten"/><polygon points="562,55.5 565,57 562,57" fill="url(#bt9)" stroke="url(#bt9)" stroke-width=".7" style="mix-blend-mode:lighten"/><polygon points="565,55.5 568,55.5 568,57" fill="url(#bt10)" stroke="url(#bt10)" stroke-width=".7" style="mix-blend-mode:lighten"/><polygon points="565,55.5 568,57 565,57" fill="url(#bt11)" stroke="url(#bt11)" stroke-width=".7" style="mix-blend-mode:lighten"/><polygon points="568,55.5 571,55.5 571,57" fill="url(#bt12)" stroke="url(#bt12)" stroke-width=".7" style="mix-blend-mode:lighten"/><polygon points="568,55.5 571,57 568,57" fill="url(#bt13)" stroke="url(#bt13)" stroke-width=".7" style="mix-blend-mode:lighten"/><polygon points="571,55.5 573,55.5 573.5,57" fill="#141414" stroke="#141414" stroke-width=".7" style="mix-blend-mode:lighten"/><polygon points="571,55.5 573.5,57 571,57" fill="url(#bt15)" stroke="url(#bt15)" stroke-width=".7" style="mix-blend-mode:lighten"/><polygon points="550.5,57 553,57 552,66" fill="url(#bt16)" stroke="url(#bt16)" stroke-width=".7" style="mix-blend-mode:lighten"/><polygon points="550.5,57 552,66 549.5,66" fill="url(#bt17)" stroke="url(#bt17)" stroke-width=".7" style="mix-blend-mode:lighten"/><polygon points="553,57 556,57 555,66" fill="url(#bt18)" stroke="url(#bt18)" stroke-width=".7" style="mix-blend-mode:lighten"/><polygon points="553,57 555,66 552,66" fill="url(#bt19)" stroke="url(#bt19)" stroke-width=".7" style="mix-blend-mode:lighten"/><polygon points="556,57 559,57 558,66" fill="url(#bt20)" stroke="url(#bt20)" stroke-width=".7" style="mix-blend-mode:lighten"/><polygon points="556,57 558,66 555,66" fill="url(#bt21)" stroke="url(#bt21)" stroke-width=".7" style="mix-blend-mode:lighten"/><polygon points="559,57 562,57 561,66" fill="url(#bt22)" stroke="url(#bt22)" stroke-width=".7" style="mix-blend-mode:lighten"/><polygon points="559,57 561,66 558,66" fill="url(#bt23)" stroke="url(#bt23)" stroke-width=".7" style="mix-blend-mode:lighten"/><polygon points="562,57 565,57 564,66" fill="url(#bt24)" stroke="url(#bt24)" stroke-width=".7" style="mix-blend-mode:lighten"/><polygon points="562,57 564,66 561,66" fill="url(#bt25)" stroke="url(#bt25)" stroke-width=".7" style="mix-blend-mode:lighten"/><polygon points="565,57 568,57 567,66" fill="url(#bt26)" stroke="url(#bt26)" stroke-width=".7" style="mix-blend-mode:lighten"/><polygon points="565,57 567,66 564,66" fill="url(#bt27)" stroke="url(#bt27)" stroke-width=".7" style="mix-blend-mode:lighten"/><polygon points="568,57 571,57 571,66" fill="url(#bt28)" stroke="url(#bt28)" stroke-width=".7" style="mix-blend-mode:lighten"/><polygon points="568,57 571,66 567,66" fill="url(#bt29)" stroke="url(#bt29)" stroke-width=".7" style="mix-blend-mode:lighten"/><polygon points="571,57 573.5,57 573.5,66" fill="url(#bt30)" stroke="url(#bt30)" stroke-width=".7" style="mix-blend-mode:lighten"/><polygon points="571,57 573.5,66 571,66" fill="url(#bt31)" stroke="url(#bt31)" stroke-width=".7" style="mix-blend-mode:lighten"/><polygon points="549.5,66 552,66 550.5,81" fill="url(#bt32)" stroke="url(#bt32)" stroke-width=".7" style="mix-blend-mode:lighten"/><polygon points="549.5,66 550.5,81 548,81" fill="url(#bt33)" stroke="url(#bt33)" stroke-width=".7" style="mix-blend-mode:lighten"/><polygon points="552,66 555,66 553.5,81" fill="url(#bt34)" stroke="url(#bt34)" stroke-width=".7" style="mix-blend-mode:lighten"/><polygon points="552,66 553.5,81 550.5,81" fill="url(#bt35)" stroke="url(#bt35)" stroke-width=".7" style="mix-blend-mode:lighten"/><polygon points="555,66 558,66 557,81" fill="url(#bt36)" stroke="url(#bt36)" stroke-width=".7" style="mix-blend-mode:lighten"/><polygon points="555,66 557,81 553.5,81" fill="url(#bt37)" stroke="url(#bt37)" stroke-width=".7" style="mix-blend-mode:lighten"/><polygon points="558,66 561,66 560.5,81" fill="url(#bt38)" stroke="url(#bt38)" stroke-width=".7" style="mix-blend-mode:lighten"/><polygon points="558,66 560.5,81 557,81" fill="url(#bt39)" stroke="url(#bt39)" stroke-width=".7" style="mix-blend-mode:lighten"/><polygon points="561,66 564,66 564,81" fill="url(#bt40)" stroke="url(#bt40)" stroke-width=".7" style="mix-blend-mode:lighten"/><polygon points="561,66 564,81 560.5,81" fill="url(#bt41)" stroke="url(#bt41)" stroke-width=".7" style="mix-blend-mode:lighten"/><polygon points="564,66 567,66 567,81" fill="url(#bt42)" stroke="url(#bt42)" stroke-width=".7" style="mix-blend-mode:lighten"/><polygon points="564,66 567,81 564,81" fill="url(#bt43)" stroke="url(#bt43)" stroke-width=".7" style="mix-blend-mode:lighten"/><polygon points="567,66 571,66 571,81" fill="url(#bt44)" stroke="url(#bt44)" stroke-width=".7" style="mix-blend-mode:lighten"/><polygon points="567,66 571,81 567,81" fill="url(#bt45)" stroke="url(#bt45)" stroke-width=".7" style="mix-blend-mode:lighten"/><polygon points="571,66 573.5,66 573.5,81" fill="url(#bt46)" stroke="url(#bt46)" stroke-width=".7" style="mix-blend-mode:lighten"/><polygon points="571,66 573.5,81 571,81" fill="url(#bt47)" stroke="url(#bt47)" stroke-width=".7" style="mix-blend-mode:lighten"/><polygon points="548,81 550.5,81 549,97" fill="url(#bt48)" stroke="url(#bt48)" stroke-width=".7" style="mix-blend-mode:lighten"/><polygon points="548,81 549,97 546,97" fill="url(#bt49)" stroke="url(#bt49)" stroke-width=".7" style="mix-blend-mode:lighten"/><polygon points="550.5,81 553.5,81 552.5,97" fill="url(#bt50)" stroke="url(#bt50)" stroke-width=".7" style="mix-blend-mode:lighten"/><polygon points="550.5,81 552.5,97 549,97" fill="url(#bt51)" stroke="url(#bt51)" stroke-width=".7" style="mix-blend-mode:lighten"/><polygon points="553.5,81 557,81 556,97" fill="url(#bt52)" stroke="url(#bt52)" stroke-width=".7" style="mix-blend-mode:lighten"/><polygon points="553.5,81 556,97 552.5,97" fill="url(#bt53)" stroke="url(#bt53)" stroke-width=".7" style="mix-blend-mode:lighten"/><polygon points="557,81 560.5,81 560,97" fill="url(#bt54)" stroke="url(#bt54)" stroke-width=".7" style="mix-blend-mode:lighten"/><polygon points="557,81 560,97 556,97" fill="url(#bt55)" stroke="url(#bt55)" stroke-width=".7" style="mix-blend-mode:lighten"/><polygon points="560.5,81 564,81 564,97" fill="url(#bt56)" stroke="url(#bt56)" stroke-width=".7" style="mix-blend-mode:lighten"/><polygon points="560.5,81 564,97 560,97" fill="url(#bt57)" stroke="url(#bt57)" stroke-width=".7" style="mix-blend-mode:lighten"/><polygon points="564,81 567,81 567.5,97" fill="url(#bt58)" stroke="url(#bt58)" stroke-width=".7" style="mix-blend-mode:lighten"/><polygon points="564,81 567.5,97 564,97" fill="url(#bt59)" stroke="url(#bt59)" stroke-width=".7" style="mix-blend-mode:lighten"/><polygon points="567,81 571,81 571,97" fill="url(#bt60)" stroke="url(#bt60)" stroke-width=".7" style="mix-blend-mode:lighten"/><polygon points="567,81 571,97 567.5,97" fill="url(#bt61)" stroke="url(#bt61)" stroke-width=".7" style="mix-blend-mode:lighten"/><polygon points="571,81 573.5,81 573.5,97" fill="url(#bt62)" stroke="url(#bt62)" stroke-width=".7" style="mix-blend-mode:lighten"/><polygon points="571,81 573.5,97 571,97" fill="url(#bt63)" stroke="url(#bt63)" stroke-width=".7" style="mix-blend-mode:lighten"/><polygon points="546,97 549,97 545.5,116" fill="url(#bt64)" stroke="url(#bt64)" stroke-width=".7" style="mix-blend-mode:lighten"/><polygon points="546,97 545.5,116 542.5,116" fill="url(#bt65)" stroke="url(#bt65)" stroke-width=".7" style="mix-blend-mode:lighten"/><polygon points="549,97 552.5,97 549.5,116" fill="url(#bt66)" stroke="url(#bt66)" stroke-width=".7" style="mix-blend-mode:lighten"/><polygon points="549,97 549.5,116 545.5,116" fill="url(#bt67)" stroke="url(#bt67)" stroke-width=".7" style="mix-blend-mode:lighten"/><polygon points="552.5,97 556,97 553.5,116" fill="url(#bt68)" stroke="url(#bt68)" stroke-width=".7" style="mix-blend-mode:lighten"/><polygon points="552.5,97 553.5,116 549.5,116" fill="url(#bt69)" stroke="url(#bt69)" stroke-width=".7" style="mix-blend-mode:lighten"/><polygon points="556,97 560,97 557.5,116" fill="url(#bt70)" stroke="url(#bt70)" stroke-width=".7" style="mix-blend-mode:lighten"/><polygon points="556,97 557.5,116 553.5,116" fill="url(#bt71)" stroke="url(#bt71)" stroke-width=".7" style="mix-blend-mode:lighten"/><polygon points="560,97 564,97 561.5,116" fill="url(#bt72)" stroke="url(#bt72)" stroke-width=".7" style="mix-blend-mode:lighten"/><polygon points="560,97 561.5,116 557.5,116" fill="url(#bt73)" stroke="url(#bt73)" stroke-width=".7" style="mix-blend-mode:lighten"/><polygon points="564,97 567.5,97 565.5,116" fill="url(#bt74)" stroke="url(#bt74)" stroke-width=".7" style="mix-blend-mode:lighten"/><polygon points="564,97 565.5,116 561.5,116" fill="url(#bt75)" stroke="url(#bt75)" stroke-width=".7" style="mix-blend-mode:lighten"/><polygon points="567.5,97 571,97 571,116" fill="url(#bt76)" stroke="url(#bt76)" stroke-width=".7" style="mix-blend-mode:lighten"/><polygon points="567.5,97 571,116 565.5,116" fill="url(#bt77)" stroke="url(#bt77)" stroke-width=".7" style="mix-blend-mode:lighten"/><polygon points="571,97 573.5,97 573.5,116" fill="url(#bt78)" stroke="url(#bt78)" stroke-width=".7" style="mix-blend-mode:lighten"/><polygon points="571,97 573.5,116 571,116" fill="url(#bt79)" stroke="url(#bt79)" stroke-width=".7" style="mix-blend-mode:lighten"/><polygon points="542.5,116 545.5,116 542.8,131" fill="url(#bt80)" stroke="url(#bt80)" stroke-width=".7" style="mix-blend-mode:lighten"/><polygon points="542.5,116 542.8,131 539.8,131" fill="url(#bt81)" stroke="url(#bt81)" stroke-width=".7" style="mix-blend-mode:lighten"/><polygon points="545.5,116 549.5,116 547,131" fill="url(#bt82)" stroke="url(#bt82)" stroke-width=".7" style="mix-blend-mode:lighten"/><polygon points="545.5,116 547,131 542.8,131" fill="url(#bt83)" stroke="url(#bt83)" stroke-width=".7" style="mix-blend-mode:lighten"/><polygon points="549.5,116 553.5,116 551,131" fill="url(#bt84)" stroke="url(#bt84)" stroke-width=".7" style="mix-blend-mode:lighten"/><polygon points="549.5,116 551,131 547,131" fill="url(#bt85)" stroke="url(#bt85)" stroke-width=".7" style="mix-blend-mode:lighten"/><polygon points="553.5,116 557.5,116 555,131" fill="url(#bt86)" stroke="url(#bt86)" stroke-width=".7" style="mix-blend-mode:lighten"/><polygon points="553.5,116 555,131 551,131" fill="url(#bt87)" stroke="url(#bt87)" stroke-width=".7" style="mix-blend-mode:lighten"/><polygon points="557.5,116 561.5,116 559,131" fill="url(#bt88)" stroke="url(#bt88)" stroke-width=".7" style="mix-blend-mode:lighten"/><polygon points="557.5,116 559,131 555,131" fill="url(#bt89)" stroke="url(#bt89)" stroke-width=".7" style="mix-blend-mode:lighten"/><polygon points="561.5,116 565.5,116 564,131" fill="url(#bt90)" stroke="url(#bt90)" stroke-width=".7" style="mix-blend-mode:lighten"/><polygon points="561.5,116 564,131 559,131" fill="url(#bt91)" stroke="url(#bt91)" stroke-width=".7" style="mix-blend-mode:lighten"/><polygon points="565.5,116 571,116 571,131" fill="url(#bt92)" stroke="url(#bt92)" stroke-width=".7" style="mix-blend-mode:lighten"/><polygon points="565.5,116 571,131 564,131" fill="url(#bt93)" stroke="url(#bt93)" stroke-width=".7" style="mix-blend-mode:lighten"/><polygon points="571,116 573.5,116 573.5,131" fill="url(#bt94)" stroke="url(#bt94)" stroke-width=".7" style="mix-blend-mode:lighten"/><polygon points="571,116 573.5,131 571,131" fill="url(#bt95)" stroke="url(#bt95)" stroke-width=".7" style="mix-blend-mode:lighten"/><polygon points="539.8,131 542.8,131 540,145" fill="url(#bt96)" stroke="url(#bt96)" stroke-width=".7" style="mix-blend-mode:lighten"/><polygon points="539.8,131 540,145 537,145" fill="url(#bt97)" stroke="url(#bt97)" stroke-width=".7" style="mix-blend-mode:lighten"/><polygon points="542.8,131 547,131 545,145" fill="url(#bt98)" stroke="url(#bt98)" stroke-width=".7" style="mix-blend-mode:lighten"/><polygon points="542.8,131 545,145 540,145" fill="url(#bt99)" stroke="url(#bt99)" stroke-width=".7" style="mix-blend-mode:lighten"/><polygon points="547,131 551,131 549.5,145" fill="url(#bt100)" stroke="url(#bt100)" stroke-width=".7" style="mix-blend-mode:lighten"/><polygon points="547,131 549.5,145 545,145" fill="url(#bt101)" stroke="url(#bt101)" stroke-width=".7" style="mix-blend-mode:lighten"/><polygon points="551,131 555,131 553.5,145" fill="url(#bt102)" stroke="url(#bt102)" stroke-width=".7" style="mix-blend-mode:lighten"/><polygon points="551,131 553.5,145 549.5,145" fill="url(#bt103)" stroke="url(#bt103)" stroke-width=".7" style="mix-blend-mode:lighten"/><polygon points="555,131 559,131 558,145" fill="url(#bt104)" stroke="url(#bt104)" stroke-width=".7" style="mix-blend-mode:lighten"/><polygon points="555,131 558,145 553.5,145" fill="url(#bt105)" stroke="url(#bt105)" stroke-width=".7" style="mix-blend-mode:lighten"/><polygon points="559,131 564,131 563,145" fill="url(#bt106)" stroke="url(#bt106)" stroke-width=".7" style="mix-blend-mode:lighten"/><polygon points="559,131 563,145 558,145" fill="url(#bt107)" stroke="url(#bt107)" stroke-width=".7" style="mix-blend-mode:lighten"/><polygon points="564,131 571,131 571,145" fill="url(#bt108)" stroke="url(#bt108)" stroke-width=".7" style="mix-blend-mode:lighten"/><polygon points="564,131 571,145 563,145" fill="url(#bt109)" stroke="url(#bt109)" stroke-width=".7" style="mix-blend-mode:lighten"/><polygon points="571,131 573.5,131 573.5,145" fill="url(#bt110)" stroke="url(#bt110)" stroke-width=".7" style="mix-blend-mode:lighten"/><polygon points="571,131 573.5,145 571,145" fill="url(#bt111)" stroke="url(#bt111)" stroke-width=".7" style="mix-blend-mode:lighten"/><polygon points="537,145 540,145 536.3,158" fill="url(#bt112)" stroke="url(#bt112)" stroke-width=".7" style="mix-blend-mode:lighten"/><polygon points="537,145 536.3,158 533.3,158" fill="url(#bt113)" stroke="url(#bt113)" stroke-width=".7" style="mix-blend-mode:lighten"/><polygon points="540,145 545,145 542,158" fill="url(#bt114)" stroke="url(#bt114)" stroke-width=".7" style="mix-blend-mode:lighten"/><polygon points="540,145 542,158 536.3,158" fill="url(#bt115)" stroke="url(#bt115)" stroke-width=".7" style="mix-blend-mode:lighten"/><polygon points="545,145 549.5,145 546,158" fill="url(#bt116)" stroke="url(#bt116)" stroke-width=".7" style="mix-blend-mode:lighten"/><polygon points="545,145 546,158 542,158" fill="url(#bt117)" stroke="url(#bt117)" stroke-width=".7" style="mix-blend-mode:lighten"/><polygon points="549.5,145 553.5,145 551,158" fill="url(#bt118)" stroke="url(#bt118)" stroke-width=".7" style="mix-blend-mode:lighten"/><polygon points="549.5,145 551,158 546,158" fill="url(#bt119)" stroke="url(#bt119)" stroke-width=".7" style="mix-blend-mode:lighten"/><polygon points="553.5,145 558,145 556,158" fill="url(#bt120)" stroke="url(#bt120)" stroke-width=".7" style="mix-blend-mode:lighten"/><polygon points="553.5,145 556,158 551,158" fill="url(#bt121)" stroke="url(#bt121)" stroke-width=".7" style="mix-blend-mode:lighten"/><polygon points="558,145 563,145 563,158" fill="url(#bt122)" stroke="url(#bt122)" stroke-width=".7" style="mix-blend-mode:lighten"/><polygon points="558,145 563,158 556,158" fill="url(#bt123)" stroke="url(#bt123)" stroke-width=".7" style="mix-blend-mode:lighten"/><polygon points="563,145 571,145 570.8,158" fill="url(#bt124)" stroke="url(#bt124)" stroke-width=".7" style="mix-blend-mode:lighten"/><polygon points="563,145 570.8,158 563,158" fill="url(#bt125)" stroke="url(#bt125)" stroke-width=".7" style="mix-blend-mode:lighten"/><polygon points="571,145 573.5,145 573.3,158" fill="url(#bt126)" stroke="url(#bt126)" stroke-width=".7" style="mix-blend-mode:lighten"/><polygon points="571,145 573.3,158 570.8,158" fill="url(#bt127)" stroke="url(#bt127)" stroke-width=".7" style="mix-blend-mode:lighten"/><polygon points="533.3,158 536.3,158 540,175" fill="url(#bt128)" stroke="url(#bt128)" stroke-width=".7" style="mix-blend-mode:lighten"/><polygon points="533.3,158 540,175 537,175" fill="url(#bt129)" stroke="url(#bt129)" stroke-width=".7" style="mix-blend-mode:lighten"/><polygon points="536.3,158 542,158 545,175" fill="url(#bt130)" stroke="url(#bt130)" stroke-width=".7" style="mix-blend-mode:lighten"/><polygon points="536.3,158 545,175 540,175" fill="url(#bt131)" stroke="url(#bt131)" stroke-width=".7" style="mix-blend-mode:lighten"/><polygon points="542,158 546,158 549.5,175" fill="url(#bt132)" stroke="url(#bt132)" stroke-width=".7" style="mix-blend-mode:lighten"/><polygon points="542,158 549.5,175 545,175" fill="url(#bt133)" stroke="url(#bt133)" stroke-width=".7" style="mix-blend-mode:lighten"/><polygon points="546,158 551,158 553.5,175" fill="url(#bt134)" stroke="url(#bt134)" stroke-width=".7" style="mix-blend-mode:lighten"/><polygon points="546,158 553.5,175 549.5,175" fill="url(#bt135)" stroke="url(#bt135)" stroke-width=".7" style="mix-blend-mode:lighten"/><polygon points="551,158 556,158 558,175" fill="url(#bt136)" stroke="url(#bt136)" stroke-width=".7" style="mix-blend-mode:lighten"/><polygon points="551,158 558,175 553.5,175" fill="url(#bt137)" stroke="url(#bt137)" stroke-width=".7" style="mix-blend-mode:lighten"/><polygon points="556,158 563,158 563,175" fill="url(#bt138)" stroke="url(#bt138)" stroke-width=".7" style="mix-blend-mode:lighten"/><polygon points="556,158 563,175 558,175" fill="url(#bt139)" stroke="url(#bt139)" stroke-width=".7" style="mix-blend-mode:lighten"/><polygon points="563,158 570.8,158 570.5,175" fill="url(#bt140)" stroke="url(#bt140)" stroke-width=".7" style="mix-blend-mode:lighten"/><polygon points="563,158 570.5,175 563,175" fill="url(#bt141)" stroke="url(#bt141)" stroke-width=".7" style="mix-blend-mode:lighten"/><polygon points="570.8,158 573.3,158 573,175" fill="url(#bt142)" stroke="url(#bt142)" stroke-width=".7" style="mix-blend-mode:lighten"/><polygon points="570.8,158 573,175 570.5,175" fill="url(#bt143)" stroke="url(#bt143)" stroke-width=".7" style="mix-blend-mode:lighten"/><polygon points="537,175 540,175 542.8,196" fill="url(#bt144)" stroke="url(#bt144)" stroke-width=".7" style="mix-blend-mode:lighten"/><polygon points="537,175 542.8,196 539.8,196" fill="url(#bt145)" stroke="url(#bt145)" stroke-width=".7" style="mix-blend-mode:lighten"/><polygon points="540,175 545,175 547,196" fill="url(#bt146)" stroke="url(#bt146)" stroke-width=".7" style="mix-blend-mode:lighten"/><polygon points="540,175 547,196 542.8,196" fill="url(#bt147)" stroke="url(#bt147)" stroke-width=".7" style="mix-blend-mode:lighten"/><polygon points="545,175 549.5,175 551,196" fill="url(#bt148)" stroke="url(#bt148)" stroke-width=".7" style="mix-blend-mode:lighten"/><polygon points="545,175 551,196 547,196" fill="url(#bt149)" stroke="url(#bt149)" stroke-width=".7" style="mix-blend-mode:lighten"/><polygon points="549.5,175 553.5,175 555,196" fill="url(#bt150)" stroke="url(#bt150)" stroke-width=".7" style="mix-blend-mode:lighten"/><polygon points="549.5,175 555,196 551,196" fill="url(#bt151)" stroke="url(#bt151)" stroke-width=".7" style="mix-blend-mode:lighten"/><polygon points="553.5,175 558,175 559,196" fill="url(#bt152)" stroke="url(#bt152)" stroke-width=".7" style="mix-blend-mode:lighten"/><polygon points="553.5,175 559,196 555,196" fill="url(#bt153)" stroke="url(#bt153)" stroke-width=".7" style="mix-blend-mode:lighten"/><polygon points="558,175 563,175 564,196" fill="url(#bt154)" stroke="url(#bt154)" stroke-width=".7" style="mix-blend-mode:lighten"/><polygon points="558,175 564,196 559,196" fill="url(#bt155)" stroke="url(#bt155)" stroke-width=".7" style="mix-blend-mode:lighten"/><polygon points="563,175 570.5,175 570,196" fill="url(#bt156)" stroke="url(#bt156)" stroke-width=".7" style="mix-blend-mode:lighten"/><polygon points="563,175 570,196 564,196" fill="url(#bt157)" stroke="url(#bt157)" stroke-width=".7" style="mix-blend-mode:lighten"/><polygon points="570.5,175 573,175 572.5,196" fill="url(#bt158)" stroke="url(#bt158)" stroke-width=".7" style="mix-blend-mode:lighten"/><polygon points="570.5,175 572.5,196 570,196" fill="url(#bt159)" stroke="url(#bt159)" stroke-width=".7" style="mix-blend-mode:lighten"/><polygon points="539.8,196 542.8,196 544.5,211" fill="url(#bt160)" stroke="url(#bt160)" stroke-width=".7" style="mix-blend-mode:lighten"/><polygon points="539.8,196 544.5,211 541.5,211" fill="url(#bt161)" stroke="url(#bt161)" stroke-width=".7" style="mix-blend-mode:lighten"/><polygon points="542.8,196 547,196 548.5,211" fill="url(#bt162)" stroke="url(#bt162)" stroke-width=".7" style="mix-blend-mode:lighten"/><polygon points="542.8,196 548.5,211 544.5,211" fill="url(#bt163)" stroke="url(#bt163)" stroke-width=".7" style="mix-blend-mode:lighten"/><polygon points="547,196 551,196 552,211" fill="url(#bt164)" stroke="url(#bt164)" stroke-width=".7" style="mix-blend-mode:lighten"/><polygon points="547,196 552,211 548.5,211" fill="url(#bt165)" stroke="url(#bt165)" stroke-width=".7" style="mix-blend-mode:lighten"/><polygon points="551,196 555,196 556,211" fill="url(#bt166)" stroke="url(#bt166)" stroke-width=".7" style="mix-blend-mode:lighten"/><polygon points="551,196 556,211 552,211" fill="url(#bt167)" stroke="url(#bt167)" stroke-width=".7" style="mix-blend-mode:lighten"/><polygon points="555,196 559,196 560,211" fill="url(#bt168)" stroke="url(#bt168)" stroke-width=".7" style="mix-blend-mode:lighten"/><polygon points="555,196 560,211 556,211" fill="url(#bt169)" stroke="url(#bt169)" stroke-width=".7" style="mix-blend-mode:lighten"/><polygon points="559,196 564,196 564,211" fill="url(#bt170)" stroke="url(#bt170)" stroke-width=".7" style="mix-blend-mode:lighten"/><polygon points="559,196 564,211 560,211" fill="url(#bt171)" stroke="url(#bt171)" stroke-width=".7" style="mix-blend-mode:lighten"/><polygon points="564,196 570,196 569.6,211" fill="url(#bt172)" stroke="url(#bt172)" stroke-width=".7" style="mix-blend-mode:lighten"/><polygon points="564,196 569.6,211 564,211" fill="url(#bt173)" stroke="url(#bt173)" stroke-width=".7" style="mix-blend-mode:lighten"/><polygon points="570,196 572.5,196 572,211" fill="url(#bt174)" stroke="url(#bt174)" stroke-width=".7" style="mix-blend-mode:lighten"/><polygon points="570,196 572,211 569.6,211" fill="url(#bt175)" stroke="url(#bt175)" stroke-width=".7" style="mix-blend-mode:lighten"/><polygon points="541.5,211 544.5,211 546,225" fill="url(#bt176)" stroke="url(#bt176)" stroke-width=".7" style="mix-blend-mode:lighten"/><polygon points="541.5,211 546,225 543.5,225" fill="url(#bt177)" stroke="url(#bt177)" stroke-width=".7" style="mix-blend-mode:lighten"/><polygon points="544.5,211 548.5,211 550,225" fill="url(#bt178)" stroke="url(#bt178)" stroke-width=".7" style="mix-blend-mode:lighten"/><polygon points="544.5,211 550,225 546,225" fill="url(#bt179)" stroke="url(#bt179)" stroke-width=".7" style="mix-blend-mode:lighten"/><polygon points="548.5,211 552,211 553,225" fill="url(#bt180)" stroke="url(#bt180)" stroke-width=".7" style="mix-blend-mode:lighten"/><polygon points="548.5,211 553,225 550,225" fill="url(#bt181)" stroke="url(#bt181)" stroke-width=".7" style="mix-blend-mode:lighten"/><polygon points="552,211 556,211 556,225" fill="url(#bt182)" stroke="url(#bt182)" stroke-width=".7" style="mix-blend-mode:lighten"/><polygon points="552,211 556,225 553,225" fill="url(#bt183)" stroke="url(#bt183)" stroke-width=".7" style="mix-blend-mode:lighten"/><polygon points="556,211 560,211 560,225" fill="url(#bt184)" stroke="url(#bt184)" stroke-width=".7" style="mix-blend-mode:lighten"/><polygon points="556,211 560,225 556,225" fill="url(#bt185)" stroke="url(#bt185)" stroke-width=".7" style="mix-blend-mode:lighten"/><polygon points="560,211 564,211 564,225" fill="url(#bt186)" stroke="url(#bt186)" stroke-width=".7" style="mix-blend-mode:lighten"/><polygon points="560,211 564,225 560,225" fill="url(#bt187)" stroke="url(#bt187)" stroke-width=".7" style="mix-blend-mode:lighten"/><polygon points="564,211 569.6,211 569.2,225" fill="url(#bt188)" stroke="url(#bt188)" stroke-width=".7" style="mix-blend-mode:lighten"/><polygon points="564,211 569.2,225 564,225" fill="url(#bt189)" stroke="url(#bt189)" stroke-width=".7" style="mix-blend-mode:lighten"/><polygon points="569.6,211 572,211 571.5,225" fill="url(#bt190)" stroke="url(#bt190)" stroke-width=".7" style="mix-blend-mode:lighten"/><polygon points="569.6,211 571.5,225 569.2,225" fill="url(#bt191)" stroke="url(#bt191)" stroke-width=".7" style="mix-blend-mode:lighten"/><polygon points="543.5,225 546,225 548,238" fill="url(#bt192)" stroke="url(#bt192)" stroke-width=".7" style="mix-blend-mode:lighten"/><polygon points="543.5,225 548,238 545.5,238" fill="url(#bt193)" stroke="url(#bt193)" stroke-width=".7" style="mix-blend-mode:lighten"/><polygon points="546,225 550,225 551,238" fill="url(#bt194)" stroke="url(#bt194)" stroke-width=".7" style="mix-blend-mode:lighten"/><polygon points="546,225 551,238 548,238" fill="url(#bt195)" stroke="url(#bt195)" stroke-width=".7" style="mix-blend-mode:lighten"/><polygon points="550,225 553,225 554,238" fill="url(#bt196)" stroke="url(#bt196)" stroke-width=".7" style="mix-blend-mode:lighten"/><polygon points="550,225 554,238 551,238" fill="url(#bt197)" stroke="url(#bt197)" stroke-width=".7" style="mix-blend-mode:lighten"/><polygon points="553,225 556,225 557,238" fill="url(#bt198)" stroke="url(#bt198)" stroke-width=".7" style="mix-blend-mode:lighten"/><polygon points="553,225 557,238 554,238" fill="url(#bt199)" stroke="url(#bt199)" stroke-width=".7" style="mix-blend-mode:lighten"/><polygon points="556,225 560,225 560,238" fill="url(#bt200)" stroke="url(#bt200)" stroke-width=".7" style="mix-blend-mode:lighten"/><polygon points="556,225 560,238 557,238" fill="url(#bt201)" stroke="url(#bt201)" stroke-width=".7" style="mix-blend-mode:lighten"/><polygon points="560,225 564,225 563,238" fill="url(#bt202)" stroke="url(#bt202)" stroke-width=".7" style="mix-blend-mode:lighten"/><polygon points="560,225 563,238 560,238" fill="url(#bt203)" stroke="url(#bt203)" stroke-width=".7" style="mix-blend-mode:lighten"/><polygon points="564,225 569.2,225 568.8,238" fill="url(#bt204)" stroke="url(#bt204)" stroke-width=".7" style="mix-blend-mode:lighten"/><polygon points="564,225 568.8,238 563,238" fill="url(#bt205)" stroke="url(#bt205)" stroke-width=".7" style="mix-blend-mode:lighten"/><polygon points="569.2,225 571.5,225 571,238" fill="url(#bt206)" stroke="url(#bt206)" stroke-width=".7" style="mix-blend-mode:lighten"/><polygon points="569.2,225 571,238 568.8,238" fill="url(#bt207)" stroke="url(#bt207)" stroke-width=".7" style="mix-blend-mode:lighten"/></g>
<polygon points="382,26 386,26 382,45" fill="#404040"/>
<line x1="541.5" y1="27.5" x2="541.5" y2="237" stroke="#f4b41c" stroke-width="1.9" stroke-dasharray="4.8 2"/>
<rect x="382.5" y="25.5" width="231" height="212" fill="none" stroke="#4a4a4a"/>
<text x="406.9" y="250.9" font-size="9.2" fill="#333" text-anchor="middle">50</text>
<text x="433.6" y="250.9" font-size="9.2" fill="#333" text-anchor="middle">100</text>
<text x="460.3" y="250.9" font-size="9.2" fill="#333" text-anchor="middle">150</text>
<text x="487" y="250.9" font-size="9.2" fill="#333" text-anchor="middle">200</text>
<text x="513.7" y="250.9" font-size="9.2" fill="#333" text-anchor="middle">250</text>
<text x="540.4" y="250.9" font-size="9.2" fill="#333" text-anchor="middle">300</text>
<text x="567.1" y="250.9" font-size="9.2" fill="#333" text-anchor="middle">350</text>
<text x="593.8" y="250.9" font-size="9.2" fill="#333" text-anchor="middle">400</text>
<text x="374.3" y="215.21" font-size="9.2" fill="#333" text-anchor="end">10</text>
<text x="374.3" y="160.95" font-size="9.2" fill="#333" text-anchor="end">30</text>
<text x="374.3" y="106.69" font-size="9.2" fill="#333" text-anchor="end">50</text>
<text x="374.3" y="52.43" font-size="9.2" fill="#333" text-anchor="end">70</text>
<text x="648" y="28.95" font-size="6.8" fill="#333">9.100E+10</text>
<text x="648" y="50.05" font-size="6.8" fill="#333">8.260E+10</text>
<text x="648" y="71.15" font-size="6.8" fill="#333">7.420E+10</text>
<text x="648" y="92.25" font-size="6.8" fill="#333">6.580E+10</text>
<text x="648" y="113.35" font-size="6.8" fill="#333">5.740E+10</text>
<text x="648" y="134.45" font-size="6.8" fill="#333">4.900E+10</text>
<text x="648" y="155.55" font-size="6.8" fill="#333">4.060E+10</text>
<text x="648" y="176.65" font-size="6.8" fill="#333">3.220E+10</text>
<text x="648" y="197.75" font-size="6.8" fill="#333">2.380E+10</text>
<text x="648" y="218.85" font-size="6.8" fill="#333">1.540E+10</text>
<text x="648" y="239.95" font-size="6.8" fill="#333">7.000E+9</text>
<path d="M406.9 237.5v3.5M433.6 237.5v3.5M460.3 237.5v3.5M487 237.5v3.5M513.7 237.5v3.5M540.4 237.5v3.5M567.1 237.5v3.5M593.8 237.5v3.5M393.55 237.5v2M420.25 237.5v2M446.95 237.5v2M473.65 237.5v2M500.35 237.5v2M527.05 237.5v2M553.75 237.5v2M580.45 237.5v2M607.15 237.5v2M379 212.17h3.5M379 157.91h3.5M379 103.65h3.5M379 49.39h3.5M380.5 185.04h2M380.5 130.78h2M380.5 76.52h2M641.4 26.5h4M641.4 47.6h4M641.4 68.7h4M641.4 89.8h4M641.4 110.9h4M641.4 132h4M641.4 153.1h4M641.4 174.2h4M641.4 195.3h4M641.4 216.4h4M641.4 237.5h4" stroke="#4a4a4a" fill="none"/>
<text x="483.5" y="268.9" font-size="11.4" fill="#222">x, µm</text>
<text font-size="11.4" fill="#222" text-anchor="middle" transform="translate(358,130.3) rotate(-90)">y, µm</text>
<rect x="623" y="26.5" width="18.4" height="211" fill="url(#cbg)" filter="url(#cm)"/>
<rect x="623" y="26.5" width="18.4" height="211" fill="none" stroke="#4a4a4a" stroke-width=".8"/>
<text x="534.5" y="17.6" font-size="11.5" fill="#111" font-weight="bold">Impedance at 1 kHz (Ohm)</text>
<text x="364" y="17.2" font-size="20.5" fill="#111">(b)</text>
<text x="413.6" y="47.5" font-size="11.5" fill="#000" font-weight="bold">DP590 Steel</text>
<text x="559.3" y="47" font-size="11.3" fill="#fff" font-weight="bold">AZ31 Mg</text>
<g filter="url(#cm)" clip-path="url(#cpc)"><rect x="37" y="308" width="223" height="214" fill="#050505"/><rect x="96" y="308" width="51" height="4" fill="url(#c0r0)"/><rect x="96" y="308" width="51" height="4" fill="url(#c0r1)" mask="url(#mf)"/><rect x="96" y="311" width="51" height="6" fill="url(#c0r1)"/><rect x="96" y="311" width="51" height="6" fill="url(#c0r2)" mask="url(#mf)"/><rect x="96" y="316" width="51" height="7" fill="url(#c0r2)"/><rect x="96" y="316" width="51" height="7" fill="url(#c0r3)" mask="url(#mf)"/><rect x="96" y="322" width="51" height="13" fill="url(#c0r3)"/><rect x="96" y="322" width="51" height="13" fill="url(#c0r4)" mask="url(#mf)"/><rect x="96" y="334" width="51" height="4" fill="url(#c0r4)"/><rect x="96" y="334" width="51" height="4" fill="url(#c0r5)" mask="url(#mf)"/><rect x="96" y="337" width="51" height="185" fill="url(#c0r5)"/><rect x="140" y="308" width="42" height="33" fill="url(#c1r0)"/><rect x="140" y="340" width="42" height="26" fill="url(#c1r0)"/><rect x="140" y="340" width="42" height="26" fill="url(#c1r1)" mask="url(#mf)"/><rect x="140" y="365" width="42" height="36" fill="url(#c1r1)"/><rect x="140" y="365" width="42" height="36" fill="url(#c1r2)" mask="url(#mf)"/><rect x="140" y="400" width="42" height="39" fill="url(#c1r2)"/><rect x="140" y="400" width="42" height="39" fill="url(#c1r3)" mask="url(#mf)"/><rect x="140" y="438" width="42" height="38" fill="url(#c1r3)"/><rect x="140" y="438" width="42" height="38" fill="url(#c1r4)" mask="url(#mf)"/><rect x="140" y="475" width="42" height="31" fill="url(#c1r4)"/><rect x="140" y="475" width="42" height="31" fill="url(#c1r5)" mask="url(#mf)"/><rect x="140" y="505" width="42" height="18" fill="url(#c1r5)"/><rect x="140" y="505" width="42" height="18" fill="url(#c1r6)" mask="url(#mf)"/><rect x="219" y="308" width="41" height="48" fill="url(#c2r0)"/><rect x="219" y="355" width="41" height="16" fill="url(#c2r0)"/><rect x="219" y="355" width="41" height="16" fill="url(#c2r1)" mask="url(#mf)"/><rect x="219" y="370" width="41" height="16" fill="url(#c2r1)"/><rect x="219" y="370" width="41" height="16" fill="url(#c2r2)" mask="url(#mf)"/><rect x="219" y="385" width="41" height="11" fill="url(#c2r2)"/><rect x="219" y="385" width="41" height="11" fill="url(#c2r3)" mask="url(#mf)"/><rect x="219" y="395" width="41" height="6" fill="url(#c2r3)"/><rect x="219" y="395" width="41" height="6" fill="url(#c2r4)" mask="url(#mf)"/><rect x="219" y="400" width="41" height="10" fill="url(#c2r4)"/><rect x="219" y="400" width="41" height="10" fill="url(#c2r5)" mask="url(#mf)"/><rect x="219" y="409" width="41" height="10" fill="url(#c2r5)"/><rect x="219" y="409" width="41" height="10" fill="url(#c2r6)" mask="url(#mf)"/><rect x="219" y="418" width="41" height="11" fill="url(#c2r6)"/><rect x="219" y="418" width="41" height="11" fill="url(#c2r7)" mask="url(#mf)"/><rect x="219" y="428" width="41" height="9" fill="url(#c2r7)"/><rect x="219" y="428" width="41" height="9" fill="url(#c2r8)" mask="url(#mf)"/><rect x="219" y="436" width="41" height="10" fill="url(#c2r8)"/><rect x="219" y="436" width="41" height="10" fill="url(#c2r9)" mask="url(#mf)"/><rect x="219" y="445" width="41" height="77" fill="url(#c2r9)"/><polygon points="219,307.5 220,307.5 220,316" fill="url(#ct0)" stroke="url(#ct0)" stroke-width=".7"/><polygon points="219,307.5 220,316 219,316" fill="url(#ct1)" stroke="url(#ct1)" stroke-width=".7"/><polygon points="220,307.5 220.5,307.5 220.5,316" fill="url(#ct2)" stroke="url(#ct2)" stroke-width=".7"/><polygon points="220,307.5 220.5,316 220,316" fill="url(#ct3)" stroke="url(#ct3)" stroke-width=".7"/><polygon points="220.5,307.5 220.8,307.5 220.8,316" fill="url(#ct4)" stroke="url(#ct4)" stroke-width=".7"/><polygon points="220.5,307.5 220.8,316 220.5,316" fill="url(#ct5)" stroke="url(#ct5)" stroke-width=".7"/><polygon points="220.8,307.5 221.5,307.5 221.5,316" fill="url(#ct6)" stroke="url(#ct6)" stroke-width=".7"/><polygon points="220.8,307.5 221.5,316 220.8,316" fill="url(#ct7)" stroke="url(#ct7)" stroke-width=".7"/><polygon points="221.5,307.5 222,307.5 222,316" fill="url(#ct8)" stroke="url(#ct8)" stroke-width=".7"/><polygon points="221.5,307.5 222,316 221.5,316" fill="url(#ct9)" stroke="url(#ct9)" stroke-width=".7"/><polygon points="222,307.5 222.4,307.5 222.4,316" fill="url(#ct10)" stroke="url(#ct10)" stroke-width=".7"/><polygon points="222,307.5 222.4,316 222,316" fill="url(#ct11)" stroke="url(#ct11)" stroke-width=".7"/><polygon points="222.4,307.5 222.7,307.5 222.7,316" fill="url(#ct12)" stroke="url(#ct12)" stroke-width=".7"/><polygon points="222.4,307.5 222.7,316 222.4,316" fill="url(#ct13)" stroke="url(#ct13)" stroke-width=".7"/><polygon points="222.7,307.5 243.5,307.5 243.5,316" fill="#ffffff" stroke="#ffffff" stroke-width=".7"/><polygon points="222.7,307.5 243.5,316 222.7,316" fill="#ffffff" stroke="#ffffff" stroke-width=".7"/><polygon points="243.5,307.5 244.3,307.5 244.3,316" fill="url(#ct16)" stroke="url(#ct16)" stroke-width=".7"/><polygon points="243.5,307.5 244.3,316 243.5,316" fill="url(#ct17)" stroke="url(#ct17)" stroke-width=".7"/><polygon points="244.3,307.5 245,307.5 245,316" fill="url(#ct18)" stroke="url(#ct18)" stroke-width=".7"/><polygon points="244.3,307.5 245,316 244.3,316" fill="url(#ct19)" stroke="url(#ct19)" stroke-width=".7"/><polygon points="245,307.5 246.5,307.5 246.5,316" fill="url(#ct20)" stroke="url(#ct20)" stroke-width=".7"/><polygon points="245,307.5 246.5,316 245,316" fill="url(#ct21)" stroke="url(#ct21)" stroke-width=".7"/><polygon points="246.5,307.5 250,307.5 250,316" fill="url(#ct22)" stroke="url(#ct22)" stroke-width=".7"/><polygon points="246.5,307.5 250,316 246.5,316" fill="url(#ct23)" stroke="url(#ct23)" stroke-width=".7"/><polygon points="250,307.5 254,307.5 254,316" fill="url(#ct24)" stroke="url(#ct24)" stroke-width=".7"/><polygon points="250,307.5 254,316 250,316" fill="url(#ct25)" stroke="url(#ct25)" stroke-width=".7"/><polygon points="254,307.5 257.5,307.5 257.5,316" fill="url(#ct26)" stroke="url(#ct26)" stroke-width=".7"/><polygon points="254,307.5 257.5,316 254,316" fill="url(#ct27)" stroke="url(#ct27)" stroke-width=".7"/><polygon points="257.5,307.5 260,307.5 260,316" fill="url(#ct28)" stroke="url(#ct28)" stroke-width=".7"/><polygon points="257.5,307.5 260,316 257.5,316" fill="url(#ct29)" stroke="url(#ct29)" stroke-width=".7"/><polygon points="219,316 220,316 220.5,334" fill="url(#ct30)" stroke="url(#ct30)" stroke-width=".7"/><polygon points="219,316 220.5,334 219,334" fill="url(#ct31)" stroke="url(#ct31)" stroke-width=".7"/><polygon points="220,316 220.5,316 224,334" fill="url(#ct32)" stroke="url(#ct32)" stroke-width=".7"/><polygon points="220,316 224,334 220.5,334" fill="url(#ct33)" stroke="url(#ct33)" stroke-width=".7"/><polygon points="220.5,316 220.8,316 227.5,334" fill="url(#ct34)" stroke="url(#ct34)" stroke-width=".7"/><polygon points="220.5,316 227.5,334 224,334" fill="url(#ct35)" stroke="url(#ct35)" stroke-width=".7"/><polygon points="220.8,316 221.5,316 231,334" fill="url(#ct36)" stroke="url(#ct36)" stroke-width=".7"/><polygon points="220.8,316 231,334 227.5,334" fill="url(#ct37)" stroke="url(#ct37)" stroke-width=".7"/><polygon points="221.5,316 222,316 234.3,334" fill="url(#ct38)" stroke="url(#ct38)" stroke-width=".7"/><polygon points="221.5,316 234.3,334 231,334" fill="url(#ct39)" stroke="url(#ct39)" stroke-width=".7"/><polygon points="222,316 222.4,316 236,334" fill="url(#ct40)" stroke="url(#ct40)" stroke-width=".7"/><polygon points="222,316 236,334 234.3,334" fill="url(#ct41)" stroke="url(#ct41)" stroke-width=".7"/><polygon points="222.4,316 222.7,316 237.5,334" fill="url(#ct42)" stroke="url(#ct42)" stroke-width=".7"/><polygon points="222.4,316 237.5,334 236,334" fill="url(#ct43)" stroke="url(#ct43)" stroke-width=".7"/><polygon points="222.7,316 243.5,316 239,334" fill="url(#ct44)" stroke="url(#ct44)" stroke-width=".7"/><polygon points="222.7,316 239,334 237.5,334" fill="url(#ct45)" stroke="url(#ct45)" stroke-width=".7"/><polygon points="243.5,316 244.3,316 241,334" fill="url(#ct46)" stroke="url(#ct46)" stroke-width=".7"/><polygon points="243.5,316 241,334 239,334" fill="url(#ct47)" stroke="url(#ct47)" stroke-width=".7"/><polygon points="244.3,316 245,316 243.5,334" fill="url(#ct48)" stroke="url(#ct48)" stroke-width=".7"/><polygon points="244.3,316 243.5,334 241,334" fill="url(#ct49)" stroke="url(#ct49)" stroke-width=".7"/><polygon points="245,316 246.5,316 246.5,334" fill="url(#ct50)" stroke="url(#ct50)" stroke-width=".7"/><polygon points="245,316 246.5,334 243.5,334" fill="url(#ct51)" stroke="url(#ct51)" stroke-width=".7"/><polygon points="246.5,316 250,316 250.5,334" fill="url(#ct52)" stroke="url(#ct52)" stroke-width=".7"/><polygon points="246.5,316 250.5,334 246.5,334" fill="url(#ct53)" stroke="url(#ct53)" stroke-width=".7"/><polygon points="250,316 254,316 254.5,334" fill="url(#ct54)" stroke="url(#ct54)" stroke-width=".7"/><polygon points="250,316 254.5,334 250.5,334" fill="url(#ct55)" stroke="url(#ct55)" stroke-width=".7"/><polygon points="254,316 257.5,316 257.5,334" fill="url(#ct56)" stroke="url(#ct56)" stroke-width=".7"/><polygon points="254,316 257.5,334 254.5,334" fill="url(#ct57)" stroke="url(#ct57)" stroke-width=".7"/><polygon points="257.5,316 260,316 260,334" fill="url(#ct58)" stroke="url(#ct58)" stroke-width=".7"/><polygon points="257.5,316 260,334 257.5,334" fill="url(#ct59)" stroke="url(#ct59)" stroke-width=".7"/><polygon points="219,334 220.5,334 220.5,345" fill="url(#ct60)" stroke="url(#ct60)" stroke-width=".7"/><polygon points="219,334 220.5,345 219,345" fill="url(#ct61)" stroke="url(#ct61)" stroke-width=".7"/><polygon points="220.5,334 224,334 222.5,345" fill="url(#ct62)" stroke="url(#ct62)" stroke-width=".7"/><polygon points="220.5,334 222.5,345 220.5,345" fill="url(#ct63)" stroke="url(#ct63)" stroke-width=".7"/><polygon points="224,334 227.5,334 224.5,345" fill="url(#ct64)" stroke="url(#ct64)" stroke-width=".7"/><polygon points="224,334 224.5,345 222.5,345" fill="url(#ct65)" stroke="url(#ct65)" stroke-width=".7"/><polygon points="227.5,334 231,334 228,345" fill="url(#ct66)" stroke="url(#ct66)" stroke-width=".7"/><polygon points="227.5,334 228,345 224.5,345" fill="url(#ct67)" stroke="url(#ct67)" stroke-width=".7"/><polygon points="231,334 234.3,334 231.5,345" fill="url(#ct68)" stroke="url(#ct68)" stroke-width=".7"/><polygon points="231,334 231.5,345 228,345" fill="url(#ct69)" stroke="url(#ct69)" stroke-width=".7"/><polygon points="234.3,334 236,334 234,345" fill="url(#ct70)" stroke="url(#ct70)" stroke-width=".7"/><polygon points="234.3,334 234,345 231.5,345" fill="url(#ct71)" stroke="url(#ct71)" stroke-width=".7"/><polygon points="236,334 237.5,334 236,345" fill="url(#ct72)" stroke="url(#ct72)" stroke-width=".7"/><polygon points="236,334 236,345 234,345" fill="url(#ct73)" stroke="url(#ct73)" stroke-width=".7"/><polygon points="237.5,334 239,334 239,345" fill="url(#ct74)" stroke="url(#ct74)" stroke-width=".7"/><polygon points="237.5,334 239,345 236,345" fill="url(#ct75)" stroke="url(#ct75)" stroke-width=".7"/><polygon points="239,334 241,334 241,345" fill="url(#ct76)" stroke="url(#ct76)" stroke-width=".7"/><polygon points="239,334 241,345 239,345" fill="url(#ct77)" stroke="url(#ct77)" stroke-width=".7"/><polygon points="241,334 243.5,334 243.5,345" fill="url(#ct78)" stroke="url(#ct78)" stroke-width=".7"/><polygon points="241,334 243.5,345 241,345" fill="url(#ct79)" stroke="url(#ct79)" stroke-width=".7"/><polygon points="243.5,334 246.5,334 246.5,345" fill="url(#ct80)" stroke="url(#ct80)" stroke-width=".7"/><polygon points="243.5,334 246.5,345 243.5,345" fill="url(#ct81)" stroke="url(#ct81)" stroke-width=".7"/><polygon points="246.5,334 250.5,334 250.5,345" fill="url(#ct82)" stroke="url(#ct82)" stroke-width=".7"/><polygon points="246.5,334 250.5,345 246.5,345" fill="url(#ct83)" stroke="url(#ct83)" stroke-width=".7"/><polygon points="250.5,334 254.5,334 254.5,345" fill="url(#ct84)" stroke="url(#ct84)" stroke-width=".7"/><polygon points="250.5,334 254.5,345 250.5,345" fill="url(#ct85)" stroke="url(#ct85)" stroke-width=".7"/><polygon points="254.5,334 257.5,334 257.5,345" fill="url(#ct86)" stroke="url(#ct86)" stroke-width=".7"/><polygon points="254.5,334 257.5,345 254.5,345" fill="url(#ct87)" stroke="url(#ct87)" stroke-width=".7"/><polygon points="257.5,334 260,334 260,345" fill="url(#ct88)" stroke="url(#ct88)" stroke-width=".7"/><polygon points="257.5,334 260,345 257.5,345" fill="url(#ct89)" stroke="url(#ct89)" stroke-width=".7"/><polygon points="219,345 220.5,345 220.5,355" fill="url(#ct90)" stroke="url(#ct90)" stroke-width=".7"/><polygon points="219,345 220.5,355 219,355" fill="url(#ct91)" stroke="url(#ct91)" stroke-width=".7"/><polygon points="220.5,345 222.5,345 222.2,355" fill="url(#ct92)" stroke="url(#ct92)" stroke-width=".7"/><polygon points="220.5,345 222.2,355 220.5,355" fill="url(#ct93)" stroke="url(#ct93)" stroke-width=".7"/><polygon points="222.5,345 224.5,345 224,355" fill="url(#ct94)" stroke="url(#ct94)" stroke-width=".7"/><polygon points="222.5,345 224,355 222.2,355" fill="url(#ct95)" stroke="url(#ct95)" stroke-width=".7"/><polygon points="224.5,345 228,345 227.5,355" fill="url(#ct96)" stroke="url(#ct96)" stroke-width=".7"/><polygon points="224.5,345 227.5,355 224,355" fill="url(#ct97)" stroke="url(#ct97)" stroke-width=".7"/><polygon points="228,345 231.5,345 231,355" fill="url(#ct98)" stroke="url(#ct98)" stroke-width=".7"/><polygon points="228,345 231,355 227.5,355" fill="url(#ct99)" stroke="url(#ct99)" stroke-width=".7"/><polygon points="231.5,345 234,345 233.5,355" fill="url(#ct100)" stroke="url(#ct100)" stroke-width=".7"/><polygon points="231.5,345 233.5,355 231,355" fill="url(#ct101)" stroke="url(#ct101)" stroke-width=".7"/><polygon points="234,345 236,345 236,355" fill="url(#ct102)" stroke="url(#ct102)" stroke-width=".7"/><polygon points="234,345 236,355 233.5,355" fill="url(#ct103)" stroke="url(#ct103)" stroke-width=".7"/><polygon points="236,345 239,345 239.5,355" fill="url(#ct104)" stroke="url(#ct104)" stroke-width=".7"/><polygon points="236,345 239.5,355 236,355" fill="url(#ct105)" stroke="url(#ct105)" stroke-width=".7"/><polygon points="239,345 241,345 241.5,355" fill="url(#ct106)" stroke="url(#ct106)" stroke-width=".7"/><polygon points="239,345 241.5,355 239.5,355" fill="url(#ct107)" stroke="url(#ct107)" stroke-width=".7"/><polygon points="241,345 243.5,345 243.5,355" fill="url(#ct108)" stroke="url(#ct108)" stroke-width=".7"/><polygon points="241,345 243.5,355 241.5,355" fill="url(#ct109)" stroke="url(#ct109)" stroke-width=".7"/><polygon points="243.5,345 246.5,345 246.5,355" fill="url(#ct110)" stroke="url(#ct110)" stroke-width=".7"/><polygon points="243.5,345 246.5,355 243.5,355" fill="url(#ct111)" stroke="url(#ct111)" stroke-width=".7"/><polygon points="246.5,345 250.5,345 250,355" fill="url(#ct112)" stroke="url(#ct112)" stroke-width=".7"/><polygon points="246.5,345 250,355 246.5,355" fill="url(#ct113)" stroke="url(#ct113)" stroke-width=".7"/><polygon points="250.5,345 254.5,345 254,355" fill="url(#ct114)" stroke="url(#ct114)" stroke-width=".7"/><polygon points="250.5,345 254,355 250,355" fill="url(#ct115)" stroke="url(#ct115)" stroke-width=".7"/><polygon points="254.5,345 257.5,345 257.5,355" fill="url(#ct116)" stroke="url(#ct116)" stroke-width=".7"/><polygon points="254.5,345 257.5,355 254,355" fill="url(#ct117)" stroke="url(#ct117)" stroke-width=".7"/><polygon points="257.5,345 260,345 260,355" fill="url(#ct118)" stroke="url(#ct118)" stroke-width=".7"/><polygon points="257.5,345 260,355 257.5,355" fill="url(#ct119)" stroke="url(#ct119)" stroke-width=".7"/></g>
<rect x="258.8" y="308" width="0.9" height="19" fill="#fff"/>
<line x1="188.7" y1="309.5" x2="188.7" y2="522" stroke="#f4b41c" stroke-width="1.9" stroke-dasharray="4.8 2"/>
<rect x="36.5" y="307.5" width="224" height="215" fill="none" stroke="#4a4a4a"/>
<text x="36.2" y="536.6" font-size="8.9" fill="#333" text-anchor="middle">0</text>
<text x="61.6" y="536.6" font-size="8.9" fill="#333" text-anchor="middle">50</text>
<text x="87" y="536.6" font-size="8.9" fill="#333" text-anchor="middle">100</text>
<text x="112.4" y="536.6" font-size="8.9" fill="#333" text-anchor="middle">150</text>
<text x="137.8" y="536.6" font-size="8.9" fill="#333" text-anchor="middle">200</text>
<text x="163.2" y="536.6" font-size="8.9" fill="#333" text-anchor="middle">250</text>
<text x="188.6" y="536.6" font-size="8.9" fill="#333" text-anchor="middle">300</text>
<text x="214" y="536.6" font-size="8.9" fill="#333" text-anchor="middle">350</text>
<text x="239.4" y="536.6" font-size="8.9" fill="#333" text-anchor="middle">400</text>
<text x="28.2" y="498.31" font-size="8.9" fill="#333" text-anchor="end">10</text>
<text x="28.2" y="445.65" font-size="8.9" fill="#333" text-anchor="end">30</text>
<text x="28.2" y="392.99" font-size="8.9" fill="#333" text-anchor="end">50</text>
<text x="28.2" y="340.33" font-size="8.9" fill="#333" text-anchor="end">70</text>
<text x="294.4" y="311.08" font-size="6.9" fill="#333">1.000E+9</text>
<text x="294.4" y="332.42" font-size="6.9" fill="#333">9.000E+8</text>
<text x="294.4" y="353.76" font-size="6.9" fill="#333">8.000E+8</text>
<text x="294.4" y="375.1" font-size="6.9" fill="#333">7.000E+8</text>
<text x="294.4" y="396.44" font-size="6.9" fill="#333">6.000E+8</text>
<text x="294.4" y="417.78" font-size="6.9" fill="#333">5.000E+8</text>
<text x="294.4" y="439.12" font-size="6.9" fill="#333">4.000E+8</text>
<text x="294.4" y="460.46" font-size="6.9" fill="#333">3.000E+8</text>
<text x="294.4" y="481.8" font-size="6.9" fill="#333">2.000E+8</text>
<text x="294.4" y="503.14" font-size="6.9" fill="#333">1.000E+8</text>
<text x="294.4" y="524.48" font-size="6.9" fill="#333">0.000</text>
<path d="M36.2 522.5v3.5M61.6 522.5v3.5M87 522.5v3.5M112.4 522.5v3.5M137.8 522.5v3.5M163.2 522.5v3.5M188.6 522.5v3.5M214 522.5v3.5M239.4 522.5v3.5M48.9 522.5v2M74.3 522.5v2M99.7 522.5v2M125.1 522.5v2M150.5 522.5v2M175.9 522.5v2M201.3 522.5v2M226.7 522.5v2M252.1 522.5v2M33 495.37h3.5M33 442.71h3.5M33 390.05h3.5M33 337.39h3.5M34.5 521.7h2M34.5 469.04h2M34.5 416.38h2M34.5 363.72h2M34.5 311.06h2M287 308.6h4M287 329.94h4M287 351.28h4M287 372.62h4M287 393.96h4M287 415.3h4M287 436.64h4M287 457.98h4M287 479.32h4M287 500.66h4M287 522h4" stroke="#4a4a4a" fill="none"/>
<text x="135" y="554.9" font-size="11.2" fill="#222">x, µm</text>
<text font-size="11.2" fill="#222" text-anchor="middle" transform="translate(13.5,415) rotate(-90)">y, µm</text>
<rect x="269.6" y="308.6" width="17.4" height="213.4" fill="url(#cbg)" filter="url(#cm)"/>
<rect x="269.6" y="308.6" width="17.4" height="213.4" fill="none" stroke="#4a4a4a" stroke-width=".8"/>
<text x="184" y="298" font-size="11.1" fill="#111" font-weight="bold">Impedance at 10 Hz (Ohm)</text>
<text x="3.9" y="307.5" font-size="20.5" fill="#111">(c)</text>
<text x="67" y="329.5" font-size="11.1" fill="#000" font-weight="bold">DP590 Steel</text>
<text x="207.2" y="329" font-size="11.4" fill="#fff" font-weight="bold">AZ31 Mg</text>
<g filter="url(#cm)" clip-path="url(#cpd)"><rect x="386" y="303" width="223" height="211" fill="#050505"/><rect x="444" y="303" width="55" height="13" fill="url(#d0r0)"/><rect x="444" y="303" width="55" height="13" fill="url(#d0r1)" mask="url(#mf)"/><rect x="444" y="315" width="55" height="5" fill="url(#d0r1)"/><rect x="444" y="315" width="55" height="5" fill="url(#d0r2)" mask="url(#mf)"/><rect x="444" y="319" width="55" height="4" fill="url(#d0r2)"/><rect x="444" y="319" width="55" height="4" fill="url(#d0r3)" mask="url(#mf)"/><rect x="444" y="322" width="55" height="5" fill="url(#d0r3)"/><rect x="444" y="322" width="55" height="5" fill="url(#d0r4)" mask="url(#mf)"/><rect x="444" y="326" width="55" height="5" fill="url(#d0r4)"/><rect x="444" y="326" width="55" height="5" fill="url(#d0r5)" mask="url(#mf)"/><rect x="444" y="330" width="55" height="3" fill="url(#d0r5)"/><rect x="444" y="330" width="55" height="3" fill="url(#d0r6)" mask="url(#mf)"/><rect x="444" y="332" width="55" height="182" fill="url(#d0r6)"/><rect x="518" y="303" width="23" height="38" fill="url(#d1r0)"/><rect x="518" y="303" width="23" height="38" fill="url(#d1r1)" mask="url(#mf)"/><rect x="518" y="340" width="23" height="61" fill="url(#d1r1)"/><rect x="518" y="340" width="23" height="61" fill="url(#d1r2)" mask="url(#mf)"/><rect x="518" y="400" width="23" height="71" fill="url(#d1r2)"/><rect x="518" y="400" width="23" height="71" fill="url(#d1r3)" mask="url(#mf)"/><rect x="518" y="470" width="23" height="45" fill="url(#d1r3)"/><rect x="518" y="470" width="23" height="45" fill="url(#d1r4)" mask="url(#mf)"/><rect x="540" y="303" width="70" height="21" fill="url(#d2r0)"/><rect x="540" y="303" width="70" height="21" fill="url(#d2r1)" mask="url(#mf)"/><rect x="540" y="323" width="70" height="6" fill="url(#d2r1)"/><rect x="540" y="323" width="70" height="6" fill="url(#d2r2)" mask="url(#mf)"/><rect x="540" y="328" width="70" height="6" fill="url(#d2r2)"/><rect x="540" y="328" width="70" height="6" fill="url(#d2r3)" mask="url(#mf)"/><rect x="540" y="333" width="70" height="18" fill="url(#d2r3)"/><rect x="540" y="333" width="70" height="18" fill="url(#d2r4)" mask="url(#mf)"/><rect x="540" y="350" width="70" height="26" fill="url(#d2r4)"/><rect x="540" y="350" width="70" height="26" fill="url(#d2r5)" mask="url(#mf)"/><rect x="540" y="375" width="70" height="38" fill="url(#d2r5)"/><rect x="540" y="375" width="70" height="38" fill="url(#d2r6)" mask="url(#mf)"/><rect x="540" y="412" width="70" height="21" fill="url(#d2r6)"/><rect x="540" y="412" width="70" height="21" fill="url(#d2r7)" mask="url(#mf)"/><rect x="540" y="432" width="70" height="14" fill="url(#d2r7)"/><rect x="540" y="432" width="70" height="14" fill="url(#d2r8)" mask="url(#mf)"/><rect x="540" y="445" width="70" height="70" fill="url(#d2r8)"/><rect x="540" y="445" width="70" height="70" fill="url(#d2r9)" mask="url(#mf)"/><polygon points="505,336 508,336 507,350" fill="url(#dt0)" stroke="url(#dt0)" stroke-width=".7" style="mix-blend-mode:lighten"/><polygon points="505,336 507,350 504,350" fill="url(#dt1)" stroke="url(#dt1)" stroke-width=".7" style="mix-blend-mode:lighten"/><polygon points="508,336 509.5,336 508.79,350" fill="url(#dt2)" stroke="url(#dt2)" stroke-width=".7" style="mix-blend-mode:lighten"/><polygon points="508,336 508.79,350 507,350" fill="url(#dt3)" stroke="url(#dt3)" stroke-width=".7" style="mix-blend-mode:lighten"/><polygon points="509.5,336 511,336 510.58,350" fill="url(#dt4)" stroke="url(#dt4)" stroke-width=".7" style="mix-blend-mode:lighten"/><polygon points="509.5,336 510.58,350 508.79,350" fill="url(#dt5)" stroke="url(#dt5)" stroke-width=".7" style="mix-blend-mode:lighten"/><polygon points="511,336 515.5,336 515.79,350" fill="url(#dt6)" stroke="url(#dt6)" stroke-width=".7" style="mix-blend-mode:lighten"/><polygon points="511,336 515.79,350 510.58,350" fill="url(#dt7)" stroke="url(#dt7)" stroke-width=".7" style="mix-blend-mode:lighten"/><polygon points="515.5,336 520,336 521,350" fill="url(#dt8)" stroke="url(#dt8)" stroke-width=".7" style="mix-blend-mode:lighten"/><polygon points="515.5,336 521,350 515.79,350" fill="url(#dt9)" stroke="url(#dt9)" stroke-width=".7" style="mix-blend-mode:lighten"/><polygon points="520,336 522.5,336 523.5,350" fill="url(#dt10)" stroke="url(#dt10)" stroke-width=".7" style="mix-blend-mode:lighten"/><polygon points="520,336 523.5,350 521,350" fill="url(#dt11)" stroke="url(#dt11)" stroke-width=".7" style="mix-blend-mode:lighten"/><polygon points="504,350 507,350 506,363" fill="url(#dt12)" stroke="url(#dt12)" stroke-width=".7" style="mix-blend-mode:lighten"/><polygon points="504,350 506,363 503,363" fill="url(#dt13)" stroke="url(#dt13)" stroke-width=".7" style="mix-blend-mode:lighten"/><polygon points="507,350 508.79,350 508.1,363" fill="url(#dt14)" stroke="url(#dt14)" stroke-width=".7" style="mix-blend-mode:lighten"/><polygon points="507,350 508.1,363 506,363" fill="url(#dt15)" stroke="url(#dt15)" stroke-width=".7" style="mix-blend-mode:lighten"/><polygon points="508.79,350 510.58,350 510.2,363" fill="url(#dt16)" stroke="url(#dt16)" stroke-width=".7" style="mix-blend-mode:lighten"/><polygon points="508.79,350 510.2,363 508.1,363" fill="url(#dt17)" stroke="url(#dt17)" stroke-width=".7" style="mix-blend-mode:lighten"/><polygon points="510.58,350 515.79,350 515.85,363" fill="url(#dt18)" stroke="url(#dt18)" stroke-width=".7" style="mix-blend-mode:lighten"/><polygon points="510.58,350 515.85,363 510.2,363" fill="url(#dt19)" stroke="url(#dt19)" stroke-width=".7" style="mix-blend-mode:lighten"/><polygon points="515.79,350 521,350 521.5,363" fill="url(#dt20)" stroke="url(#dt20)" stroke-width=".7" style="mix-blend-mode:lighten"/><polygon points="515.79,350 521.5,363 515.85,363" fill="url(#dt21)" stroke="url(#dt21)" stroke-width=".7" style="mix-blend-mode:lighten"/><polygon points="521,350 523.5,350 524,363" fill="url(#dt22)" stroke="url(#dt22)" stroke-width=".7" style="mix-blend-mode:lighten"/><polygon points="521,350 524,363 521.5,363" fill="url(#dt23)" stroke="url(#dt23)" stroke-width=".7" style="mix-blend-mode:lighten"/><polygon points="503,363 506,363 503.5,380" fill="url(#dt24)" stroke="url(#dt24)" stroke-width=".7" style="mix-blend-mode:lighten"/><polygon points="503,363 503.5,380 500.5,380" fill="url(#dt25)" stroke="url(#dt25)" stroke-width=".7" style="mix-blend-mode:lighten"/><polygon points="506,363 508.1,363 506.6,380" fill="url(#dt26)" stroke="url(#dt26)" stroke-width=".7" style="mix-blend-mode:lighten"/><polygon points="506,363 506.6,380 503.5,380" fill="url(#dt27)" stroke="url(#dt27)" stroke-width=".7" style="mix-blend-mode:lighten"/><polygon points="508.1,363 510.2,363 509.69,380" fill="url(#dt28)" stroke="url(#dt28)" stroke-width=".7" style="mix-blend-mode:lighten"/><polygon points="508.1,363 509.69,380 506.6,380" fill="url(#dt29)" stroke="url(#dt29)" stroke-width=".7" style="mix-blend-mode:lighten"/><polygon points="510.2,363 515.85,363 515.6,380" fill="url(#dt30)" stroke="url(#dt30)" stroke-width=".7" style="mix-blend-mode:lighten"/><polygon points="510.2,363 515.6,380 509.69,380" fill="url(#dt31)" stroke="url(#dt31)" stroke-width=".7" style="mix-blend-mode:lighten"/><polygon points="515.85,363 521.5,363 521.5,380" fill="url(#dt32)" stroke="url(#dt32)" stroke-width=".7" style="mix-blend-mode:lighten"/><polygon points="515.85,363 521.5,380 515.6,380" fill="url(#dt33)" stroke="url(#dt33)" stroke-width=".7" style="mix-blend-mode:lighten"/><polygon points="521.5,363 524,363 524,380" fill="url(#dt34)" stroke="url(#dt34)" stroke-width=".7" style="mix-blend-mode:lighten"/><polygon points="521.5,363 524,380 521.5,380" fill="url(#dt35)" stroke="url(#dt35)" stroke-width=".7" style="mix-blend-mode:lighten"/><polygon points="500.5,380 503.5,380 501,392" fill="url(#dt36)" stroke="url(#dt36)" stroke-width=".7" style="mix-blend-mode:lighten"/><polygon points="500.5,380 501,392 498,392" fill="url(#dt37)" stroke="url(#dt37)" stroke-width=".7" style="mix-blend-mode:lighten"/><polygon points="503.5,380 506.6,380 505.17,392" fill="url(#dt38)" stroke="url(#dt38)" stroke-width=".7" style="mix-blend-mode:lighten"/><polygon points="503.5,380 505.17,392 501,392" fill="url(#dt39)" stroke="url(#dt39)" stroke-width=".7" style="mix-blend-mode:lighten"/><polygon points="506.6,380 509.69,380 509.34,392" fill="url(#dt40)" stroke="url(#dt40)" stroke-width=".7" style="mix-blend-mode:lighten"/><polygon points="506.6,380 509.34,392 505.17,392" fill="url(#dt41)" stroke="url(#dt41)" stroke-width=".7" style="mix-blend-mode:lighten"/><polygon points="509.69,380 515.6,380 515.67,392" fill="url(#dt42)" stroke="url(#dt42)" stroke-width=".7" style="mix-blend-mode:lighten"/><polygon points="509.69,380 515.67,392 509.34,392" fill="url(#dt43)" stroke="url(#dt43)" stroke-width=".7" style="mix-blend-mode:lighten"/><polygon points="515.6,380 521.5,380 522,392" fill="url(#dt44)" stroke="url(#dt44)" stroke-width=".7" style="mix-blend-mode:lighten"/><polygon points="515.6,380 522,392 515.67,392" fill="url(#dt45)" stroke="url(#dt45)" stroke-width=".7" style="mix-blend-mode:lighten"/><polygon points="521.5,380 524,380 524.5,392" fill="url(#dt46)" stroke="url(#dt46)" stroke-width=".7" style="mix-blend-mode:lighten"/><polygon points="521.5,380 524.5,392 522,392" fill="url(#dt47)" stroke="url(#dt47)" stroke-width=".7" style="mix-blend-mode:lighten"/><polygon points="498,392 501,392 498,404" fill="url(#dt48)" stroke="url(#dt48)" stroke-width=".7" style="mix-blend-mode:lighten"/><polygon points="498,392 498,404 495,404" fill="url(#dt49)" stroke="url(#dt49)" stroke-width=".7" style="mix-blend-mode:lighten"/><polygon points="501,392 505.17,392 503.49,404" fill="url(#dt50)" stroke="url(#dt50)" stroke-width=".7" style="mix-blend-mode:lighten"/><polygon points="501,392 503.49,404 498,404" fill="url(#dt51)" stroke="url(#dt51)" stroke-width=".7" style="mix-blend-mode:lighten"/><polygon points="505.17,392 509.34,392 508.98,404" fill="url(#dt52)" stroke="url(#dt52)" stroke-width=".7" style="mix-blend-mode:lighten"/><polygon points="505.17,392 508.98,404 503.49,404" fill="url(#dt53)" stroke="url(#dt53)" stroke-width=".7" style="mix-blend-mode:lighten"/><polygon points="509.34,392 515.67,392 515.74,404" fill="url(#dt54)" stroke="url(#dt54)" stroke-width=".7" style="mix-blend-mode:lighten"/><polygon points="509.34,392 515.74,404 508.98,404" fill="url(#dt55)" stroke="url(#dt55)" stroke-width=".7" style="mix-blend-mode:lighten"/><polygon points="515.67,392 522,392 522.5,404" fill="url(#dt56)" stroke="url(#dt56)" stroke-width=".7" style="mix-blend-mode:lighten"/><polygon points="515.67,392 522.5,404 515.74,404" fill="url(#dt57)" stroke="url(#dt57)" stroke-width=".7" style="mix-blend-mode:lighten"/><polygon points="522,392 524.5,392 525,404" fill="url(#dt58)" stroke="url(#dt58)" stroke-width=".7" style="mix-blend-mode:lighten"/><polygon points="522,392 525,404 522.5,404" fill="url(#dt59)" stroke="url(#dt59)" stroke-width=".7" style="mix-blend-mode:lighten"/><polygon points="495,404 498,404 494.5,425" fill="url(#dt60)" stroke="url(#dt60)" stroke-width=".7" style="mix-blend-mode:lighten"/><polygon points="495,404 494.5,425 491.5,425" fill="url(#dt61)" stroke="url(#dt61)" stroke-width=".7" style="mix-blend-mode:lighten"/><polygon points="498,404 503.49,404 501.43,425" fill="url(#dt62)" stroke="url(#dt62)" stroke-width=".7" style="mix-blend-mode:lighten"/><polygon points="498,404 501.43,425 494.5,425" fill="url(#dt63)" stroke="url(#dt63)" stroke-width=".7" style="mix-blend-mode:lighten"/><polygon points="503.49,404 508.98,404 508.36,425" fill="url(#dt64)" stroke="url(#dt64)" stroke-width=".7" style="mix-blend-mode:lighten"/><polygon points="503.49,404 508.36,425 501.43,425" fill="url(#dt65)" stroke="url(#dt65)" stroke-width=".7" style="mix-blend-mode:lighten"/><polygon points="508.98,404 515.74,404 515.93,425" fill="url(#dt66)" stroke="url(#dt66)" stroke-width=".7" style="mix-blend-mode:lighten"/><polygon points="508.98,404 515.93,425 508.36,425" fill="url(#dt67)" stroke="url(#dt67)" stroke-width=".7" style="mix-blend-mode:lighten"/><polygon points="515.74,404 522.5,404 523.5,425" fill="url(#dt68)" stroke="url(#dt68)" stroke-width=".7" style="mix-blend-mode:lighten"/><polygon points="515.74,404 523.5,425 515.93,425" fill="url(#dt69)" stroke="url(#dt69)" stroke-width=".7" style="mix-blend-mode:lighten"/><polygon points="522.5,404 525,404 526,425" fill="url(#dt70)" stroke="url(#dt70)" stroke-width=".7" style="mix-blend-mode:lighten"/><polygon points="522.5,404 526,425 523.5,425" fill="url(#dt71)" stroke="url(#dt71)" stroke-width=".7" style="mix-blend-mode:lighten"/><polygon points="491.5,425 494.5,425 492.2,437" fill="url(#dt72)" stroke="url(#dt72)" stroke-width=".7" style="mix-blend-mode:lighten"/><polygon points="491.5,425 492.2,437 489.2,437" fill="url(#dt73)" stroke="url(#dt73)" stroke-width=".7" style="mix-blend-mode:lighten"/><polygon points="494.5,425 501.43,425 500.1,437" fill="url(#dt74)" stroke="url(#dt74)" stroke-width=".7" style="mix-blend-mode:lighten"/><polygon points="494.5,425 500.1,437 492.2,437" fill="url(#dt75)" stroke="url(#dt75)" stroke-width=".7" style="mix-blend-mode:lighten"/><polygon points="501.43,425 508.36,425 508,437" fill="url(#dt76)" stroke="url(#dt76)" stroke-width=".7" style="mix-blend-mode:lighten"/><polygon points="501.43,425 508,437 500.1,437" fill="url(#dt77)" stroke="url(#dt77)" stroke-width=".7" style="mix-blend-mode:lighten"/><polygon points="508.36,425 515.93,425 516,437" fill="url(#dt78)" stroke="url(#dt78)" stroke-width=".7" style="mix-blend-mode:lighten"/><polygon points="508.36,425 516,437 508,437" fill="url(#dt79)" stroke="url(#dt79)" stroke-width=".7" style="mix-blend-mode:lighten"/><polygon points="515.93,425 523.5,425 524,437" fill="url(#dt80)" stroke="url(#dt80)" stroke-width=".7" style="mix-blend-mode:lighten"/><polygon points="515.93,425 524,437 516,437" fill="url(#dt81)" stroke="url(#dt81)" stroke-width=".7" style="mix-blend-mode:lighten"/><polygon points="523.5,425 526,425 526.5,437" fill="url(#dt82)" stroke="url(#dt82)" stroke-width=".7" style="mix-blend-mode:lighten"/><polygon points="523.5,425 526.5,437 524,437" fill="url(#dt83)" stroke="url(#dt83)" stroke-width=".7" style="mix-blend-mode:lighten"/><polygon points="489.2,437 492.2,437 494.5,450" fill="url(#dt84)" stroke="url(#dt84)" stroke-width=".7" style="mix-blend-mode:lighten"/><polygon points="489.2,437 494.5,450 491.5,450" fill="url(#dt85)" stroke="url(#dt85)" stroke-width=".7" style="mix-blend-mode:lighten"/><polygon points="492.2,437 500.1,437 501.5,450" fill="url(#dt86)" stroke="url(#dt86)" stroke-width=".7" style="mix-blend-mode:lighten"/><polygon points="492.2,437 501.5,450 494.5,450" fill="url(#dt87)" stroke="url(#dt87)" stroke-width=".7" style="mix-blend-mode:lighten"/><polygon points="500.1,437 508,437 508.49,450" fill="url(#dt88)" stroke="url(#dt88)" stroke-width=".7" style="mix-blend-mode:lighten"/><polygon points="500.1,437 508.49,450 501.5,450" fill="url(#dt89)" stroke="url(#dt89)" stroke-width=".7" style="mix-blend-mode:lighten"/><polygon points="508,437 516,437 516,450" fill="url(#dt90)" stroke="url(#dt90)" stroke-width=".7" style="mix-blend-mode:lighten"/><polygon points="508,437 516,450 508.49,450" fill="url(#dt91)" stroke="url(#dt91)" stroke-width=".7" style="mix-blend-mode:lighten"/><polygon points="516,437 524,437 523.5,450" fill="url(#dt92)" stroke="url(#dt92)" stroke-width=".7" style="mix-blend-mode:lighten"/><polygon points="516,437 523.5,450 516,450" fill="url(#dt93)" stroke="url(#dt93)" stroke-width=".7" style="mix-blend-mode:lighten"/><polygon points="524,437 526.5,437 526,450" fill="url(#dt94)" stroke="url(#dt94)" stroke-width=".7" style="mix-blend-mode:lighten"/><polygon points="524,437 526,450 523.5,450" fill="url(#dt95)" stroke="url(#dt95)" stroke-width=".7" style="mix-blend-mode:lighten"/><polygon points="491.5,450 494.5,450 497.5,470" fill="url(#dt96)" stroke="url(#dt96)" stroke-width=".7" style="mix-blend-mode:lighten"/><polygon points="491.5,450 497.5,470 494.5,470" fill="url(#dt97)" stroke="url(#dt97)" stroke-width=".7" style="mix-blend-mode:lighten"/><polygon points="494.5,450 501.5,450 503.38,470" fill="url(#dt98)" stroke="url(#dt98)" stroke-width=".7" style="mix-blend-mode:lighten"/><polygon points="494.5,450 503.38,470 497.5,470" fill="url(#dt99)" stroke="url(#dt99)" stroke-width=".7" style="mix-blend-mode:lighten"/><polygon points="501.5,450 508.49,450 509.25,470" fill="url(#dt100)" stroke="url(#dt100)" stroke-width=".7" style="mix-blend-mode:lighten"/><polygon points="501.5,450 509.25,470 503.38,470" fill="url(#dt101)" stroke="url(#dt101)" stroke-width=".7" style="mix-blend-mode:lighten"/><polygon points="508.49,450 516,450 515.88,470" fill="url(#dt102)" stroke="url(#dt102)" stroke-width=".7" style="mix-blend-mode:lighten"/><polygon points="508.49,450 515.88,470 509.25,470" fill="url(#dt103)" stroke="url(#dt103)" stroke-width=".7" style="mix-blend-mode:lighten"/><polygon points="516,450 523.5,450 522.5,470" fill="url(#dt104)" stroke="url(#dt104)" stroke-width=".7" style="mix-blend-mode:lighten"/><polygon points="516,450 522.5,470 515.88,470" fill="url(#dt105)" stroke="url(#dt105)" stroke-width=".7" style="mix-blend-mode:lighten"/><polygon points="523.5,450 526,450 525,470" fill="url(#dt106)" stroke="url(#dt106)" stroke-width=".7" style="mix-blend-mode:lighten"/><polygon points="523.5,450 525,470 522.5,470" fill="url(#dt107)" stroke="url(#dt107)" stroke-width=".7" style="mix-blend-mode:lighten"/><polygon points="494.5,470 497.5,470 500.5,490" fill="url(#dt108)" stroke="url(#dt108)" stroke-width=".7" style="mix-blend-mode:lighten"/><polygon points="494.5,470 500.5,490 497.5,490" fill="url(#dt109)" stroke="url(#dt109)" stroke-width=".7" style="mix-blend-mode:lighten"/><polygon points="497.5,470 503.38,470 505.26,490" fill="url(#dt110)" stroke="url(#dt110)" stroke-width=".7" style="mix-blend-mode:lighten"/><polygon points="497.5,470 505.26,490 500.5,490" fill="url(#dt111)" stroke="url(#dt111)" stroke-width=".7" style="mix-blend-mode:lighten"/><polygon points="503.38,470 509.25,470 510.01,490" fill="url(#dt112)" stroke="url(#dt112)" stroke-width=".7" style="mix-blend-mode:lighten"/><polygon points="503.38,470 510.01,490 505.26,490" fill="url(#dt113)" stroke="url(#dt113)" stroke-width=".7" style="mix-blend-mode:lighten"/><polygon points="509.25,470 515.88,470 515.76,490" fill="url(#dt114)" stroke="url(#dt114)" stroke-width=".7" style="mix-blend-mode:lighten"/><polygon points="509.25,470 515.76,490 510.01,490" fill="url(#dt115)" stroke="url(#dt115)" stroke-width=".7" style="mix-blend-mode:lighten"/><polygon points="515.88,470 522.5,470 521.5,490" fill="url(#dt116)" stroke="url(#dt116)" stroke-width=".7" style="mix-blend-mode:lighten"/><polygon points="515.88,470 521.5,490 515.76,490" fill="url(#dt117)" stroke="url(#dt117)" stroke-width=".7" style="mix-blend-mode:lighten"/><polygon points="522.5,470 525,470 524,490" fill="url(#dt118)" stroke="url(#dt118)" stroke-width=".7" style="mix-blend-mode:lighten"/><polygon points="522.5,470 524,490 521.5,490" fill="url(#dt119)" stroke="url(#dt119)" stroke-width=".7" style="mix-blend-mode:lighten"/><polygon points="497.5,490 500.5,490 503,516" fill="url(#dt120)" stroke="url(#dt120)" stroke-width=".7" style="mix-blend-mode:lighten"/><polygon points="497.5,490 503,516 500,516" fill="url(#dt121)" stroke="url(#dt121)" stroke-width=".7" style="mix-blend-mode:lighten"/><polygon points="500.5,490 505.26,490 507,516" fill="url(#dt122)" stroke="url(#dt122)" stroke-width=".7" style="mix-blend-mode:lighten"/><polygon points="500.5,490 507,516 503,516" fill="url(#dt123)" stroke="url(#dt123)" stroke-width=".7" style="mix-blend-mode:lighten"/><polygon points="505.26,490 510.01,490 511,516" fill="url(#dt124)" stroke="url(#dt124)" stroke-width=".7" style="mix-blend-mode:lighten"/><polygon points="505.26,490 511,516 507,516" fill="url(#dt125)" stroke="url(#dt125)" stroke-width=".7" style="mix-blend-mode:lighten"/><polygon points="510.01,490 515.76,490 515.75,516" fill="url(#dt126)" stroke="url(#dt126)" stroke-width=".7" style="mix-blend-mode:lighten"/><polygon points="510.01,490 515.75,516 511,516" fill="url(#dt127)" stroke="url(#dt127)" stroke-width=".7" style="mix-blend-mode:lighten"/><polygon points="515.76,490 521.5,490 520.5,516" fill="url(#dt128)" stroke="url(#dt128)" stroke-width=".7" style="mix-blend-mode:lighten"/><polygon points="515.76,490 520.5,516 515.75,516" fill="url(#dt129)" stroke="url(#dt129)" stroke-width=".7" style="mix-blend-mode:lighten"/><polygon points="521.5,490 524,490 523,516" fill="url(#dt130)" stroke="url(#dt130)" stroke-width=".7" style="mix-blend-mode:lighten"/><polygon points="521.5,490 523,516 520.5,516" fill="url(#dt131)" stroke="url(#dt131)" stroke-width=".7" style="mix-blend-mode:lighten"/></g>
<line x1="538.8" y1="304.5" x2="538.8" y2="514" stroke="#f4b41c" stroke-width="1.9" stroke-dasharray="4.8 2"/>
<rect x="385.5" y="302.5" width="224" height="212" fill="none" stroke="#4a4a4a"/>
<text x="386.3" y="527.6" font-size="8.9" fill="#333" text-anchor="middle">0</text>
<text x="411.57" y="527.6" font-size="8.9" fill="#333" text-anchor="middle">50</text>
<text x="436.85" y="527.6" font-size="8.9" fill="#333" text-anchor="middle">100</text>
<text x="462.12" y="527.6" font-size="8.9" fill="#333" text-anchor="middle">150</text>
<text x="487.4" y="527.6" font-size="8.9" fill="#333" text-anchor="middle">200</text>
<text x="512.67" y="527.6" font-size="8.9" fill="#333" text-anchor="middle">250</text>
<text x="537.95" y="527.6" font-size="8.9" fill="#333" text-anchor="middle">300</text>
<text x="563.23" y="527.6" font-size="8.9" fill="#333" text-anchor="middle">350</text>
<text x="588.5" y="527.6" font-size="8.9" fill="#333" text-anchor="middle">400</text>
<text x="377.8" y="490.81" font-size="8.9" fill="#333" text-anchor="end">10</text>
<text x="377.8" y="438.95" font-size="8.9" fill="#333" text-anchor="end">30</text>
<text x="377.8" y="387.09" font-size="8.9" fill="#333" text-anchor="end">50</text>
<text x="377.8" y="335.23" font-size="8.9" fill="#333" text-anchor="end">70</text>
<text x="644" y="305.88" font-size="6.9" fill="#333">1.000E+9</text>
<text x="644" y="326.94" font-size="6.9" fill="#333">9.000E+8</text>
<text x="644" y="348" font-size="6.9" fill="#333">8.000E+8</text>
<text x="644" y="369.06" font-size="6.9" fill="#333">7.000E+8</text>
<text x="644" y="390.12" font-size="6.9" fill="#333">6.000E+8</text>
<text x="644" y="411.18" font-size="6.9" fill="#333">5.000E+8</text>
<text x="644" y="432.24" font-size="6.9" fill="#333">4.000E+8</text>
<text x="644" y="453.3" font-size="6.9" fill="#333">3.000E+8</text>
<text x="644" y="474.36" font-size="6.9" fill="#333">2.000E+8</text>
<text x="644" y="495.42" font-size="6.9" fill="#333">1.000E+8</text>
<text x="644" y="516.48" font-size="6.9" fill="#333">0.000</text>
<path d="M386.3 514.5v3.5M411.57 514.5v3.5M436.85 514.5v3.5M462.12 514.5v3.5M487.4 514.5v3.5M512.67 514.5v3.5M537.95 514.5v3.5M563.23 514.5v3.5M588.5 514.5v3.5M398.94 514.5v2M424.21 514.5v2M449.49 514.5v2M474.76 514.5v2M500.04 514.5v2M525.31 514.5v2M550.59 514.5v2M575.86 514.5v2M601.14 514.5v2M382 487.87h3.5M382 436.01h3.5M382 384.15h3.5M382 332.29h3.5M383.5 513.8h2M383.5 461.94h2M383.5 410.08h2M383.5 358.22h2M383.5 306.36h2M636.8 303.4h4M636.8 324.46h4M636.8 345.52h4M636.8 366.58h4M636.8 387.64h4M636.8 408.7h4M636.8 429.76h4M636.8 450.82h4M636.8 471.88h4M636.8 492.94h4M636.8 514h4" stroke="#4a4a4a" fill="none"/>
<text x="484" y="546.5" font-size="11.2" fill="#222">x, µm</text>
<text font-size="11.2" fill="#222" text-anchor="middle" transform="translate(363,408) rotate(-90)">y, µm</text>
<rect x="618.7" y="303.4" width="18.1" height="210.6" fill="url(#cbg)" filter="url(#cm)"/>
<rect x="618.7" y="303.4" width="18.1" height="210.6" fill="none" stroke="#4a4a4a" stroke-width=".8"/>
<text x="536.4" y="293.3" font-size="11.1" fill="#111" font-weight="bold">Impedance at 1 Hz (Ohm)</text>
<text x="365" y="300.5" font-size="20.5" fill="#111">(d)</text>
<text x="416.4" y="325" font-size="11.15" fill="#000" font-weight="bold">DP590 Steel</text>
<text x="557.3" y="324.8" font-size="11" fill="#fff" font-weight="bold">AZ31 Mg</text></svg></body></html>
